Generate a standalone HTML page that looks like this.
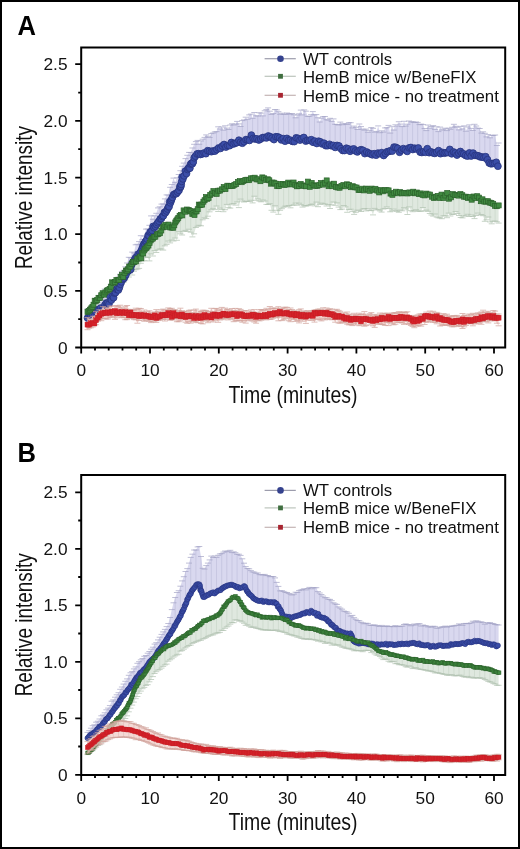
<!DOCTYPE html>
<html><head><meta charset="utf-8"><style>html,body{margin:0;padding:0;background:#fff}svg{display:block;will-change:transform}</style></head>
<body>
<svg width="520" height="849" viewBox="0 0 520 849">
<style>.tl{font-family:"Liberation Sans",sans-serif;font-size:17.3px;fill:#111}.lg{font-family:"Liberation Sans",sans-serif;font-size:16.8px;fill:#111}.ti{font-family:"Liberation Sans",sans-serif;font-size:23.6px;fill:#111}.pl{font-family:"Liberation Sans",sans-serif;font-weight:bold;font-size:27.5px;fill:#000}</style>
<rect x="0" y="0" width="520" height="849" fill="#fff"/>
<rect x="1" y="1" width="518" height="847" fill="none" stroke="#000" stroke-width="2"/>
<polygon points="87.5,308.9 89.2,310.4 90.9,307.4 92.7,306.6 94.4,304.6 96.1,306.6 97.8,302.8 99.5,296.8 101.3,299.0 103.0,294.3 104.7,289.1 106.4,292.6 108.1,294.3 109.9,289.1 111.6,284.0 113.3,282.0 115.0,284.2 116.7,279.6 118.5,277.0 120.2,274.3 121.9,271.6 123.6,270.3 125.3,266.8 127.1,263.0 128.8,257.3 130.5,257.7 132.2,252.1 133.9,253.0 135.7,244.8 137.4,244.3 139.1,241.6 140.8,235.7 142.5,239.6 144.3,236.2 146.0,229.1 147.7,229.0 149.4,225.3 151.1,215.9 152.9,219.3 154.6,215.8 156.3,213.3 158.0,207.9 159.7,206.8 161.5,204.1 163.2,203.9 164.9,198.9 166.6,194.9 168.3,195.1 170.1,187.3 171.8,184.5 173.5,178.1 175.2,182.4 176.9,177.8 178.7,174.5 180.4,170.7 182.1,166.3 183.8,163.1 185.5,158.6 187.3,155.3 189.0,152.4 190.7,152.5 192.4,148.0 194.1,144.3 195.9,141.6 197.6,140.4 199.3,144.3 201.0,141.0 202.7,139.2 204.5,137.4 206.2,134.9 207.9,136.3 209.6,137.5 211.3,133.6 213.1,133.0 214.8,131.9 216.5,131.6 218.2,126.8 219.9,129.0 221.7,127.0 223.4,130.2 225.1,125.8 226.8,128.1 228.5,129.5 230.3,125.0 232.0,123.8 233.7,125.0 235.4,124.1 237.1,121.4 238.9,123.9 240.6,126.5 242.3,120.6 244.0,119.9 245.7,117.2 247.5,119.3 249.2,114.9 250.9,114.1 252.6,118.3 254.3,112.5 256.1,115.8 257.8,116.0 259.5,112.8 261.2,113.1 262.9,115.9 264.7,110.8 266.4,109.6 268.1,107.9 269.8,111.2 271.5,114.5 273.3,113.5 275.0,109.5 276.7,109.9 278.4,111.7 280.1,114.3 281.9,113.2 283.6,114.2 285.3,114.4 287.0,113.0 288.7,113.6 290.5,114.2 292.2,113.5 293.9,114.8 295.6,117.8 297.3,115.0 299.1,113.8 300.8,110.1 302.5,114.9 304.2,109.9 305.9,111.2 307.7,116.4 309.4,116.3 311.1,114.7 312.8,111.6 314.5,114.9 316.3,114.6 318.0,117.8 319.7,122.0 321.4,118.2 323.1,116.7 324.9,116.5 326.6,119.7 328.3,120.1 330.0,118.3 331.7,121.4 333.5,118.9 335.2,124.3 336.9,124.5 338.6,125.0 340.3,122.1 342.1,124.7 343.8,123.8 345.5,123.8 347.2,124.4 348.9,122.7 350.7,122.7 352.4,127.9 354.1,126.1 355.8,127.3 357.5,129.5 359.3,124.0 361.0,126.6 362.7,129.2 364.4,130.2 366.1,129.1 367.9,132.3 369.6,130.6 371.3,127.6 373.0,128.3 374.7,132.2 376.5,131.4 378.2,125.9 379.9,132.7 381.6,130.8 383.3,132.1 385.1,127.9 386.8,127.7 388.5,125.4 390.2,133.1 391.9,126.7 393.7,130.1 395.4,124.8 397.1,126.1 398.8,121.7 400.5,124.1 402.3,126.6 404.0,121.3 405.7,126.1 407.4,124.2 409.1,121.0 410.9,121.9 412.6,121.8 414.3,122.5 416.0,122.0 417.7,122.4 419.5,124.6 421.2,124.1 422.9,124.6 424.6,128.5 426.3,130.6 428.1,125.0 429.8,128.2 431.5,126.5 433.2,125.6 434.9,129.4 436.7,126.8 438.4,131.6 440.1,127.1 441.8,130.1 443.5,129.1 445.3,128.2 447.0,130.6 448.7,128.3 450.4,129.3 452.1,127.3 453.9,124.3 455.6,126.3 457.3,127.3 459.0,129.9 460.7,126.4 462.5,129.0 464.2,125.9 465.9,131.2 467.6,127.0 469.3,124.9 471.1,128.4 472.8,130.5 474.5,124.3 476.2,126.0 477.9,128.1 479.7,128.5 481.4,133.1 483.1,131.8 484.8,133.3 486.5,136.9 488.3,134.6 490.0,137.8 491.7,135.4 493.4,135.5 495.1,135.0 496.9,145.5 498.6,143.0 498.6,162.5 496.9,163.5 495.1,162.5 493.4,163.2 491.7,159.3 490.0,163.5 488.3,160.5 486.5,159.9 484.8,157.6 483.1,158.4 481.4,156.2 479.7,155.4 477.9,155.2 476.2,154.1 474.5,155.6 472.8,155.2 471.1,156.2 469.3,153.4 467.6,154.6 465.9,155.9 464.2,153.8 462.5,153.8 460.7,154.2 459.0,153.0 457.3,152.5 455.6,152.0 453.9,148.6 452.1,149.7 450.4,153.6 448.7,152.9 447.0,151.9 445.3,154.9 443.5,151.2 441.8,151.8 440.1,155.2 438.4,155.6 436.7,153.9 434.9,153.2 433.2,153.5 431.5,150.3 429.8,154.0 428.1,151.0 426.3,152.8 424.6,152.3 422.9,151.6 421.2,150.6 419.5,149.0 417.7,149.9 416.0,149.2 414.3,145.7 412.6,147.0 410.9,148.6 409.1,149.2 407.4,150.1 405.7,148.7 404.0,148.6 402.3,148.4 400.5,149.7 398.8,148.1 397.1,148.2 395.4,148.8 393.7,149.9 391.9,149.6 390.2,153.1 388.5,150.3 386.8,151.4 385.1,153.6 383.3,153.2 381.6,154.7 379.9,153.1 378.2,154.4 376.5,154.4 374.7,155.3 373.0,151.6 371.3,152.9 369.6,153.2 367.9,151.2 366.1,154.9 364.4,153.1 362.7,150.8 361.0,151.0 359.3,153.9 357.5,150.2 355.8,148.9 354.1,149.9 352.4,149.3 350.7,149.3 348.9,148.0 347.2,147.8 345.5,147.0 343.8,147.6 342.1,148.6 340.3,146.6 338.6,148.3 336.9,144.4 335.2,145.2 333.5,144.8 331.7,145.7 330.0,144.8 328.3,147.0 326.6,143.6 324.9,144.2 323.1,143.5 321.4,143.3 319.7,144.9 318.0,144.1 316.3,139.7 314.5,141.5 312.8,141.9 311.1,139.1 309.4,140.8 307.7,137.2 305.9,140.8 304.2,136.6 302.5,140.1 300.8,138.0 299.1,136.8 297.3,139.6 295.6,139.1 293.9,140.3 292.2,140.6 290.5,141.9 288.7,139.1 287.0,140.2 285.3,137.8 283.6,138.8 281.9,138.1 280.1,136.2 278.4,137.9 276.7,137.9 275.0,136.6 273.3,136.6 271.5,137.5 269.8,137.1 268.1,135.8 266.4,135.6 264.7,140.1 262.9,137.4 261.2,136.1 259.5,137.1 257.8,134.8 256.1,135.7 254.3,138.8 252.6,136.9 250.9,139.8 249.2,139.4 247.5,141.3 245.7,140.1 244.0,142.2 242.3,141.9 240.6,143.6 238.9,145.0 237.1,143.1 235.4,144.1 233.7,142.9 232.0,144.5 230.3,144.9 228.5,146.0 226.8,145.6 225.1,145.9 223.4,149.2 221.7,147.2 219.9,147.6 218.2,148.1 216.5,150.1 214.8,151.4 213.1,150.0 211.3,150.0 209.6,148.4 207.9,152.6 206.2,151.1 204.5,150.8 202.7,154.8 201.0,155.0 199.3,154.1 197.6,154.5 195.9,154.6 194.1,158.3 192.4,160.6 190.7,164.8 189.0,167.9 187.3,174.2 185.5,175.2 183.8,176.3 182.1,180.4 180.4,186.1 178.7,191.2 176.9,192.3 175.2,192.2 173.5,196.7 171.8,201.3 170.1,202.3 168.3,208.0 166.6,211.8 164.9,211.1 163.2,218.0 161.5,218.9 159.7,219.2 158.0,223.1 156.3,225.2 154.6,227.0 152.9,228.9 151.1,233.7 149.4,235.2 147.7,236.9 146.0,242.7 144.3,243.5 142.5,246.8 140.8,250.9 139.1,252.2 137.4,256.7 135.7,258.7 133.9,260.8 132.2,260.8 130.5,266.8 128.8,270.1 127.1,273.2 125.3,274.2 123.6,278.7 121.9,279.5 120.2,283.3 118.5,285.4 116.7,290.4 115.0,292.0 113.3,297.8 111.6,299.1 109.9,299.8 108.1,303.2 106.4,305.3 104.7,307.2 103.0,307.4 101.3,309.0 99.5,312.5 97.8,311.8 96.1,311.3 94.4,313.1 92.7,313.5 90.9,315.3 89.2,317.1 87.5,317.6" fill="#d9d8ef" fill-opacity="1.0"/>
<path d="M87.5 308.9V317.6M92.7 306.6V313.5M97.8 302.8V311.8M103.0 294.3V307.4M108.1 294.3V303.2M113.3 282.0V297.8M118.5 277.0V285.4M123.6 270.3V278.7M128.8 257.3V270.1M133.9 253.0V260.8M139.1 241.6V252.2M144.3 236.2V243.5M149.4 225.3V235.2M154.6 215.8V227.0M159.7 206.8V219.2M164.9 198.9V211.1M170.1 187.3V202.3M175.2 182.4V192.2M180.4 170.7V186.1M185.5 158.6V175.2M190.7 152.5V164.8M195.9 141.6V154.6M201.0 141.0V155.0M206.2 134.9V151.1M211.3 133.6V150.0M216.5 131.6V150.1M221.7 127.0V147.2M226.8 128.1V145.6M232.0 123.8V144.5M237.1 121.4V143.1M242.3 120.6V141.9M247.5 119.3V141.3M252.6 118.3V136.9M257.8 116.0V134.8M262.9 115.9V137.4M268.1 107.9V135.8M273.3 113.5V136.6M278.4 111.7V137.9M283.6 114.2V138.8M288.7 113.6V139.1M293.9 114.8V140.3M299.1 113.8V136.8M304.2 109.9V136.6M309.4 116.3V140.8M314.5 114.9V141.5M319.7 122.0V144.9M324.9 116.5V144.2M330.0 118.3V144.8M335.2 124.3V145.2M340.3 122.1V146.6M345.5 123.8V147.0M350.7 122.7V149.3M355.8 127.3V148.9M361.0 126.6V151.0M366.1 129.1V154.9M371.3 127.6V152.9M376.5 131.4V154.4M381.6 130.8V154.7M386.8 127.7V151.4M391.9 126.7V149.6M397.1 126.1V148.2M402.3 126.6V148.4M407.4 124.2V150.1M412.6 121.8V147.0M417.7 122.4V149.9M422.9 124.6V151.6M428.1 125.0V151.0M433.2 125.6V153.5M438.4 131.6V155.6M443.5 129.1V151.2M448.7 128.3V152.9M453.9 124.3V148.6M459.0 129.9V153.0M464.2 125.9V153.8M469.3 124.9V153.4M474.5 124.3V155.6M479.7 128.5V155.4M484.8 133.3V157.6M490.0 137.8V163.5M495.1 135.0V162.5" stroke="#a3a3c6" stroke-opacity="0.45" stroke-width="0.7" fill="none"/>
<path d="M84.5 308.9h6M86.2 310.4h6M87.9 307.4h6M89.7 306.6h6M91.4 304.6h6M93.1 306.6h6M94.8 302.8h6M96.5 296.8h6M98.3 299.0h6M100.0 294.3h6M101.7 289.1h6M103.4 292.6h6M105.1 294.3h6M106.9 289.1h6M108.6 284.0h6M110.3 282.0h6M112.0 284.2h6M113.7 279.6h6M115.5 277.0h6M117.2 274.3h6M118.9 271.6h6M120.6 270.3h6M122.3 266.8h6M124.1 263.0h6M125.8 257.3h6M127.5 257.7h6M129.2 252.1h6M130.9 253.0h6M132.7 244.8h6M134.4 244.3h6M136.1 241.6h6M137.8 235.7h6M139.5 239.6h6M141.3 236.2h6M143.0 229.1h6M144.7 229.0h6M146.4 225.3h6M148.1 215.9h6M149.9 219.3h6M151.6 215.8h6M153.3 213.3h6M155.0 207.9h6M156.7 206.8h6M158.5 204.1h6M160.2 203.9h6M161.9 198.9h6M163.6 194.9h6M165.3 195.1h6M167.1 187.3h6M168.8 184.5h6M170.5 178.1h6M172.2 182.4h6M173.9 177.8h6M175.7 174.5h6M177.4 170.7h6M179.1 166.3h6M180.8 163.1h6M182.5 158.6h6M184.3 155.3h6M186.0 152.4h6M187.7 152.5h6M189.4 148.0h6M191.1 144.3h6M192.9 141.6h6M194.6 140.4h6M196.3 144.3h6M198.0 141.0h6M199.7 139.2h6M201.5 137.4h6M203.2 134.9h6M204.9 136.3h6M206.6 137.5h6M208.3 133.6h6M210.1 133.0h6M211.8 131.9h6M213.5 131.6h6M215.2 126.8h6M216.9 129.0h6M218.7 127.0h6M220.4 130.2h6M222.1 125.8h6M223.8 128.1h6M225.5 129.5h6M227.3 125.0h6M229.0 123.8h6M230.7 125.0h6M232.4 124.1h6M234.1 121.4h6M235.9 123.9h6M237.6 126.5h6M239.3 120.6h6M241.0 119.9h6M242.7 117.2h6M244.5 119.3h6M246.2 114.9h6M247.9 114.1h6M249.6 118.3h6M251.3 112.5h6M253.1 115.8h6M254.8 116.0h6M256.5 112.8h6M258.2 113.1h6M259.9 115.9h6M261.7 110.8h6M263.4 109.6h6M265.1 107.9h6M266.8 111.2h6M268.5 114.5h6M270.3 113.5h6M272.0 109.5h6M273.7 109.9h6M275.4 111.7h6M277.1 114.3h6M278.9 113.2h6M280.6 114.2h6M282.3 114.4h6M284.0 113.0h6M285.7 113.6h6M287.5 114.2h6M289.2 113.5h6M290.9 114.8h6M292.6 117.8h6M294.3 115.0h6M296.1 113.8h6M297.8 110.1h6M299.5 114.9h6M301.2 109.9h6M302.9 111.2h6M304.7 116.4h6M306.4 116.3h6M308.1 114.7h6M309.8 111.6h6M311.5 114.9h6M313.3 114.6h6M315.0 117.8h6M316.7 122.0h6M318.4 118.2h6M320.1 116.7h6M321.9 116.5h6M323.6 119.7h6M325.3 120.1h6M327.0 118.3h6M328.7 121.4h6M330.5 118.9h6M332.2 124.3h6M333.9 124.5h6M335.6 125.0h6M337.3 122.1h6M339.1 124.7h6M340.8 123.8h6M342.5 123.8h6M344.2 124.4h6M345.9 122.7h6M347.7 122.7h6M349.4 127.9h6M351.1 126.1h6M352.8 127.3h6M354.5 129.5h6M356.3 124.0h6M358.0 126.6h6M359.7 129.2h6M361.4 130.2h6M363.1 129.1h6M364.9 132.3h6M366.6 130.6h6M368.3 127.6h6M370.0 128.3h6M371.7 132.2h6M373.5 131.4h6M375.2 125.9h6M376.9 132.7h6M378.6 130.8h6M380.3 132.1h6M382.1 127.9h6M383.8 127.7h6M385.5 125.4h6M387.2 133.1h6M388.9 126.7h6M390.7 130.1h6M392.4 124.8h6M394.1 126.1h6M395.8 121.7h6M397.5 124.1h6M399.3 126.6h6M401.0 121.3h6M402.7 126.1h6M404.4 124.2h6M406.1 121.0h6M407.9 121.9h6M409.6 121.8h6M411.3 122.5h6M413.0 122.0h6M414.7 122.4h6M416.5 124.6h6M418.2 124.1h6M419.9 124.6h6M421.6 128.5h6M423.3 130.6h6M425.1 125.0h6M426.8 128.2h6M428.5 126.5h6M430.2 125.6h6M431.9 129.4h6M433.7 126.8h6M435.4 131.6h6M437.1 127.1h6M438.8 130.1h6M440.5 129.1h6M442.3 128.2h6M444.0 130.6h6M445.7 128.3h6M447.4 129.3h6M449.1 127.3h6M450.9 124.3h6M452.6 126.3h6M454.3 127.3h6M456.0 129.9h6M457.7 126.4h6M459.5 129.0h6M461.2 125.9h6M462.9 131.2h6M464.6 127.0h6M466.3 124.9h6M468.1 128.4h6M469.8 130.5h6M471.5 124.3h6M473.2 126.0h6M474.9 128.1h6M476.7 128.5h6M478.4 133.1h6M480.1 131.8h6M481.8 133.3h6M483.5 136.9h6M485.3 134.6h6M487.0 137.8h6M488.7 135.4h6M490.4 135.5h6M492.1 135.0h6M493.9 145.5h6M495.6 143.0h6" stroke="#a3a3c6" stroke-width="0.7" fill="none"/>
<polygon points="87.5,311.2 89.2,309.2 90.9,307.0 92.7,305.2 94.4,302.3 96.1,300.7 97.8,297.8 99.5,296.8 101.3,298.1 103.0,293.9 104.7,292.1 106.4,291.4 108.1,290.0 109.9,286.2 111.6,285.3 113.3,284.8 115.0,282.6 116.7,281.0 118.5,281.1 120.2,277.0 121.9,276.1 123.6,273.8 125.3,274.3 127.1,268.1 128.8,267.2 130.5,265.0 132.2,264.4 133.9,262.9 135.7,262.3 137.4,257.5 139.1,258.6 140.8,255.4 142.5,252.4 144.3,251.1 146.0,246.8 147.7,243.0 149.4,242.4 151.1,238.7 152.9,237.2 154.6,236.2 156.3,234.8 158.0,234.8 159.7,231.5 161.5,228.6 163.2,227.7 164.9,225.9 166.6,223.8 168.3,225.9 170.1,225.4 171.8,224.6 173.5,226.2 175.2,222.5 176.9,220.2 178.7,217.4 180.4,216.3 182.1,213.9 183.8,213.4 185.5,211.7 187.3,210.8 189.0,210.0 190.7,209.3 192.4,213.1 194.1,214.1 195.9,212.0 197.6,207.7 199.3,208.4 201.0,204.6 202.7,200.9 204.5,198.2 206.2,198.0 207.9,196.5 209.6,194.4 211.3,194.2 213.1,192.4 214.8,192.6 216.5,190.2 218.2,189.9 219.9,190.3 221.7,191.6 223.4,187.1 225.1,187.2 226.8,186.3 228.5,187.5 230.3,184.7 232.0,184.8 233.7,184.6 235.4,182.9 237.1,182.2 238.9,182.2 240.6,180.1 242.3,180.5 244.0,181.3 245.7,181.5 247.5,180.8 249.2,178.7 250.9,179.8 252.6,180.9 254.3,180.2 256.1,179.2 257.8,178.0 259.5,179.7 261.2,178.4 262.9,177.7 264.7,178.1 266.4,180.6 268.1,180.0 269.8,182.3 271.5,181.7 273.3,184.5 275.0,184.1 276.7,185.6 278.4,188.5 280.1,186.6 281.9,184.7 283.6,184.6 285.3,184.6 287.0,185.0 288.7,182.6 290.5,181.3 292.2,183.6 293.9,184.6 295.6,185.4 297.3,187.4 299.1,187.0 300.8,187.1 302.5,184.5 304.2,186.1 305.9,187.0 307.7,185.0 309.4,184.1 311.1,184.2 312.8,186.2 314.5,183.4 316.3,184.4 318.0,185.3 319.7,185.4 321.4,183.7 323.1,184.2 324.9,183.2 326.6,183.3 328.3,182.8 330.0,182.2 331.7,184.0 333.5,185.5 335.2,184.0 336.9,185.3 338.6,186.6 340.3,184.9 342.1,186.4 343.8,185.2 345.5,187.8 347.2,189.2 348.9,189.1 350.7,186.8 352.4,188.0 354.1,187.5 355.8,187.7 357.5,189.5 359.3,186.7 361.0,189.7 362.7,188.8 364.4,190.7 366.1,189.7 367.9,189.0 369.6,190.1 371.3,190.8 373.0,190.1 374.7,190.7 376.5,189.8 378.2,188.2 379.9,191.7 381.6,191.7 383.3,191.3 385.1,191.4 386.8,192.7 388.5,191.2 390.2,191.1 391.9,191.9 393.7,193.6 395.4,191.0 397.1,193.8 398.8,191.8 400.5,191.3 402.3,193.9 404.0,192.4 405.7,191.2 407.4,192.4 409.1,194.1 410.9,194.6 412.6,193.0 414.3,194.2 416.0,194.7 417.7,193.4 419.5,194.7 421.2,194.5 422.9,194.2 424.6,194.4 426.3,195.2 428.1,195.4 429.8,195.0 431.5,195.4 433.2,197.3 434.9,196.5 436.7,197.3 438.4,197.6 440.1,196.9 441.8,198.8 443.5,195.4 445.3,197.2 447.0,195.7 448.7,197.9 450.4,197.5 452.1,193.2 453.9,194.1 455.6,195.8 457.3,196.2 459.0,196.3 460.7,195.7 462.5,196.5 464.2,196.9 465.9,196.3 467.6,197.7 469.3,194.3 471.1,197.7 472.8,196.1 474.5,198.5 476.2,197.7 477.9,197.6 479.7,199.7 481.4,198.9 483.1,199.6 484.8,199.5 486.5,201.8 488.3,203.1 490.0,204.3 491.7,203.6 493.4,205.6 495.1,205.1 496.9,205.4 498.6,206.7 498.6,223.1 496.9,221.8 495.1,221.1 493.4,221.2 491.7,223.8 490.0,221.9 488.3,217.0 486.5,219.8 484.8,221.3 483.1,215.7 481.4,214.5 479.7,215.0 477.9,213.1 476.2,215.4 474.5,218.6 472.8,216.5 471.1,215.0 469.3,216.5 467.6,214.3 465.9,215.8 464.2,216.0 462.5,217.9 460.7,217.5 459.0,215.5 457.3,213.5 455.6,211.6 453.9,214.4 452.1,214.3 450.4,216.0 448.7,213.1 447.0,217.7 445.3,215.9 443.5,215.8 441.8,218.7 440.1,217.9 438.4,217.8 436.7,217.1 434.9,214.0 433.2,216.1 431.5,215.0 429.8,213.5 428.1,211.3 426.3,210.1 424.6,211.0 422.9,207.5 421.2,211.1 419.5,211.3 417.7,211.2 416.0,209.7 414.3,210.6 412.6,211.7 410.9,210.6 409.1,206.9 407.4,214.5 405.7,209.0 404.0,207.7 402.3,210.8 400.5,210.1 398.8,212.3 397.1,211.4 395.4,210.6 393.7,209.1 391.9,211.0 390.2,211.8 388.5,208.6 386.8,206.9 385.1,208.4 383.3,209.0 381.6,212.1 379.9,210.9 378.2,209.7 376.5,209.8 374.7,208.4 373.0,214.9 371.3,210.6 369.6,210.4 367.9,208.8 366.1,210.9 364.4,208.5 362.7,209.2 361.0,211.5 359.3,210.7 357.5,210.1 355.8,212.3 354.1,214.4 352.4,211.4 350.7,209.2 348.9,209.6 347.2,212.3 345.5,206.9 343.8,205.5 342.1,209.1 340.3,209.6 338.6,207.1 336.9,202.9 335.2,205.3 333.5,202.0 331.7,204.8 330.0,208.5 328.3,204.6 326.6,206.0 324.9,204.0 323.1,204.0 321.4,203.1 319.7,204.3 318.0,206.7 316.3,202.1 314.5,205.9 312.8,204.0 311.1,204.5 309.4,205.1 307.7,205.7 305.9,206.0 304.2,205.7 302.5,207.1 300.8,204.6 299.1,203.2 297.3,205.2 295.6,203.1 293.9,204.9 292.2,205.3 290.5,207.8 288.7,205.5 287.0,206.4 285.3,206.1 283.6,207.3 281.9,208.7 280.1,210.3 278.4,214.3 276.7,210.3 275.0,205.8 273.3,212.1 271.5,210.3 269.8,203.7 268.1,204.5 266.4,204.4 264.7,201.0 262.9,200.0 261.2,201.8 259.5,201.1 257.8,198.9 256.1,200.3 254.3,196.2 252.6,202.9 250.9,200.3 249.2,201.4 247.5,201.4 245.7,201.4 244.0,202.0 242.3,201.0 240.6,199.1 238.9,207.6 237.1,201.9 235.4,205.1 233.7,203.5 232.0,204.1 230.3,208.1 228.5,207.7 226.8,204.4 225.1,209.7 223.4,211.7 221.7,209.6 219.9,208.1 218.2,211.5 216.5,206.0 214.8,209.6 213.1,208.4 211.3,209.8 209.6,211.8 207.9,216.2 206.2,218.6 204.5,217.8 202.7,219.8 201.0,225.8 199.3,225.3 197.6,226.2 195.9,227.5 194.1,233.8 192.4,236.9 190.7,232.2 189.0,229.2 187.3,231.5 185.5,230.4 183.8,231.3 182.1,235.0 180.4,233.8 178.7,231.7 176.9,240.3 175.2,238.0 173.5,241.0 171.8,240.0 170.1,242.9 168.3,241.0 166.6,244.4 164.9,245.8 163.2,250.1 161.5,249.0 159.7,249.0 158.0,249.9 156.3,252.5 154.6,250.6 152.9,256.0 151.1,253.9 149.4,260.9 147.7,257.5 146.0,257.1 144.3,260.7 142.5,261.0 140.8,263.3 139.1,268.4 137.4,269.1 135.7,269.7 133.9,271.2 132.2,275.0 130.5,271.4 128.8,277.0 127.1,275.4 125.3,280.1 123.6,282.3 121.9,284.0 120.2,286.3 118.5,286.3 116.7,287.1 115.0,291.5 113.3,294.3 111.6,292.7 109.9,297.2 108.1,293.4 106.4,296.2 104.7,297.3 103.0,296.1 101.3,299.9 99.5,299.4 97.8,304.6 96.1,303.1 94.4,307.5 92.7,309.4 90.9,311.5 89.2,313.7 87.5,318.9" fill="#dfe8df" fill-opacity="1.0"/>
<path d="M87.5 318.9V311.2M92.7 309.4V305.2M97.8 304.6V297.8M103.0 296.1V293.9M108.1 293.4V290.0M113.3 294.3V284.8M118.5 286.3V281.1M123.6 282.3V273.8M128.8 277.0V267.2M133.9 271.2V262.9M139.1 268.4V258.6M144.3 260.7V251.1M149.4 260.9V242.4M154.6 250.6V236.2M159.7 249.0V231.5M164.9 245.8V225.9M170.1 242.9V225.4M175.2 238.0V222.5M180.4 233.8V216.3M185.5 230.4V211.7M190.7 232.2V209.3M195.9 227.5V212.0M201.0 225.8V204.6M206.2 218.6V198.0M211.3 209.8V194.2M216.5 206.0V190.2M221.7 209.6V191.6M226.8 204.4V186.3M232.0 204.1V184.8M237.1 201.9V182.2M242.3 201.0V180.5M247.5 201.4V180.8M252.6 202.9V180.9M257.8 198.9V178.0M262.9 200.0V177.7M268.1 204.5V180.0M273.3 212.1V184.5M278.4 214.3V188.5M283.6 207.3V184.6M288.7 205.5V182.6M293.9 204.9V184.6M299.1 203.2V187.0M304.2 205.7V186.1M309.4 205.1V184.1M314.5 205.9V183.4M319.7 204.3V185.4M324.9 204.0V183.2M330.0 208.5V182.2M335.2 205.3V184.0M340.3 209.6V184.9M345.5 206.9V187.8M350.7 209.2V186.8M355.8 212.3V187.7M361.0 211.5V189.7M366.1 210.9V189.7M371.3 210.6V190.8M376.5 209.8V189.8M381.6 212.1V191.7M386.8 206.9V192.7M391.9 211.0V191.9M397.1 211.4V193.8M402.3 210.8V193.9M407.4 214.5V192.4M412.6 211.7V193.0M417.7 211.2V193.4M422.9 207.5V194.2M428.1 211.3V195.4M433.2 216.1V197.3M438.4 217.8V197.6M443.5 215.8V195.4M448.7 213.1V197.9M453.9 214.4V194.1M459.0 215.5V196.3M464.2 216.0V196.9M469.3 216.5V194.3M474.5 218.6V198.5M479.7 215.0V199.7M484.8 221.3V199.5M490.0 221.9V204.3M495.1 221.1V205.1" stroke="#b0c2b0" stroke-opacity="0.45" stroke-width="0.7" fill="none"/>
<path d="M84.5 318.9h6M86.2 313.7h6M87.9 311.5h6M89.7 309.4h6M91.4 307.5h6M93.1 303.1h6M94.8 304.6h6M96.5 299.4h6M98.3 299.9h6M100.0 296.1h6M101.7 297.3h6M103.4 296.2h6M105.1 293.4h6M106.9 297.2h6M108.6 292.7h6M110.3 294.3h6M112.0 291.5h6M113.7 287.1h6M115.5 286.3h6M117.2 286.3h6M118.9 284.0h6M120.6 282.3h6M122.3 280.1h6M124.1 275.4h6M125.8 277.0h6M127.5 271.4h6M129.2 275.0h6M130.9 271.2h6M132.7 269.7h6M134.4 269.1h6M136.1 268.4h6M137.8 263.3h6M139.5 261.0h6M141.3 260.7h6M143.0 257.1h6M144.7 257.5h6M146.4 260.9h6M148.1 253.9h6M149.9 256.0h6M151.6 250.6h6M153.3 252.5h6M155.0 249.9h6M156.7 249.0h6M158.5 249.0h6M160.2 250.1h6M161.9 245.8h6M163.6 244.4h6M165.3 241.0h6M167.1 242.9h6M168.8 240.0h6M170.5 241.0h6M172.2 238.0h6M173.9 240.3h6M175.7 231.7h6M177.4 233.8h6M179.1 235.0h6M180.8 231.3h6M182.5 230.4h6M184.3 231.5h6M186.0 229.2h6M187.7 232.2h6M189.4 236.9h6M191.1 233.8h6M192.9 227.5h6M194.6 226.2h6M196.3 225.3h6M198.0 225.8h6M199.7 219.8h6M201.5 217.8h6M203.2 218.6h6M204.9 216.2h6M206.6 211.8h6M208.3 209.8h6M210.1 208.4h6M211.8 209.6h6M213.5 206.0h6M215.2 211.5h6M216.9 208.1h6M218.7 209.6h6M220.4 211.7h6M222.1 209.7h6M223.8 204.4h6M225.5 207.7h6M227.3 208.1h6M229.0 204.1h6M230.7 203.5h6M232.4 205.1h6M234.1 201.9h6M235.9 207.6h6M237.6 199.1h6M239.3 201.0h6M241.0 202.0h6M242.7 201.4h6M244.5 201.4h6M246.2 201.4h6M247.9 200.3h6M249.6 202.9h6M251.3 196.2h6M253.1 200.3h6M254.8 198.9h6M256.5 201.1h6M258.2 201.8h6M259.9 200.0h6M261.7 201.0h6M263.4 204.4h6M265.1 204.5h6M266.8 203.7h6M268.5 210.3h6M270.3 212.1h6M272.0 205.8h6M273.7 210.3h6M275.4 214.3h6M277.1 210.3h6M278.9 208.7h6M280.6 207.3h6M282.3 206.1h6M284.0 206.4h6M285.7 205.5h6M287.5 207.8h6M289.2 205.3h6M290.9 204.9h6M292.6 203.1h6M294.3 205.2h6M296.1 203.2h6M297.8 204.6h6M299.5 207.1h6M301.2 205.7h6M302.9 206.0h6M304.7 205.7h6M306.4 205.1h6M308.1 204.5h6M309.8 204.0h6M311.5 205.9h6M313.3 202.1h6M315.0 206.7h6M316.7 204.3h6M318.4 203.1h6M320.1 204.0h6M321.9 204.0h6M323.6 206.0h6M325.3 204.6h6M327.0 208.5h6M328.7 204.8h6M330.5 202.0h6M332.2 205.3h6M333.9 202.9h6M335.6 207.1h6M337.3 209.6h6M339.1 209.1h6M340.8 205.5h6M342.5 206.9h6M344.2 212.3h6M345.9 209.6h6M347.7 209.2h6M349.4 211.4h6M351.1 214.4h6M352.8 212.3h6M354.5 210.1h6M356.3 210.7h6M358.0 211.5h6M359.7 209.2h6M361.4 208.5h6M363.1 210.9h6M364.9 208.8h6M366.6 210.4h6M368.3 210.6h6M370.0 214.9h6M371.7 208.4h6M373.5 209.8h6M375.2 209.7h6M376.9 210.9h6M378.6 212.1h6M380.3 209.0h6M382.1 208.4h6M383.8 206.9h6M385.5 208.6h6M387.2 211.8h6M388.9 211.0h6M390.7 209.1h6M392.4 210.6h6M394.1 211.4h6M395.8 212.3h6M397.5 210.1h6M399.3 210.8h6M401.0 207.7h6M402.7 209.0h6M404.4 214.5h6M406.1 206.9h6M407.9 210.6h6M409.6 211.7h6M411.3 210.6h6M413.0 209.7h6M414.7 211.2h6M416.5 211.3h6M418.2 211.1h6M419.9 207.5h6M421.6 211.0h6M423.3 210.1h6M425.1 211.3h6M426.8 213.5h6M428.5 215.0h6M430.2 216.1h6M431.9 214.0h6M433.7 217.1h6M435.4 217.8h6M437.1 217.9h6M438.8 218.7h6M440.5 215.8h6M442.3 215.9h6M444.0 217.7h6M445.7 213.1h6M447.4 216.0h6M449.1 214.3h6M450.9 214.4h6M452.6 211.6h6M454.3 213.5h6M456.0 215.5h6M457.7 217.5h6M459.5 217.9h6M461.2 216.0h6M462.9 215.8h6M464.6 214.3h6M466.3 216.5h6M468.1 215.0h6M469.8 216.5h6M471.5 218.6h6M473.2 215.4h6M474.9 213.1h6M476.7 215.0h6M478.4 214.5h6M480.1 215.7h6M481.8 221.3h6M483.5 219.8h6M485.3 217.0h6M487.0 221.9h6M488.7 223.8h6M490.4 221.2h6M492.1 221.1h6M493.9 221.8h6M495.6 223.1h6" stroke="#b0c2b0" stroke-width="0.7" fill="none"/>
<g fill="#3b4ea8" stroke="#27337e" stroke-width="0.8"><circle cx="87.5" cy="318.0" r="3.4"/><circle cx="89.2" cy="316.7" r="3.4"/><circle cx="90.8" cy="316.0" r="3.4"/><circle cx="92.5" cy="314.9" r="3.4"/><circle cx="94.1" cy="316.6" r="3.4"/><circle cx="95.7" cy="311.5" r="3.4"/><circle cx="97.4" cy="309.8" r="3.4"/><circle cx="99.0" cy="309.6" r="3.4"/><circle cx="100.6" cy="308.1" r="3.4"/><circle cx="102.2" cy="310.0" r="3.4"/><circle cx="103.6" cy="308.8" r="3.4"/><circle cx="104.9" cy="304.9" r="3.4"/><circle cx="106.3" cy="303.0" r="3.4"/><circle cx="107.6" cy="303.1" r="3.4"/><circle cx="108.9" cy="304.2" r="3.4"/><circle cx="110.1" cy="296.8" r="3.4"/><circle cx="111.4" cy="300.1" r="3.4"/><circle cx="112.6" cy="296.4" r="3.4"/><circle cx="113.6" cy="297.7" r="3.4"/><circle cx="114.6" cy="293.1" r="3.4"/><circle cx="115.6" cy="292.6" r="3.4"/><circle cx="116.5" cy="289.3" r="3.4"/><circle cx="117.5" cy="288.4" r="3.4"/><circle cx="118.4" cy="290.0" r="3.4"/><circle cx="119.4" cy="287.6" r="3.4"/><circle cx="120.4" cy="284.3" r="3.4"/><circle cx="121.3" cy="281.9" r="3.4"/><circle cx="122.2" cy="278.9" r="3.4"/><circle cx="123.2" cy="279.3" r="3.4"/><circle cx="124.1" cy="278.1" r="3.4"/><circle cx="125.0" cy="276.4" r="3.4"/><circle cx="125.9" cy="274.7" r="3.4"/><circle cx="126.9" cy="271.6" r="3.4"/><circle cx="127.8" cy="271.5" r="3.4"/><circle cx="128.7" cy="269.9" r="3.4"/><circle cx="129.7" cy="270.1" r="3.4"/><circle cx="130.7" cy="269.3" r="3.4"/><circle cx="131.7" cy="264.9" r="3.4"/><circle cx="132.7" cy="262.4" r="3.4"/><circle cx="133.7" cy="261.7" r="3.4"/><circle cx="134.7" cy="259.4" r="3.4"/><circle cx="135.7" cy="257.6" r="3.4"/><circle cx="136.9" cy="257.0" r="3.4"/><circle cx="138.1" cy="254.2" r="3.4"/><circle cx="139.3" cy="255.0" r="3.4"/><circle cx="140.3" cy="252.4" r="3.4"/><circle cx="141.2" cy="251.2" r="3.4"/><circle cx="142.0" cy="248.9" r="3.4"/><circle cx="142.9" cy="246.4" r="3.4"/><circle cx="143.7" cy="244.4" r="3.4"/><circle cx="144.6" cy="243.7" r="3.4"/><circle cx="145.4" cy="241.6" r="3.4"/><circle cx="146.3" cy="241.0" r="3.4"/><circle cx="147.1" cy="239.0" r="3.4"/><circle cx="148.1" cy="235.4" r="3.4"/><circle cx="149.1" cy="235.8" r="3.4"/><circle cx="150.1" cy="232.2" r="3.4"/><circle cx="151.1" cy="231.6" r="3.4"/><circle cx="152.1" cy="230.5" r="3.4"/><circle cx="153.1" cy="226.4" r="3.4"/><circle cx="154.1" cy="227.8" r="3.4"/><circle cx="155.4" cy="226.4" r="3.4"/><circle cx="156.6" cy="224.5" r="3.4"/><circle cx="157.8" cy="222.7" r="3.4"/><circle cx="159.0" cy="221.3" r="3.4"/><circle cx="160.2" cy="219.0" r="3.4"/><circle cx="161.4" cy="218.5" r="3.4"/><circle cx="162.4" cy="216.5" r="3.4"/><circle cx="163.4" cy="215.8" r="3.4"/><circle cx="164.4" cy="212.4" r="3.4"/><circle cx="165.4" cy="212.8" r="3.4"/><circle cx="166.5" cy="211.0" r="3.4"/><circle cx="167.5" cy="209.0" r="3.4"/><circle cx="168.4" cy="207.0" r="3.4"/><circle cx="169.1" cy="206.6" r="3.4"/><circle cx="169.7" cy="201.7" r="3.4"/><circle cx="170.4" cy="202.9" r="3.4"/><circle cx="171.1" cy="200.8" r="3.4"/><circle cx="171.7" cy="199.1" r="3.4"/><circle cx="172.4" cy="197.4" r="3.4"/><circle cx="173.6" cy="194.6" r="3.4"/><circle cx="175.0" cy="193.8" r="3.4"/><circle cx="176.3" cy="193.7" r="3.4"/><circle cx="177.6" cy="192.1" r="3.4"/><circle cx="179.0" cy="190.4" r="3.4"/><circle cx="179.9" cy="186.4" r="3.4"/><circle cx="180.3" cy="187.4" r="3.4"/><circle cx="180.8" cy="186.4" r="3.4"/><circle cx="181.2" cy="184.4" r="3.4"/><circle cx="181.7" cy="181.4" r="3.4"/><circle cx="182.1" cy="177.1" r="3.4"/><circle cx="182.9" cy="178.9" r="3.4"/><circle cx="184.1" cy="175.9" r="3.4"/><circle cx="185.3" cy="171.1" r="3.4"/><circle cx="186.5" cy="173.6" r="3.4"/><circle cx="187.7" cy="169.5" r="3.4"/><circle cx="188.5" cy="168.2" r="3.4"/><circle cx="189.2" cy="167.3" r="3.4"/><circle cx="189.9" cy="168.2" r="3.4"/><circle cx="190.6" cy="164.1" r="3.4"/><circle cx="191.5" cy="163.3" r="3.4"/><circle cx="192.4" cy="163.7" r="3.4"/><circle cx="193.3" cy="161.9" r="3.4"/><circle cx="194.2" cy="157.8" r="3.4"/><circle cx="195.4" cy="156.2" r="3.4"/><circle cx="197.1" cy="153.9" r="3.4"/><circle cx="198.7" cy="153.7" r="3.4"/><circle cx="200.4" cy="154.5" r="3.4"/><circle cx="202.2" cy="153.9" r="3.4"/><circle cx="204.1" cy="153.0" r="3.4"/><circle cx="205.9" cy="153.7" r="3.4"/><circle cx="207.7" cy="150.7" r="3.4"/><circle cx="209.5" cy="151.1" r="3.4"/><circle cx="211.4" cy="151.7" r="3.4"/><circle cx="213.2" cy="150.9" r="3.4"/><circle cx="215.0" cy="151.1" r="3.4"/><circle cx="216.8" cy="149.6" r="3.4"/><circle cx="218.6" cy="148.0" r="3.4"/><circle cx="220.5" cy="148.4" r="3.4"/><circle cx="222.3" cy="146.0" r="3.4"/><circle cx="224.1" cy="144.5" r="3.4"/><circle cx="225.9" cy="147.1" r="3.4"/><circle cx="227.7" cy="145.6" r="3.4"/><circle cx="229.6" cy="145.7" r="3.4"/><circle cx="231.4" cy="142.5" r="3.4"/><circle cx="233.3" cy="144.0" r="3.4"/><circle cx="235.2" cy="143.3" r="3.4"/><circle cx="237.0" cy="142.6" r="3.4"/><circle cx="238.9" cy="140.2" r="3.4"/><circle cx="240.6" cy="142.2" r="3.4"/><circle cx="242.4" cy="143.2" r="3.4"/><circle cx="244.1" cy="141.7" r="3.4"/><circle cx="245.9" cy="139.6" r="3.4"/><circle cx="247.7" cy="139.7" r="3.4"/><circle cx="249.5" cy="140.4" r="3.4"/><circle cx="251.4" cy="135.1" r="3.4"/><circle cx="253.2" cy="138.4" r="3.4"/><circle cx="255.1" cy="139.0" r="3.4"/><circle cx="257.0" cy="138.8" r="3.4"/><circle cx="258.8" cy="140.0" r="3.4"/><circle cx="260.7" cy="139.0" r="3.4"/><circle cx="262.6" cy="137.6" r="3.4"/><circle cx="264.5" cy="137.4" r="3.4"/><circle cx="266.4" cy="137.9" r="3.4"/><circle cx="268.3" cy="136.0" r="3.4"/><circle cx="270.2" cy="136.7" r="3.4"/><circle cx="272.1" cy="138.1" r="3.4"/><circle cx="274.0" cy="139.6" r="3.4"/><circle cx="275.9" cy="136.7" r="3.4"/><circle cx="277.8" cy="136.9" r="3.4"/><circle cx="279.6" cy="137.8" r="3.4"/><circle cx="281.4" cy="139.9" r="3.4"/><circle cx="283.2" cy="138.6" r="3.4"/><circle cx="285.1" cy="141.2" r="3.4"/><circle cx="286.9" cy="138.4" r="3.4"/><circle cx="288.7" cy="140.1" r="3.4"/><circle cx="290.5" cy="140.2" r="3.4"/><circle cx="292.4" cy="141.4" r="3.4"/><circle cx="294.3" cy="141.6" r="3.4"/><circle cx="296.2" cy="137.8" r="3.4"/><circle cx="298.1" cy="138.4" r="3.4"/><circle cx="300.0" cy="140.1" r="3.4"/><circle cx="301.9" cy="138.7" r="3.4"/><circle cx="303.8" cy="137.5" r="3.4"/><circle cx="305.7" cy="141.1" r="3.4"/><circle cx="307.6" cy="140.3" r="3.4"/><circle cx="309.5" cy="140.5" r="3.4"/><circle cx="311.3" cy="139.7" r="3.4"/><circle cx="313.1" cy="142.3" r="3.4"/><circle cx="314.9" cy="141.1" r="3.4"/><circle cx="316.8" cy="143.5" r="3.4"/><circle cx="318.6" cy="141.2" r="3.4"/><circle cx="320.4" cy="141.9" r="3.4"/><circle cx="322.2" cy="143.9" r="3.4"/><circle cx="324.0" cy="143.2" r="3.4"/><circle cx="325.8" cy="145.7" r="3.4"/><circle cx="327.7" cy="145.7" r="3.4"/><circle cx="329.5" cy="144.3" r="3.4"/><circle cx="331.4" cy="145.8" r="3.4"/><circle cx="333.3" cy="145.4" r="3.4"/><circle cx="335.2" cy="147.4" r="3.4"/><circle cx="337.1" cy="145.4" r="3.4"/><circle cx="339.0" cy="146.0" r="3.4"/><circle cx="340.8" cy="148.6" r="3.4"/><circle cx="342.7" cy="150.5" r="3.4"/><circle cx="344.6" cy="150.5" r="3.4"/><circle cx="346.4" cy="148.2" r="3.4"/><circle cx="348.3" cy="148.9" r="3.4"/><circle cx="350.1" cy="151.3" r="3.4"/><circle cx="351.9" cy="149.5" r="3.4"/><circle cx="353.7" cy="148.9" r="3.4"/><circle cx="355.5" cy="150.9" r="3.4"/><circle cx="357.4" cy="151.9" r="3.4"/><circle cx="359.2" cy="150.5" r="3.4"/><circle cx="361.1" cy="149.7" r="3.4"/><circle cx="363.0" cy="150.3" r="3.4"/><circle cx="364.8" cy="153.6" r="3.4"/><circle cx="366.7" cy="152.0" r="3.4"/><circle cx="368.6" cy="153.1" r="3.4"/><circle cx="370.5" cy="153.9" r="3.4"/><circle cx="372.3" cy="154.8" r="3.4"/><circle cx="374.2" cy="153.7" r="3.4"/><circle cx="376.1" cy="155.2" r="3.4"/><circle cx="378.0" cy="153.1" r="3.4"/><circle cx="379.9" cy="153.7" r="3.4"/><circle cx="381.8" cy="152.6" r="3.4"/><circle cx="383.7" cy="155.5" r="3.4"/><circle cx="385.5" cy="153.5" r="3.4"/><circle cx="387.2" cy="151.7" r="3.4"/><circle cx="388.9" cy="151.4" r="3.4"/><circle cx="390.6" cy="150.7" r="3.4"/><circle cx="392.3" cy="151.1" r="3.4"/><circle cx="394.0" cy="147.1" r="3.4"/><circle cx="395.8" cy="147.3" r="3.4"/><circle cx="397.7" cy="148.3" r="3.4"/><circle cx="399.6" cy="152.3" r="3.4"/><circle cx="401.5" cy="150.1" r="3.4"/><circle cx="403.4" cy="148.6" r="3.4"/><circle cx="405.3" cy="149.8" r="3.4"/><circle cx="407.2" cy="151.4" r="3.4"/><circle cx="409.1" cy="147.9" r="3.4"/><circle cx="410.9" cy="147.5" r="3.4"/><circle cx="412.8" cy="149.5" r="3.4"/><circle cx="414.7" cy="148.2" r="3.4"/><circle cx="416.5" cy="149.0" r="3.4"/><circle cx="418.3" cy="148.0" r="3.4"/><circle cx="420.1" cy="152.1" r="3.4"/><circle cx="421.8" cy="152.5" r="3.4"/><circle cx="423.6" cy="151.6" r="3.4"/><circle cx="425.4" cy="152.3" r="3.4"/><circle cx="427.3" cy="148.7" r="3.4"/><circle cx="429.2" cy="152.7" r="3.4"/><circle cx="431.1" cy="151.8" r="3.4"/><circle cx="433.0" cy="152.9" r="3.4"/><circle cx="434.8" cy="153.4" r="3.4"/><circle cx="436.7" cy="152.2" r="3.4"/><circle cx="438.6" cy="150.6" r="3.4"/><circle cx="440.5" cy="153.7" r="3.4"/><circle cx="442.4" cy="152.4" r="3.4"/><circle cx="444.3" cy="153.2" r="3.4"/><circle cx="446.1" cy="152.7" r="3.4"/><circle cx="448.0" cy="152.6" r="3.4"/><circle cx="449.8" cy="149.4" r="3.4"/><circle cx="451.7" cy="153.8" r="3.4"/><circle cx="453.5" cy="152.0" r="3.4"/><circle cx="455.3" cy="153.0" r="3.4"/><circle cx="457.0" cy="155.1" r="3.4"/><circle cx="458.7" cy="153.2" r="3.4"/><circle cx="460.4" cy="151.5" r="3.4"/><circle cx="462.1" cy="153.6" r="3.4"/><circle cx="463.8" cy="154.0" r="3.4"/><circle cx="465.6" cy="155.5" r="3.4"/><circle cx="467.5" cy="156.1" r="3.4"/><circle cx="469.4" cy="152.9" r="3.4"/><circle cx="471.2" cy="156.0" r="3.4"/><circle cx="473.1" cy="153.1" r="3.4"/><circle cx="475.0" cy="155.4" r="3.4"/><circle cx="476.8" cy="155.5" r="3.4"/><circle cx="478.6" cy="155.9" r="3.4"/><circle cx="480.3" cy="156.9" r="3.4"/><circle cx="482.1" cy="157.0" r="3.4"/><circle cx="483.9" cy="157.5" r="3.4"/><circle cx="485.7" cy="156.7" r="3.4"/><circle cx="487.5" cy="159.7" r="3.4"/><circle cx="489.2" cy="163.0" r="3.4"/><circle cx="491.0" cy="163.8" r="3.4"/><circle cx="492.8" cy="163.5" r="3.4"/><circle cx="494.6" cy="163.3" r="3.4"/><circle cx="496.3" cy="162.3" r="3.4"/><circle cx="497.9" cy="166.2" r="3.4"/></g>
<g fill="#418a41" stroke="#2b622b" stroke-width="0.7"><rect x="85.0" y="309.5" width="5.0" height="5.0"/><rect x="86.2" y="308.6" width="5.0" height="5.0"/><rect x="87.5" y="307.2" width="5.0" height="5.0"/><rect x="88.7" y="305.8" width="5.0" height="5.0"/><rect x="89.9" y="304.4" width="5.0" height="5.0"/><rect x="91.0" y="302.2" width="5.0" height="5.0"/><rect x="92.2" y="298.2" width="5.0" height="5.0"/><rect x="93.4" y="298.4" width="5.0" height="5.0"/><rect x="94.7" y="297.5" width="5.0" height="5.0"/><rect x="96.0" y="295.3" width="5.0" height="5.0"/><rect x="97.4" y="295.4" width="5.0" height="5.0"/><rect x="98.7" y="292.7" width="5.0" height="5.0"/><rect x="100.1" y="290.7" width="5.0" height="5.0"/><rect x="101.5" y="292.1" width="5.0" height="5.0"/><rect x="102.9" y="289.9" width="5.0" height="5.0"/><rect x="104.3" y="288.1" width="5.0" height="5.0"/><rect x="105.7" y="287.6" width="5.0" height="5.0"/><rect x="107.1" y="286.4" width="5.0" height="5.0"/><rect x="108.3" y="284.2" width="5.0" height="5.0"/><rect x="109.6" y="279.8" width="5.0" height="5.0"/><rect x="111.0" y="280.4" width="5.0" height="5.0"/><rect x="112.4" y="279.4" width="5.0" height="5.0"/><rect x="113.9" y="277.6" width="5.0" height="5.0"/><rect x="115.3" y="277.7" width="5.0" height="5.0"/><rect x="116.7" y="277.5" width="5.0" height="5.0"/><rect x="118.1" y="274.3" width="5.0" height="5.0"/><rect x="119.4" y="272.3" width="5.0" height="5.0"/><rect x="120.8" y="274.4" width="5.0" height="5.0"/><rect x="122.1" y="270.3" width="5.0" height="5.0"/><rect x="123.4" y="268.0" width="5.0" height="5.0"/><rect x="124.5" y="268.1" width="5.0" height="5.0"/><rect x="125.6" y="266.8" width="5.0" height="5.0"/><rect x="126.7" y="264.0" width="5.0" height="5.0"/><rect x="127.9" y="264.1" width="5.0" height="5.0"/><rect x="129.1" y="261.3" width="5.0" height="5.0"/><rect x="130.5" y="259.5" width="5.0" height="5.0"/><rect x="131.9" y="259.5" width="5.0" height="5.0"/><rect x="133.4" y="258.9" width="5.0" height="5.0"/><rect x="134.8" y="256.1" width="5.0" height="5.0"/><rect x="136.2" y="256.0" width="5.0" height="5.0"/><rect x="137.6" y="254.2" width="5.0" height="5.0"/><rect x="138.7" y="255.8" width="5.0" height="5.0"/><rect x="139.7" y="250.3" width="5.0" height="5.0"/><rect x="140.7" y="251.0" width="5.0" height="5.0"/><rect x="141.8" y="247.9" width="5.0" height="5.0"/><rect x="142.8" y="246.2" width="5.0" height="5.0"/><rect x="143.9" y="245.5" width="5.0" height="5.0"/><rect x="144.9" y="244.1" width="5.0" height="5.0"/><rect x="146.0" y="243.0" width="5.0" height="5.0"/><rect x="147.1" y="240.4" width="5.0" height="5.0"/><rect x="148.2" y="237.9" width="5.0" height="5.0"/><rect x="149.3" y="236.4" width="5.0" height="5.0"/><rect x="150.4" y="236.0" width="5.0" height="5.0"/><rect x="151.5" y="234.5" width="5.0" height="5.0"/><rect x="152.9" y="234.2" width="5.0" height="5.0"/><rect x="154.4" y="231.9" width="5.0" height="5.0"/><rect x="155.9" y="231.4" width="5.0" height="5.0"/><rect x="157.4" y="230.7" width="5.0" height="5.0"/><rect x="158.8" y="228.0" width="5.0" height="5.0"/><rect x="160.2" y="224.9" width="5.0" height="5.0"/><rect x="161.6" y="223.9" width="5.0" height="5.0"/><rect x="162.9" y="222.3" width="5.0" height="5.0"/><rect x="164.3" y="224.3" width="5.0" height="5.0"/><rect x="166.0" y="222.1" width="5.0" height="5.0"/><rect x="167.8" y="225.0" width="5.0" height="5.0"/><rect x="169.6" y="225.0" width="5.0" height="5.0"/><rect x="170.8" y="225.2" width="5.0" height="5.0"/><rect x="171.8" y="222.8" width="5.0" height="5.0"/><rect x="172.8" y="219.9" width="5.0" height="5.0"/><rect x="173.8" y="218.2" width="5.0" height="5.0"/><rect x="174.8" y="216.9" width="5.0" height="5.0"/><rect x="175.8" y="215.4" width="5.0" height="5.0"/><rect x="177.1" y="213.3" width="5.0" height="5.0"/><rect x="178.4" y="212.5" width="5.0" height="5.0"/><rect x="179.8" y="212.9" width="5.0" height="5.0"/><rect x="181.1" y="207.9" width="5.0" height="5.0"/><rect x="182.8" y="209.2" width="5.0" height="5.0"/><rect x="184.5" y="207.0" width="5.0" height="5.0"/><rect x="186.2" y="207.4" width="5.0" height="5.0"/><rect x="187.6" y="208.5" width="5.0" height="5.0"/><rect x="188.7" y="209.0" width="5.0" height="5.0"/><rect x="189.8" y="211.5" width="5.0" height="5.0"/><rect x="191.0" y="210.4" width="5.0" height="5.0"/><rect x="192.0" y="212.5" width="5.0" height="5.0"/><rect x="193.1" y="209.0" width="5.0" height="5.0"/><rect x="194.1" y="208.8" width="5.0" height="5.0"/><rect x="195.2" y="206.7" width="5.0" height="5.0"/><rect x="196.3" y="202.1" width="5.0" height="5.0"/><rect x="197.4" y="202.6" width="5.0" height="5.0"/><rect x="198.5" y="202.2" width="5.0" height="5.0"/><rect x="199.7" y="202.1" width="5.0" height="5.0"/><rect x="200.9" y="199.2" width="5.0" height="5.0"/><rect x="202.1" y="197.7" width="5.0" height="5.0"/><rect x="203.4" y="194.5" width="5.0" height="5.0"/><rect x="204.8" y="196.3" width="5.0" height="5.0"/><rect x="206.1" y="195.4" width="5.0" height="5.0"/><rect x="207.7" y="192.4" width="5.0" height="5.0"/><rect x="209.3" y="191.1" width="5.0" height="5.0"/><rect x="210.9" y="188.6" width="5.0" height="5.0"/><rect x="212.5" y="190.3" width="5.0" height="5.0"/><rect x="214.2" y="191.4" width="5.0" height="5.0"/><rect x="215.8" y="188.2" width="5.0" height="5.0"/><rect x="217.5" y="188.1" width="5.0" height="5.0"/><rect x="219.4" y="186.8" width="5.0" height="5.0"/><rect x="221.2" y="184.6" width="5.0" height="5.0"/><rect x="223.0" y="186.6" width="5.0" height="5.0"/><rect x="224.8" y="183.2" width="5.0" height="5.0"/><rect x="226.6" y="183.7" width="5.0" height="5.0"/><rect x="228.4" y="183.5" width="5.0" height="5.0"/><rect x="230.2" y="183.5" width="5.0" height="5.0"/><rect x="231.9" y="182.3" width="5.0" height="5.0"/><rect x="233.7" y="181.6" width="5.0" height="5.0"/><rect x="235.5" y="179.6" width="5.0" height="5.0"/><rect x="237.3" y="178.6" width="5.0" height="5.0"/><rect x="239.2" y="179.7" width="5.0" height="5.0"/><rect x="241.0" y="178.5" width="5.0" height="5.0"/><rect x="242.9" y="177.5" width="5.0" height="5.0"/><rect x="244.8" y="177.2" width="5.0" height="5.0"/><rect x="246.6" y="177.7" width="5.0" height="5.0"/><rect x="248.5" y="175.8" width="5.0" height="5.0"/><rect x="250.4" y="175.9" width="5.0" height="5.0"/><rect x="252.2" y="175.2" width="5.0" height="5.0"/><rect x="254.1" y="176.9" width="5.0" height="5.0"/><rect x="256.0" y="176.9" width="5.0" height="5.0"/><rect x="257.9" y="178.7" width="5.0" height="5.0"/><rect x="259.8" y="174.9" width="5.0" height="5.0"/><rect x="261.7" y="175.8" width="5.0" height="5.0"/><rect x="263.6" y="177.5" width="5.0" height="5.0"/><rect x="265.3" y="176.8" width="5.0" height="5.0"/><rect x="266.8" y="177.8" width="5.0" height="5.0"/><rect x="268.4" y="181.2" width="5.0" height="5.0"/><rect x="269.9" y="180.0" width="5.0" height="5.0"/><rect x="271.5" y="180.2" width="5.0" height="5.0"/><rect x="273.0" y="181.1" width="5.0" height="5.0"/><rect x="274.7" y="183.7" width="5.0" height="5.0"/><rect x="276.6" y="183.6" width="5.0" height="5.0"/><rect x="278.4" y="181.5" width="5.0" height="5.0"/><rect x="280.3" y="181.4" width="5.0" height="5.0"/><rect x="282.1" y="182.5" width="5.0" height="5.0"/><rect x="283.9" y="182.0" width="5.0" height="5.0"/><rect x="285.7" y="180.1" width="5.0" height="5.0"/><rect x="287.5" y="181.3" width="5.0" height="5.0"/><rect x="289.3" y="181.9" width="5.0" height="5.0"/><rect x="291.1" y="180.0" width="5.0" height="5.0"/><rect x="292.8" y="182.3" width="5.0" height="5.0"/><rect x="294.6" y="183.8" width="5.0" height="5.0"/><rect x="296.4" y="183.4" width="5.0" height="5.0"/><rect x="298.2" y="181.4" width="5.0" height="5.0"/><rect x="300.0" y="182.9" width="5.0" height="5.0"/><rect x="301.8" y="183.5" width="5.0" height="5.0"/><rect x="303.6" y="183.8" width="5.0" height="5.0"/><rect x="305.5" y="179.1" width="5.0" height="5.0"/><rect x="307.3" y="184.3" width="5.0" height="5.0"/><rect x="309.2" y="180.4" width="5.0" height="5.0"/><rect x="311.1" y="182.8" width="5.0" height="5.0"/><rect x="313.0" y="183.3" width="5.0" height="5.0"/><rect x="314.9" y="183.3" width="5.0" height="5.0"/><rect x="316.8" y="182.3" width="5.0" height="5.0"/><rect x="318.6" y="180.5" width="5.0" height="5.0"/><rect x="320.5" y="182.1" width="5.0" height="5.0"/><rect x="322.4" y="180.2" width="5.0" height="5.0"/><rect x="324.2" y="177.9" width="5.0" height="5.0"/><rect x="326.1" y="183.7" width="5.0" height="5.0"/><rect x="327.9" y="181.9" width="5.0" height="5.0"/><rect x="329.7" y="183.7" width="5.0" height="5.0"/><rect x="331.5" y="181.2" width="5.0" height="5.0"/><rect x="333.4" y="184.4" width="5.0" height="5.0"/><rect x="335.2" y="185.0" width="5.0" height="5.0"/><rect x="337.1" y="185.2" width="5.0" height="5.0"/><rect x="339.0" y="183.6" width="5.0" height="5.0"/><rect x="340.9" y="182.5" width="5.0" height="5.0"/><rect x="342.7" y="183.8" width="5.0" height="5.0"/><rect x="344.6" y="181.8" width="5.0" height="5.0"/><rect x="346.5" y="182.5" width="5.0" height="5.0"/><rect x="348.4" y="184.7" width="5.0" height="5.0"/><rect x="350.3" y="183.7" width="5.0" height="5.0"/><rect x="352.2" y="184.8" width="5.0" height="5.0"/><rect x="354.1" y="185.0" width="5.0" height="5.0"/><rect x="356.0" y="187.6" width="5.0" height="5.0"/><rect x="357.8" y="187.3" width="5.0" height="5.0"/><rect x="359.7" y="186.2" width="5.0" height="5.0"/><rect x="361.5" y="187.9" width="5.0" height="5.0"/><rect x="363.4" y="186.1" width="5.0" height="5.0"/><rect x="365.3" y="186.8" width="5.0" height="5.0"/><rect x="367.2" y="188.3" width="5.0" height="5.0"/><rect x="369.1" y="186.1" width="5.0" height="5.0"/><rect x="371.0" y="187.3" width="5.0" height="5.0"/><rect x="372.9" y="186.3" width="5.0" height="5.0"/><rect x="374.8" y="188.1" width="5.0" height="5.0"/><rect x="376.7" y="189.9" width="5.0" height="5.0"/><rect x="378.5" y="187.5" width="5.0" height="5.0"/><rect x="380.4" y="188.8" width="5.0" height="5.0"/><rect x="382.3" y="187.8" width="5.0" height="5.0"/><rect x="384.2" y="187.7" width="5.0" height="5.0"/><rect x="386.1" y="187.9" width="5.0" height="5.0"/><rect x="388.0" y="191.1" width="5.0" height="5.0"/><rect x="389.9" y="192.3" width="5.0" height="5.0"/><rect x="391.7" y="190.4" width="5.0" height="5.0"/><rect x="393.6" y="189.2" width="5.0" height="5.0"/><rect x="395.5" y="190.8" width="5.0" height="5.0"/><rect x="397.4" y="189.6" width="5.0" height="5.0"/><rect x="399.3" y="190.9" width="5.0" height="5.0"/><rect x="401.2" y="190.3" width="5.0" height="5.0"/><rect x="403.1" y="190.4" width="5.0" height="5.0"/><rect x="405.0" y="191.0" width="5.0" height="5.0"/><rect x="406.9" y="189.9" width="5.0" height="5.0"/><rect x="408.8" y="190.4" width="5.0" height="5.0"/><rect x="410.7" y="189.2" width="5.0" height="5.0"/><rect x="412.6" y="190.8" width="5.0" height="5.0"/><rect x="414.4" y="190.0" width="5.0" height="5.0"/><rect x="416.3" y="191.6" width="5.0" height="5.0"/><rect x="418.2" y="190.9" width="5.0" height="5.0"/><rect x="420.1" y="192.3" width="5.0" height="5.0"/><rect x="422.0" y="192.9" width="5.0" height="5.0"/><rect x="423.9" y="191.1" width="5.0" height="5.0"/><rect x="425.8" y="192.0" width="5.0" height="5.0"/><rect x="427.6" y="192.1" width="5.0" height="5.0"/><rect x="429.5" y="194.2" width="5.0" height="5.0"/><rect x="431.4" y="195.5" width="5.0" height="5.0"/><rect x="433.3" y="194.7" width="5.0" height="5.0"/><rect x="435.2" y="193.4" width="5.0" height="5.0"/><rect x="437.1" y="195.4" width="5.0" height="5.0"/><rect x="439.0" y="192.1" width="5.0" height="5.0"/><rect x="440.9" y="195.4" width="5.0" height="5.0"/><rect x="442.8" y="193.0" width="5.0" height="5.0"/><rect x="444.7" y="190.5" width="5.0" height="5.0"/><rect x="446.6" y="196.2" width="5.0" height="5.0"/><rect x="448.5" y="194.8" width="5.0" height="5.0"/><rect x="450.3" y="191.6" width="5.0" height="5.0"/><rect x="452.2" y="192.7" width="5.0" height="5.0"/><rect x="454.1" y="192.5" width="5.0" height="5.0"/><rect x="456.0" y="193.1" width="5.0" height="5.0"/><rect x="457.9" y="191.6" width="5.0" height="5.0"/><rect x="459.8" y="192.7" width="5.0" height="5.0"/><rect x="461.6" y="194.2" width="5.0" height="5.0"/><rect x="463.5" y="194.2" width="5.0" height="5.0"/><rect x="465.4" y="195.5" width="5.0" height="5.0"/><rect x="467.3" y="194.5" width="5.0" height="5.0"/><rect x="469.2" y="197.2" width="5.0" height="5.0"/><rect x="471.1" y="194.0" width="5.0" height="5.0"/><rect x="472.9" y="195.5" width="5.0" height="5.0"/><rect x="474.7" y="193.7" width="5.0" height="5.0"/><rect x="476.5" y="195.1" width="5.0" height="5.0"/><rect x="478.3" y="198.7" width="5.0" height="5.0"/><rect x="480.0" y="196.8" width="5.0" height="5.0"/><rect x="481.8" y="199.1" width="5.0" height="5.0"/><rect x="483.6" y="199.1" width="5.0" height="5.0"/><rect x="485.4" y="198.7" width="5.0" height="5.0"/><rect x="487.2" y="200.1" width="5.0" height="5.0"/><rect x="488.9" y="200.6" width="5.0" height="5.0"/><rect x="490.7" y="201.3" width="5.0" height="5.0"/><rect x="492.5" y="203.3" width="5.0" height="5.0"/><rect x="494.3" y="203.7" width="5.0" height="5.0"/><rect x="496.2" y="202.9" width="5.0" height="5.0"/></g>
<polygon points="87.5,317.5 89.2,319.0 90.9,319.0 92.7,316.3 94.4,316.3 96.1,311.4 97.8,313.2 99.5,309.7 101.3,310.3 103.0,306.6 104.7,309.2 106.4,307.6 108.1,308.5 109.9,306.0 111.6,306.2 113.3,309.6 115.0,305.8 116.7,305.8 118.5,306.2 120.2,305.2 121.9,307.7 123.6,308.8 125.3,306.3 127.1,305.5 128.8,309.3 130.5,309.6 132.2,309.6 133.9,310.3 135.7,308.2 137.4,309.4 139.1,308.3 140.8,308.5 142.5,311.7 144.3,310.0 146.0,313.8 147.7,311.4 149.4,310.8 151.1,312.7 152.9,313.7 154.6,311.9 156.3,309.6 158.0,311.3 159.7,312.3 161.5,309.8 163.2,309.1 164.9,311.0 166.6,309.7 168.3,307.9 170.1,308.6 171.8,308.3 173.5,309.8 175.2,309.7 176.9,311.1 178.7,310.8 180.4,308.2 182.1,310.8 183.8,311.6 185.5,311.2 187.3,312.1 189.0,310.4 190.7,310.0 192.4,312.5 194.1,310.2 195.9,309.1 197.6,313.0 199.3,311.0 201.0,311.5 202.7,310.2 204.5,310.3 206.2,310.5 207.9,311.5 209.6,311.9 211.3,308.3 213.1,311.5 214.8,308.7 216.5,308.4 218.2,310.2 219.9,309.2 221.7,307.4 223.4,311.4 225.1,308.1 226.8,309.3 228.5,309.3 230.3,310.8 232.0,308.6 233.7,310.5 235.4,308.4 237.1,310.8 238.9,308.7 240.6,309.4 242.3,312.4 244.0,310.7 245.7,310.6 247.5,313.3 249.2,311.2 250.9,309.9 252.6,311.8 254.3,309.6 256.1,312.4 257.8,312.3 259.5,309.8 261.2,309.5 262.9,310.2 264.7,309.7 266.4,308.3 268.1,309.8 269.8,306.5 271.5,308.3 273.3,308.1 275.0,308.1 276.7,308.7 278.4,306.7 280.1,308.9 281.9,308.2 283.6,307.8 285.3,307.1 287.0,307.4 288.7,309.5 290.5,308.0 292.2,309.5 293.9,310.8 295.6,311.0 297.3,311.8 299.1,309.7 300.8,308.9 302.5,311.5 304.2,310.8 305.9,311.8 307.7,310.6 309.4,311.7 311.1,311.0 312.8,310.6 314.5,310.0 316.3,309.6 318.0,309.2 319.7,309.0 321.4,309.8 323.1,307.8 324.9,310.4 326.6,308.0 328.3,309.6 330.0,308.8 331.7,309.1 333.5,312.3 335.2,310.0 336.9,309.3 338.6,310.4 340.3,311.3 342.1,314.6 343.8,312.7 345.5,314.0 347.2,312.0 348.9,314.1 350.7,314.7 352.4,316.1 354.1,313.3 355.8,314.9 357.5,314.7 359.3,313.2 361.0,314.4 362.7,314.1 364.4,311.6 366.1,315.1 367.9,315.0 369.6,313.8 371.3,312.6 373.0,315.9 374.7,314.4 376.5,315.1 378.2,315.5 379.9,313.1 381.6,314.6 383.3,313.3 385.1,313.4 386.8,313.3 388.5,313.3 390.2,314.5 391.9,313.3 393.7,312.8 395.4,312.6 397.1,313.3 398.8,311.7 400.5,312.1 402.3,312.6 404.0,311.9 405.7,312.4 407.4,311.8 409.1,315.8 410.9,316.1 412.6,316.1 414.3,315.4 416.0,317.7 417.7,315.0 419.5,314.0 421.2,314.0 422.9,313.5 424.6,314.3 426.3,312.1 428.1,314.5 429.8,311.1 431.5,313.1 433.2,311.3 434.9,314.8 436.7,312.4 438.4,313.2 440.1,314.9 441.8,315.9 443.5,313.6 445.3,315.1 447.0,314.2 448.7,316.2 450.4,316.1 452.1,316.0 453.9,315.7 455.6,316.0 457.3,315.4 459.0,316.8 460.7,317.8 462.5,313.5 464.2,315.5 465.9,315.0 467.6,315.9 469.3,314.0 471.1,314.7 472.8,313.3 474.5,314.9 476.2,313.7 477.9,312.9 479.7,313.0 481.4,311.9 483.1,310.2 484.8,312.6 486.5,312.0 488.3,311.3 490.0,312.7 491.7,313.1 493.4,310.5 495.1,311.1 496.9,314.1 498.6,314.0 498.6,317.7 496.9,317.7 495.1,317.7 493.4,316.0 491.7,317.5 490.0,316.5 488.3,315.9 486.5,316.9 484.8,317.2 483.1,318.4 481.4,317.3 479.7,318.8 477.9,319.3 476.2,318.9 474.5,320.1 472.8,320.0 471.1,320.9 469.3,320.6 467.6,319.9 465.9,320.3 464.2,321.9 462.5,319.4 460.7,321.6 459.0,320.6 457.3,320.9 455.6,320.9 453.9,322.2 452.1,322.0 450.4,321.4 448.7,320.4 447.0,320.0 445.3,319.8 443.5,319.8 441.8,319.1 440.1,317.9 438.4,318.9 436.7,316.3 434.9,317.9 433.2,317.2 431.5,317.2 429.8,317.0 428.1,316.2 426.3,315.9 424.6,316.6 422.9,318.9 421.2,318.4 419.5,320.0 417.7,321.0 416.0,319.4 414.3,321.6 412.6,320.7 410.9,319.0 409.1,318.1 407.4,317.4 405.7,317.9 404.0,318.0 402.3,317.1 400.5,316.9 398.8,318.3 397.1,317.9 395.4,317.9 393.7,317.9 391.9,318.0 390.2,319.1 388.5,316.8 386.8,318.4 385.1,318.6 383.3,318.6 381.6,317.7 379.9,319.4 378.2,319.2 376.5,320.3 374.7,319.4 373.0,321.0 371.3,319.6 369.6,320.1 367.9,319.5 366.1,319.1 364.4,319.2 362.7,319.3 361.0,321.3 359.3,319.2 357.5,318.8 355.8,318.6 354.1,319.4 352.4,318.8 350.7,320.0 348.9,318.7 347.2,317.8 345.5,318.8 343.8,317.9 342.1,316.5 340.3,316.8 338.6,315.9 336.9,316.3 335.2,316.9 333.5,315.2 331.7,314.0 330.0,314.5 328.3,313.8 326.6,312.6 324.9,313.7 323.1,313.0 321.4,313.1 319.7,313.1 318.0,313.3 316.3,313.6 314.5,312.8 312.8,315.8 311.1,315.4 309.4,315.3 307.7,315.5 305.9,316.6 304.2,315.2 302.5,314.9 300.8,316.4 299.1,315.1 297.3,314.1 295.6,315.5 293.9,313.8 292.2,314.7 290.5,314.4 288.7,313.9 287.0,312.7 285.3,313.5 283.6,313.5 281.9,313.4 280.1,311.8 278.4,313.2 276.7,313.6 275.0,313.0 273.3,314.2 271.5,314.6 269.8,313.8 268.1,314.9 266.4,316.4 264.7,314.9 262.9,315.7 261.2,316.5 259.5,316.0 257.8,315.6 256.1,316.9 254.3,315.1 252.6,314.7 250.9,316.1 249.2,315.4 247.5,315.7 245.7,316.2 244.0,316.1 242.3,314.9 240.6,314.1 238.9,314.9 237.1,316.2 235.4,314.1 233.7,314.4 232.0,314.4 230.3,314.3 228.5,315.0 226.8,315.2 225.1,314.2 223.4,313.6 221.7,314.7 219.9,315.8 218.2,314.7 216.5,316.1 214.8,314.5 213.1,314.9 211.3,317.5 209.6,316.3 207.9,316.2 206.2,317.1 204.5,315.0 202.7,317.0 201.0,317.7 199.3,316.1 197.6,317.7 195.9,316.1 194.1,318.0 192.4,316.2 190.7,316.5 189.0,315.9 187.3,315.9 185.5,317.1 183.8,315.8 182.1,314.5 180.4,316.4 178.7,315.1 176.9,315.3 175.2,315.6 173.5,313.1 171.8,316.8 170.1,314.9 168.3,313.0 166.6,315.0 164.9,315.4 163.2,315.2 161.5,315.3 159.7,316.4 158.0,317.0 156.3,317.9 154.6,315.4 152.9,317.1 151.1,317.1 149.4,316.6 147.7,316.0 146.0,315.7 144.3,315.3 142.5,316.0 140.8,314.9 139.1,316.2 137.4,315.4 135.7,314.8 133.9,315.5 132.2,314.7 130.5,312.5 128.8,315.3 127.1,313.3 125.3,312.1 123.6,313.1 121.9,312.1 120.2,313.0 118.5,312.1 116.7,313.2 115.0,311.0 113.3,311.9 111.6,311.9 109.9,312.9 108.1,312.3 106.4,312.8 104.7,312.7 103.0,313.3 101.3,313.7 99.5,315.5 97.8,317.6 96.1,320.2 94.4,323.5 92.7,323.2 90.9,323.3 89.2,324.6 87.5,324.6" fill="#f0cdc8" fill-opacity="1.0"/>
<path d="M87.5 317.5V324.6M92.7 316.3V323.2M97.8 313.2V317.6M103.0 306.6V313.3M108.1 308.5V312.3M113.3 309.6V311.9M118.5 306.2V312.1M123.6 308.8V313.1M128.8 309.3V315.3M133.9 310.3V315.5M139.1 308.3V316.2M144.3 310.0V315.3M149.4 310.8V316.6M154.6 311.9V315.4M159.7 312.3V316.4M164.9 311.0V315.4M170.1 308.6V314.9M175.2 309.7V315.6M180.4 308.2V316.4M185.5 311.2V317.1M190.7 310.0V316.5M195.9 309.1V316.1M201.0 311.5V317.7M206.2 310.5V317.1M211.3 308.3V317.5M216.5 308.4V316.1M221.7 307.4V314.7M226.8 309.3V315.2M232.0 308.6V314.4M237.1 310.8V316.2M242.3 312.4V314.9M247.5 313.3V315.7M252.6 311.8V314.7M257.8 312.3V315.6M262.9 310.2V315.7M268.1 309.8V314.9M273.3 308.1V314.2M278.4 306.7V313.2M283.6 307.8V313.5M288.7 309.5V313.9M293.9 310.8V313.8M299.1 309.7V315.1M304.2 310.8V315.2M309.4 311.7V315.3M314.5 310.0V312.8M319.7 309.0V313.1M324.9 310.4V313.7M330.0 308.8V314.5M335.2 310.0V316.9M340.3 311.3V316.8M345.5 314.0V318.8M350.7 314.7V320.0M355.8 314.9V318.6M361.0 314.4V321.3M366.1 315.1V319.1M371.3 312.6V319.6M376.5 315.1V320.3M381.6 314.6V317.7M386.8 313.3V318.4M391.9 313.3V318.0M397.1 313.3V317.9M402.3 312.6V317.1M407.4 311.8V317.4M412.6 316.1V320.7M417.7 315.0V321.0M422.9 313.5V318.9M428.1 314.5V316.2M433.2 311.3V317.2M438.4 313.2V318.9M443.5 313.6V319.8M448.7 316.2V320.4M453.9 315.7V322.2M459.0 316.8V320.6M464.2 315.5V321.9M469.3 314.0V320.6M474.5 314.9V320.1M479.7 313.0V318.8M484.8 312.6V317.2M490.0 312.7V316.5M495.1 311.1V317.7" stroke="#d0a09a" stroke-opacity="0.45" stroke-width="0.7" fill="none"/>
<path d="M84.5 317.5h6M86.2 319.0h6M87.9 319.0h6M89.7 316.3h6M91.4 316.3h6M93.1 311.4h6M94.8 313.2h6M96.5 309.7h6M98.3 310.3h6M100.0 306.6h6M101.7 309.2h6M103.4 307.6h6M105.1 308.5h6M106.9 306.0h6M108.6 306.2h6M110.3 309.6h6M112.0 305.8h6M113.7 305.8h6M115.5 306.2h6M117.2 305.2h6M118.9 307.7h6M120.6 308.8h6M122.3 306.3h6M124.1 305.5h6M125.8 309.3h6M127.5 309.6h6M129.2 309.6h6M130.9 310.3h6M132.7 308.2h6M134.4 309.4h6M136.1 308.3h6M137.8 308.5h6M139.5 311.7h6M141.3 310.0h6M143.0 313.8h6M144.7 311.4h6M146.4 310.8h6M148.1 312.7h6M149.9 313.7h6M151.6 311.9h6M153.3 309.6h6M155.0 311.3h6M156.7 312.3h6M158.5 309.8h6M160.2 309.1h6M161.9 311.0h6M163.6 309.7h6M165.3 307.9h6M167.1 308.6h6M168.8 308.3h6M170.5 309.8h6M172.2 309.7h6M173.9 311.1h6M175.7 310.8h6M177.4 308.2h6M179.1 310.8h6M180.8 311.6h6M182.5 311.2h6M184.3 312.1h6M186.0 310.4h6M187.7 310.0h6M189.4 312.5h6M191.1 310.2h6M192.9 309.1h6M194.6 313.0h6M196.3 311.0h6M198.0 311.5h6M199.7 310.2h6M201.5 310.3h6M203.2 310.5h6M204.9 311.5h6M206.6 311.9h6M208.3 308.3h6M210.1 311.5h6M211.8 308.7h6M213.5 308.4h6M215.2 310.2h6M216.9 309.2h6M218.7 307.4h6M220.4 311.4h6M222.1 308.1h6M223.8 309.3h6M225.5 309.3h6M227.3 310.8h6M229.0 308.6h6M230.7 310.5h6M232.4 308.4h6M234.1 310.8h6M235.9 308.7h6M237.6 309.4h6M239.3 312.4h6M241.0 310.7h6M242.7 310.6h6M244.5 313.3h6M246.2 311.2h6M247.9 309.9h6M249.6 311.8h6M251.3 309.6h6M253.1 312.4h6M254.8 312.3h6M256.5 309.8h6M258.2 309.5h6M259.9 310.2h6M261.7 309.7h6M263.4 308.3h6M265.1 309.8h6M266.8 306.5h6M268.5 308.3h6M270.3 308.1h6M272.0 308.1h6M273.7 308.7h6M275.4 306.7h6M277.1 308.9h6M278.9 308.2h6M280.6 307.8h6M282.3 307.1h6M284.0 307.4h6M285.7 309.5h6M287.5 308.0h6M289.2 309.5h6M290.9 310.8h6M292.6 311.0h6M294.3 311.8h6M296.1 309.7h6M297.8 308.9h6M299.5 311.5h6M301.2 310.8h6M302.9 311.8h6M304.7 310.6h6M306.4 311.7h6M308.1 311.0h6M309.8 310.6h6M311.5 310.0h6M313.3 309.6h6M315.0 309.2h6M316.7 309.0h6M318.4 309.8h6M320.1 307.8h6M321.9 310.4h6M323.6 308.0h6M325.3 309.6h6M327.0 308.8h6M328.7 309.1h6M330.5 312.3h6M332.2 310.0h6M333.9 309.3h6M335.6 310.4h6M337.3 311.3h6M339.1 314.6h6M340.8 312.7h6M342.5 314.0h6M344.2 312.0h6M345.9 314.1h6M347.7 314.7h6M349.4 316.1h6M351.1 313.3h6M352.8 314.9h6M354.5 314.7h6M356.3 313.2h6M358.0 314.4h6M359.7 314.1h6M361.4 311.6h6M363.1 315.1h6M364.9 315.0h6M366.6 313.8h6M368.3 312.6h6M370.0 315.9h6M371.7 314.4h6M373.5 315.1h6M375.2 315.5h6M376.9 313.1h6M378.6 314.6h6M380.3 313.3h6M382.1 313.4h6M383.8 313.3h6M385.5 313.3h6M387.2 314.5h6M388.9 313.3h6M390.7 312.8h6M392.4 312.6h6M394.1 313.3h6M395.8 311.7h6M397.5 312.1h6M399.3 312.6h6M401.0 311.9h6M402.7 312.4h6M404.4 311.8h6M406.1 315.8h6M407.9 316.1h6M409.6 316.1h6M411.3 315.4h6M413.0 317.7h6M414.7 315.0h6M416.5 314.0h6M418.2 314.0h6M419.9 313.5h6M421.6 314.3h6M423.3 312.1h6M425.1 314.5h6M426.8 311.1h6M428.5 313.1h6M430.2 311.3h6M431.9 314.8h6M433.7 312.4h6M435.4 313.2h6M437.1 314.9h6M438.8 315.9h6M440.5 313.6h6M442.3 315.1h6M444.0 314.2h6M445.7 316.2h6M447.4 316.1h6M449.1 316.0h6M450.9 315.7h6M452.6 316.0h6M454.3 315.4h6M456.0 316.8h6M457.7 317.8h6M459.5 313.5h6M461.2 315.5h6M462.9 315.0h6M464.6 315.9h6M466.3 314.0h6M468.1 314.7h6M469.8 313.3h6M471.5 314.9h6M473.2 313.7h6M474.9 312.9h6M476.7 313.0h6M478.4 311.9h6M480.1 310.2h6M481.8 312.6h6M483.5 312.0h6M485.3 311.3h6M487.0 312.7h6M488.7 313.1h6M490.4 310.5h6M492.1 311.1h6M493.9 314.1h6M495.6 314.0h6" stroke="#d0a09a" stroke-width="0.7" fill="none"/>
<polygon points="87.5,324.6 89.2,324.6 90.9,323.3 92.7,323.2 94.4,323.5 96.1,320.2 97.8,317.6 99.5,315.5 101.3,313.7 103.0,313.3 104.7,312.7 106.4,312.8 108.1,312.3 109.9,312.9 111.6,311.9 113.3,311.9 115.0,311.0 116.7,313.2 118.5,312.1 120.2,313.0 121.9,312.1 123.6,313.1 125.3,312.1 127.1,313.3 128.8,315.3 130.5,312.5 132.2,314.7 133.9,315.5 135.7,314.8 137.4,315.4 139.1,316.2 140.8,314.9 142.5,316.0 144.3,315.3 146.0,315.7 147.7,316.0 149.4,316.6 151.1,317.1 152.9,317.1 154.6,315.4 156.3,317.9 158.0,317.0 159.7,316.4 161.5,315.3 163.2,315.2 164.9,315.4 166.6,315.0 168.3,313.0 170.1,314.9 171.8,316.8 173.5,313.1 175.2,315.6 176.9,315.3 178.7,315.1 180.4,316.4 182.1,314.5 183.8,315.8 185.5,317.1 187.3,315.9 189.0,315.9 190.7,316.5 192.4,316.2 194.1,318.0 195.9,316.1 197.6,317.7 199.3,316.1 201.0,317.7 202.7,317.0 204.5,315.0 206.2,317.1 207.9,316.2 209.6,316.3 211.3,317.5 213.1,314.9 214.8,314.5 216.5,316.1 218.2,314.7 219.9,315.8 221.7,314.7 223.4,313.6 225.1,314.2 226.8,315.2 228.5,315.0 230.3,314.3 232.0,314.4 233.7,314.4 235.4,314.1 237.1,316.2 238.9,314.9 240.6,314.1 242.3,314.9 244.0,316.1 245.7,316.2 247.5,315.7 249.2,315.4 250.9,316.1 252.6,314.7 254.3,315.1 256.1,316.9 257.8,315.6 259.5,316.0 261.2,316.5 262.9,315.7 264.7,314.9 266.4,316.4 268.1,314.9 269.8,313.8 271.5,314.6 273.3,314.2 275.0,313.0 276.7,313.6 278.4,313.2 280.1,311.8 281.9,313.4 283.6,313.5 285.3,313.5 287.0,312.7 288.7,313.9 290.5,314.4 292.2,314.7 293.9,313.8 295.6,315.5 297.3,314.1 299.1,315.1 300.8,316.4 302.5,314.9 304.2,315.2 305.9,316.6 307.7,315.5 309.4,315.3 311.1,315.4 312.8,315.8 314.5,312.8 316.3,313.6 318.0,313.3 319.7,313.1 321.4,313.1 323.1,313.0 324.9,313.7 326.6,312.6 328.3,313.8 330.0,314.5 331.7,314.0 333.5,315.2 335.2,316.9 336.9,316.3 338.6,315.9 340.3,316.8 342.1,316.5 343.8,317.9 345.5,318.8 347.2,317.8 348.9,318.7 350.7,320.0 352.4,318.8 354.1,319.4 355.8,318.6 357.5,318.8 359.3,319.2 361.0,321.3 362.7,319.3 364.4,319.2 366.1,319.1 367.9,319.5 369.6,320.1 371.3,319.6 373.0,321.0 374.7,319.4 376.5,320.3 378.2,319.2 379.9,319.4 381.6,317.7 383.3,318.6 385.1,318.6 386.8,318.4 388.5,316.8 390.2,319.1 391.9,318.0 393.7,317.9 395.4,317.9 397.1,317.9 398.8,318.3 400.5,316.9 402.3,317.1 404.0,318.0 405.7,317.9 407.4,317.4 409.1,318.1 410.9,319.0 412.6,320.7 414.3,321.6 416.0,319.4 417.7,321.0 419.5,320.0 421.2,318.4 422.9,318.9 424.6,316.6 426.3,315.9 428.1,316.2 429.8,317.0 431.5,317.2 433.2,317.2 434.9,317.9 436.7,316.3 438.4,318.9 440.1,317.9 441.8,319.1 443.5,319.8 445.3,319.8 447.0,320.0 448.7,320.4 450.4,321.4 452.1,322.0 453.9,322.2 455.6,320.9 457.3,320.9 459.0,320.6 460.7,321.6 462.5,319.4 464.2,321.9 465.9,320.3 467.6,319.9 469.3,320.6 471.1,320.9 472.8,320.0 474.5,320.1 476.2,318.9 477.9,319.3 479.7,318.8 481.4,317.3 483.1,318.4 484.8,317.2 486.5,316.9 488.3,315.9 490.0,316.5 491.7,317.5 493.4,316.0 495.1,317.7 496.9,317.7 498.6,317.7 498.6,325.8 496.9,323.2 495.1,320.7 493.4,320.6 491.7,320.7 490.0,320.7 488.3,322.9 486.5,321.1 484.8,321.8 483.1,321.6 481.4,324.3 479.7,323.1 477.9,322.7 476.2,324.0 474.5,323.6 472.8,325.8 471.1,323.3 469.3,323.8 467.6,323.7 465.9,325.5 464.2,326.8 462.5,328.5 460.7,326.6 459.0,325.5 457.3,326.4 455.6,325.2 453.9,326.7 452.1,326.8 450.4,326.0 448.7,325.1 447.0,325.3 445.3,325.1 443.5,325.1 441.8,325.1 440.1,326.0 438.4,321.9 436.7,323.8 434.9,322.2 433.2,322.4 431.5,320.5 429.8,321.4 428.1,322.1 426.3,322.2 424.6,324.5 422.9,321.2 421.2,326.1 419.5,325.2 417.7,326.0 416.0,326.0 414.3,327.7 412.6,326.5 410.9,325.5 409.1,324.5 407.4,323.5 405.7,321.4 404.0,324.4 402.3,323.0 400.5,322.6 398.8,322.3 397.1,322.1 395.4,324.2 393.7,324.8 391.9,323.8 390.2,322.5 388.5,325.6 386.8,322.6 385.1,325.4 383.3,324.7 381.6,324.5 379.9,323.8 378.2,324.3 376.5,323.7 374.7,327.4 373.0,325.8 371.3,322.9 369.6,324.8 367.9,321.4 366.1,325.6 364.4,326.2 362.7,324.3 361.0,325.0 359.3,325.7 357.5,322.8 355.8,324.9 354.1,323.8 352.4,325.6 350.7,324.6 348.9,324.9 347.2,324.2 345.5,323.0 343.8,321.9 342.1,322.3 340.3,323.2 338.6,323.0 336.9,319.5 335.2,322.2 333.5,319.2 331.7,319.8 330.0,319.4 328.3,318.5 326.6,319.2 324.9,319.9 323.1,318.8 321.4,320.9 319.7,319.9 318.0,319.3 316.3,319.1 314.5,322.1 312.8,320.0 311.1,320.3 309.4,318.1 307.7,320.1 305.9,323.4 304.2,319.3 302.5,321.3 300.8,319.9 299.1,322.9 297.3,320.7 295.6,321.4 293.9,319.6 292.2,318.7 290.5,321.7 288.7,320.7 287.0,317.9 285.3,318.7 283.6,319.7 281.9,320.6 280.1,317.0 278.4,320.8 276.7,317.0 275.0,317.6 273.3,318.2 271.5,319.2 269.8,319.5 268.1,317.5 266.4,319.9 264.7,318.7 262.9,319.5 261.2,320.2 259.5,320.9 257.8,320.4 256.1,323.2 254.3,322.0 252.6,320.9 250.9,319.6 249.2,320.8 247.5,319.9 245.7,323.1 244.0,320.7 242.3,322.2 240.6,320.8 238.9,320.7 237.1,320.8 235.4,320.8 233.7,321.7 232.0,319.1 230.3,318.9 228.5,319.9 226.8,318.5 225.1,318.2 223.4,319.7 221.7,318.7 219.9,319.9 218.2,322.3 216.5,319.5 214.8,320.7 213.1,322.0 211.3,318.6 209.6,321.1 207.9,322.7 206.2,320.7 204.5,320.9 202.7,323.9 201.0,323.4 199.3,320.5 197.6,322.7 195.9,322.1 194.1,321.7 192.4,321.0 190.7,323.1 189.0,321.8 187.3,323.3 185.5,322.2 183.8,319.6 182.1,318.6 180.4,320.8 178.7,321.7 176.9,321.7 175.2,318.6 173.5,320.1 171.8,319.2 170.1,320.3 168.3,319.5 166.6,318.0 164.9,321.0 163.2,319.5 161.5,319.1 159.7,320.4 158.0,320.6 156.3,322.4 154.6,320.7 152.9,321.8 151.1,322.6 149.4,321.5 147.7,320.6 146.0,319.9 144.3,321.3 142.5,320.1 140.8,318.1 139.1,320.4 137.4,323.2 135.7,319.8 133.9,319.6 132.2,317.4 130.5,318.5 128.8,317.7 127.1,319.6 125.3,319.7 123.6,317.7 121.9,317.6 120.2,316.8 118.5,315.6 116.7,317.8 115.0,319.3 113.3,316.3 111.6,317.4 109.9,317.1 108.1,318.9 106.4,319.1 104.7,318.7 103.0,318.4 101.3,320.7 99.5,319.4 97.8,321.2 96.1,324.7 94.4,324.7 92.7,327.0 90.9,327.8 89.2,328.2 87.5,329.7" fill="#f0cdc8" fill-opacity="1.0"/>
<path d="M87.5 329.7V324.6M92.7 327.0V323.2M97.8 321.2V317.6M103.0 318.4V313.3M108.1 318.9V312.3M113.3 316.3V311.9M118.5 315.6V312.1M123.6 317.7V313.1M128.8 317.7V315.3M133.9 319.6V315.5M139.1 320.4V316.2M144.3 321.3V315.3M149.4 321.5V316.6M154.6 320.7V315.4M159.7 320.4V316.4M164.9 321.0V315.4M170.1 320.3V314.9M175.2 318.6V315.6M180.4 320.8V316.4M185.5 322.2V317.1M190.7 323.1V316.5M195.9 322.1V316.1M201.0 323.4V317.7M206.2 320.7V317.1M211.3 318.6V317.5M216.5 319.5V316.1M221.7 318.7V314.7M226.8 318.5V315.2M232.0 319.1V314.4M237.1 320.8V316.2M242.3 322.2V314.9M247.5 319.9V315.7M252.6 320.9V314.7M257.8 320.4V315.6M262.9 319.5V315.7M268.1 317.5V314.9M273.3 318.2V314.2M278.4 320.8V313.2M283.6 319.7V313.5M288.7 320.7V313.9M293.9 319.6V313.8M299.1 322.9V315.1M304.2 319.3V315.2M309.4 318.1V315.3M314.5 322.1V312.8M319.7 319.9V313.1M324.9 319.9V313.7M330.0 319.4V314.5M335.2 322.2V316.9M340.3 323.2V316.8M345.5 323.0V318.8M350.7 324.6V320.0M355.8 324.9V318.6M361.0 325.0V321.3M366.1 325.6V319.1M371.3 322.9V319.6M376.5 323.7V320.3M381.6 324.5V317.7M386.8 322.6V318.4M391.9 323.8V318.0M397.1 322.1V317.9M402.3 323.0V317.1M407.4 323.5V317.4M412.6 326.5V320.7M417.7 326.0V321.0M422.9 321.2V318.9M428.1 322.1V316.2M433.2 322.4V317.2M438.4 321.9V318.9M443.5 325.1V319.8M448.7 325.1V320.4M453.9 326.7V322.2M459.0 325.5V320.6M464.2 326.8V321.9M469.3 323.8V320.6M474.5 323.6V320.1M479.7 323.1V318.8M484.8 321.8V317.2M490.0 320.7V316.5M495.1 320.7V317.7" stroke="#d0a09a" stroke-opacity="0.45" stroke-width="0.7" fill="none"/>
<path d="M84.5 329.7h6M86.2 328.2h6M87.9 327.8h6M89.7 327.0h6M91.4 324.7h6M93.1 324.7h6M94.8 321.2h6M96.5 319.4h6M98.3 320.7h6M100.0 318.4h6M101.7 318.7h6M103.4 319.1h6M105.1 318.9h6M106.9 317.1h6M108.6 317.4h6M110.3 316.3h6M112.0 319.3h6M113.7 317.8h6M115.5 315.6h6M117.2 316.8h6M118.9 317.6h6M120.6 317.7h6M122.3 319.7h6M124.1 319.6h6M125.8 317.7h6M127.5 318.5h6M129.2 317.4h6M130.9 319.6h6M132.7 319.8h6M134.4 323.2h6M136.1 320.4h6M137.8 318.1h6M139.5 320.1h6M141.3 321.3h6M143.0 319.9h6M144.7 320.6h6M146.4 321.5h6M148.1 322.6h6M149.9 321.8h6M151.6 320.7h6M153.3 322.4h6M155.0 320.6h6M156.7 320.4h6M158.5 319.1h6M160.2 319.5h6M161.9 321.0h6M163.6 318.0h6M165.3 319.5h6M167.1 320.3h6M168.8 319.2h6M170.5 320.1h6M172.2 318.6h6M173.9 321.7h6M175.7 321.7h6M177.4 320.8h6M179.1 318.6h6M180.8 319.6h6M182.5 322.2h6M184.3 323.3h6M186.0 321.8h6M187.7 323.1h6M189.4 321.0h6M191.1 321.7h6M192.9 322.1h6M194.6 322.7h6M196.3 320.5h6M198.0 323.4h6M199.7 323.9h6M201.5 320.9h6M203.2 320.7h6M204.9 322.7h6M206.6 321.1h6M208.3 318.6h6M210.1 322.0h6M211.8 320.7h6M213.5 319.5h6M215.2 322.3h6M216.9 319.9h6M218.7 318.7h6M220.4 319.7h6M222.1 318.2h6M223.8 318.5h6M225.5 319.9h6M227.3 318.9h6M229.0 319.1h6M230.7 321.7h6M232.4 320.8h6M234.1 320.8h6M235.9 320.7h6M237.6 320.8h6M239.3 322.2h6M241.0 320.7h6M242.7 323.1h6M244.5 319.9h6M246.2 320.8h6M247.9 319.6h6M249.6 320.9h6M251.3 322.0h6M253.1 323.2h6M254.8 320.4h6M256.5 320.9h6M258.2 320.2h6M259.9 319.5h6M261.7 318.7h6M263.4 319.9h6M265.1 317.5h6M266.8 319.5h6M268.5 319.2h6M270.3 318.2h6M272.0 317.6h6M273.7 317.0h6M275.4 320.8h6M277.1 317.0h6M278.9 320.6h6M280.6 319.7h6M282.3 318.7h6M284.0 317.9h6M285.7 320.7h6M287.5 321.7h6M289.2 318.7h6M290.9 319.6h6M292.6 321.4h6M294.3 320.7h6M296.1 322.9h6M297.8 319.9h6M299.5 321.3h6M301.2 319.3h6M302.9 323.4h6M304.7 320.1h6M306.4 318.1h6M308.1 320.3h6M309.8 320.0h6M311.5 322.1h6M313.3 319.1h6M315.0 319.3h6M316.7 319.9h6M318.4 320.9h6M320.1 318.8h6M321.9 319.9h6M323.6 319.2h6M325.3 318.5h6M327.0 319.4h6M328.7 319.8h6M330.5 319.2h6M332.2 322.2h6M333.9 319.5h6M335.6 323.0h6M337.3 323.2h6M339.1 322.3h6M340.8 321.9h6M342.5 323.0h6M344.2 324.2h6M345.9 324.9h6M347.7 324.6h6M349.4 325.6h6M351.1 323.8h6M352.8 324.9h6M354.5 322.8h6M356.3 325.7h6M358.0 325.0h6M359.7 324.3h6M361.4 326.2h6M363.1 325.6h6M364.9 321.4h6M366.6 324.8h6M368.3 322.9h6M370.0 325.8h6M371.7 327.4h6M373.5 323.7h6M375.2 324.3h6M376.9 323.8h6M378.6 324.5h6M380.3 324.7h6M382.1 325.4h6M383.8 322.6h6M385.5 325.6h6M387.2 322.5h6M388.9 323.8h6M390.7 324.8h6M392.4 324.2h6M394.1 322.1h6M395.8 322.3h6M397.5 322.6h6M399.3 323.0h6M401.0 324.4h6M402.7 321.4h6M404.4 323.5h6M406.1 324.5h6M407.9 325.5h6M409.6 326.5h6M411.3 327.7h6M413.0 326.0h6M414.7 326.0h6M416.5 325.2h6M418.2 326.1h6M419.9 321.2h6M421.6 324.5h6M423.3 322.2h6M425.1 322.1h6M426.8 321.4h6M428.5 320.5h6M430.2 322.4h6M431.9 322.2h6M433.7 323.8h6M435.4 321.9h6M437.1 326.0h6M438.8 325.1h6M440.5 325.1h6M442.3 325.1h6M444.0 325.3h6M445.7 325.1h6M447.4 326.0h6M449.1 326.8h6M450.9 326.7h6M452.6 325.2h6M454.3 326.4h6M456.0 325.5h6M457.7 326.6h6M459.5 328.5h6M461.2 326.8h6M462.9 325.5h6M464.6 323.7h6M466.3 323.8h6M468.1 323.3h6M469.8 325.8h6M471.5 323.6h6M473.2 324.0h6M474.9 322.7h6M476.7 323.1h6M478.4 324.3h6M480.1 321.6h6M481.8 321.8h6M483.5 321.1h6M485.3 322.9h6M487.0 320.7h6M488.7 320.7h6M490.4 320.6h6M492.1 320.7h6M493.9 323.2h6M495.6 325.8h6" stroke="#d0a09a" stroke-width="0.7" fill="none"/>
<g fill="#d5222a" stroke="#c41c24" stroke-width="0.4"><rect x="85.0" y="322.1" width="5.0" height="5.0"/><rect x="86.7" y="322.1" width="5.0" height="5.0"/><rect x="88.4" y="320.8" width="5.0" height="5.0"/><rect x="90.2" y="320.7" width="5.0" height="5.0"/><rect x="91.9" y="321.0" width="5.0" height="5.0"/><rect x="93.6" y="317.7" width="5.0" height="5.0"/><rect x="95.3" y="315.1" width="5.0" height="5.0"/><rect x="97.0" y="313.0" width="5.0" height="5.0"/><rect x="98.8" y="311.2" width="5.0" height="5.0"/><rect x="100.5" y="310.8" width="5.0" height="5.0"/><rect x="102.2" y="310.2" width="5.0" height="5.0"/><rect x="103.9" y="310.3" width="5.0" height="5.0"/><rect x="105.6" y="309.8" width="5.0" height="5.0"/><rect x="107.4" y="310.4" width="5.0" height="5.0"/><rect x="109.1" y="309.4" width="5.0" height="5.0"/><rect x="110.8" y="309.4" width="5.0" height="5.0"/><rect x="112.5" y="308.5" width="5.0" height="5.0"/><rect x="114.2" y="310.7" width="5.0" height="5.0"/><rect x="116.0" y="309.6" width="5.0" height="5.0"/><rect x="117.7" y="310.5" width="5.0" height="5.0"/><rect x="119.4" y="309.6" width="5.0" height="5.0"/><rect x="121.1" y="310.6" width="5.0" height="5.0"/><rect x="122.8" y="309.6" width="5.0" height="5.0"/><rect x="124.6" y="310.8" width="5.0" height="5.0"/><rect x="126.3" y="312.8" width="5.0" height="5.0"/><rect x="128.0" y="310.0" width="5.0" height="5.0"/><rect x="129.7" y="312.2" width="5.0" height="5.0"/><rect x="131.4" y="313.0" width="5.0" height="5.0"/><rect x="133.2" y="312.3" width="5.0" height="5.0"/><rect x="134.9" y="312.9" width="5.0" height="5.0"/><rect x="136.6" y="313.7" width="5.0" height="5.0"/><rect x="138.3" y="312.4" width="5.0" height="5.0"/><rect x="140.0" y="313.5" width="5.0" height="5.0"/><rect x="141.8" y="312.8" width="5.0" height="5.0"/><rect x="143.5" y="313.2" width="5.0" height="5.0"/><rect x="145.2" y="313.5" width="5.0" height="5.0"/><rect x="146.9" y="314.1" width="5.0" height="5.0"/><rect x="148.6" y="314.6" width="5.0" height="5.0"/><rect x="150.4" y="314.6" width="5.0" height="5.0"/><rect x="152.1" y="312.9" width="5.0" height="5.0"/><rect x="153.8" y="315.4" width="5.0" height="5.0"/><rect x="155.5" y="314.5" width="5.0" height="5.0"/><rect x="157.2" y="313.9" width="5.0" height="5.0"/><rect x="159.0" y="312.8" width="5.0" height="5.0"/><rect x="160.7" y="312.7" width="5.0" height="5.0"/><rect x="162.4" y="312.9" width="5.0" height="5.0"/><rect x="164.1" y="312.5" width="5.0" height="5.0"/><rect x="165.8" y="310.5" width="5.0" height="5.0"/><rect x="167.6" y="312.4" width="5.0" height="5.0"/><rect x="169.3" y="314.3" width="5.0" height="5.0"/><rect x="171.0" y="310.6" width="5.0" height="5.0"/><rect x="172.7" y="313.1" width="5.0" height="5.0"/><rect x="174.4" y="312.8" width="5.0" height="5.0"/><rect x="176.2" y="312.6" width="5.0" height="5.0"/><rect x="177.9" y="313.9" width="5.0" height="5.0"/><rect x="179.6" y="312.0" width="5.0" height="5.0"/><rect x="181.3" y="313.3" width="5.0" height="5.0"/><rect x="183.0" y="314.6" width="5.0" height="5.0"/><rect x="184.8" y="313.4" width="5.0" height="5.0"/><rect x="186.5" y="313.4" width="5.0" height="5.0"/><rect x="188.2" y="314.0" width="5.0" height="5.0"/><rect x="189.9" y="313.7" width="5.0" height="5.0"/><rect x="191.6" y="315.5" width="5.0" height="5.0"/><rect x="193.4" y="313.6" width="5.0" height="5.0"/><rect x="195.1" y="315.2" width="5.0" height="5.0"/><rect x="196.8" y="313.6" width="5.0" height="5.0"/><rect x="198.5" y="315.2" width="5.0" height="5.0"/><rect x="200.2" y="314.5" width="5.0" height="5.0"/><rect x="202.0" y="312.5" width="5.0" height="5.0"/><rect x="203.7" y="314.6" width="5.0" height="5.0"/><rect x="205.4" y="313.7" width="5.0" height="5.0"/><rect x="207.1" y="313.8" width="5.0" height="5.0"/><rect x="208.8" y="315.0" width="5.0" height="5.0"/><rect x="210.6" y="312.4" width="5.0" height="5.0"/><rect x="212.3" y="312.0" width="5.0" height="5.0"/><rect x="214.0" y="313.6" width="5.0" height="5.0"/><rect x="215.7" y="312.2" width="5.0" height="5.0"/><rect x="217.4" y="313.3" width="5.0" height="5.0"/><rect x="219.2" y="312.2" width="5.0" height="5.0"/><rect x="220.9" y="311.1" width="5.0" height="5.0"/><rect x="222.6" y="311.7" width="5.0" height="5.0"/><rect x="224.3" y="312.7" width="5.0" height="5.0"/><rect x="226.0" y="312.5" width="5.0" height="5.0"/><rect x="227.8" y="311.8" width="5.0" height="5.0"/><rect x="229.5" y="311.9" width="5.0" height="5.0"/><rect x="231.2" y="311.9" width="5.0" height="5.0"/><rect x="232.9" y="311.6" width="5.0" height="5.0"/><rect x="234.6" y="313.7" width="5.0" height="5.0"/><rect x="236.4" y="312.4" width="5.0" height="5.0"/><rect x="238.1" y="311.6" width="5.0" height="5.0"/><rect x="239.8" y="312.4" width="5.0" height="5.0"/><rect x="241.5" y="313.6" width="5.0" height="5.0"/><rect x="243.2" y="313.7" width="5.0" height="5.0"/><rect x="245.0" y="313.2" width="5.0" height="5.0"/><rect x="246.7" y="312.9" width="5.0" height="5.0"/><rect x="248.4" y="313.6" width="5.0" height="5.0"/><rect x="250.1" y="312.2" width="5.0" height="5.0"/><rect x="251.8" y="312.6" width="5.0" height="5.0"/><rect x="253.6" y="314.4" width="5.0" height="5.0"/><rect x="255.3" y="313.1" width="5.0" height="5.0"/><rect x="257.0" y="313.5" width="5.0" height="5.0"/><rect x="258.7" y="314.0" width="5.0" height="5.0"/><rect x="260.4" y="313.2" width="5.0" height="5.0"/><rect x="262.2" y="312.4" width="5.0" height="5.0"/><rect x="263.9" y="313.9" width="5.0" height="5.0"/><rect x="265.6" y="312.4" width="5.0" height="5.0"/><rect x="267.3" y="311.3" width="5.0" height="5.0"/><rect x="269.0" y="312.1" width="5.0" height="5.0"/><rect x="270.8" y="311.7" width="5.0" height="5.0"/><rect x="272.5" y="310.5" width="5.0" height="5.0"/><rect x="274.2" y="311.1" width="5.0" height="5.0"/><rect x="275.9" y="310.7" width="5.0" height="5.0"/><rect x="277.6" y="309.3" width="5.0" height="5.0"/><rect x="279.4" y="310.9" width="5.0" height="5.0"/><rect x="281.1" y="311.0" width="5.0" height="5.0"/><rect x="282.8" y="311.0" width="5.0" height="5.0"/><rect x="284.5" y="310.2" width="5.0" height="5.0"/><rect x="286.2" y="311.4" width="5.0" height="5.0"/><rect x="288.0" y="311.9" width="5.0" height="5.0"/><rect x="289.7" y="312.2" width="5.0" height="5.0"/><rect x="291.4" y="311.3" width="5.0" height="5.0"/><rect x="293.1" y="313.0" width="5.0" height="5.0"/><rect x="294.8" y="311.6" width="5.0" height="5.0"/><rect x="296.6" y="312.6" width="5.0" height="5.0"/><rect x="298.3" y="313.9" width="5.0" height="5.0"/><rect x="300.0" y="312.4" width="5.0" height="5.0"/><rect x="301.7" y="312.7" width="5.0" height="5.0"/><rect x="303.4" y="314.1" width="5.0" height="5.0"/><rect x="305.2" y="313.0" width="5.0" height="5.0"/><rect x="306.9" y="312.8" width="5.0" height="5.0"/><rect x="308.6" y="312.9" width="5.0" height="5.0"/><rect x="310.3" y="313.3" width="5.0" height="5.0"/><rect x="312.0" y="310.3" width="5.0" height="5.0"/><rect x="313.8" y="311.1" width="5.0" height="5.0"/><rect x="315.5" y="310.8" width="5.0" height="5.0"/><rect x="317.2" y="310.6" width="5.0" height="5.0"/><rect x="318.9" y="310.6" width="5.0" height="5.0"/><rect x="320.6" y="310.5" width="5.0" height="5.0"/><rect x="322.4" y="311.2" width="5.0" height="5.0"/><rect x="324.1" y="310.1" width="5.0" height="5.0"/><rect x="325.8" y="311.3" width="5.0" height="5.0"/><rect x="327.5" y="312.0" width="5.0" height="5.0"/><rect x="329.2" y="311.5" width="5.0" height="5.0"/><rect x="331.0" y="312.7" width="5.0" height="5.0"/><rect x="332.7" y="314.4" width="5.0" height="5.0"/><rect x="334.4" y="313.8" width="5.0" height="5.0"/><rect x="336.1" y="313.4" width="5.0" height="5.0"/><rect x="337.8" y="314.3" width="5.0" height="5.0"/><rect x="339.6" y="314.0" width="5.0" height="5.0"/><rect x="341.3" y="315.4" width="5.0" height="5.0"/><rect x="343.0" y="316.3" width="5.0" height="5.0"/><rect x="344.7" y="315.3" width="5.0" height="5.0"/><rect x="346.4" y="316.2" width="5.0" height="5.0"/><rect x="348.2" y="317.5" width="5.0" height="5.0"/><rect x="349.9" y="316.3" width="5.0" height="5.0"/><rect x="351.6" y="316.9" width="5.0" height="5.0"/><rect x="353.3" y="316.1" width="5.0" height="5.0"/><rect x="355.0" y="316.3" width="5.0" height="5.0"/><rect x="356.8" y="316.7" width="5.0" height="5.0"/><rect x="358.5" y="318.8" width="5.0" height="5.0"/><rect x="360.2" y="316.8" width="5.0" height="5.0"/><rect x="361.9" y="316.7" width="5.0" height="5.0"/><rect x="363.6" y="316.6" width="5.0" height="5.0"/><rect x="365.4" y="317.0" width="5.0" height="5.0"/><rect x="367.1" y="317.6" width="5.0" height="5.0"/><rect x="368.8" y="317.1" width="5.0" height="5.0"/><rect x="370.5" y="318.5" width="5.0" height="5.0"/><rect x="372.2" y="316.9" width="5.0" height="5.0"/><rect x="374.0" y="317.8" width="5.0" height="5.0"/><rect x="375.7" y="316.7" width="5.0" height="5.0"/><rect x="377.4" y="316.9" width="5.0" height="5.0"/><rect x="379.1" y="315.2" width="5.0" height="5.0"/><rect x="380.8" y="316.1" width="5.0" height="5.0"/><rect x="382.6" y="316.1" width="5.0" height="5.0"/><rect x="384.3" y="315.9" width="5.0" height="5.0"/><rect x="386.0" y="314.3" width="5.0" height="5.0"/><rect x="387.7" y="316.6" width="5.0" height="5.0"/><rect x="389.4" y="315.5" width="5.0" height="5.0"/><rect x="391.2" y="315.4" width="5.0" height="5.0"/><rect x="392.9" y="315.4" width="5.0" height="5.0"/><rect x="394.6" y="315.4" width="5.0" height="5.0"/><rect x="396.3" y="315.8" width="5.0" height="5.0"/><rect x="398.0" y="314.4" width="5.0" height="5.0"/><rect x="399.8" y="314.6" width="5.0" height="5.0"/><rect x="401.5" y="315.5" width="5.0" height="5.0"/><rect x="403.2" y="315.4" width="5.0" height="5.0"/><rect x="404.9" y="314.9" width="5.0" height="5.0"/><rect x="406.6" y="315.6" width="5.0" height="5.0"/><rect x="408.4" y="316.5" width="5.0" height="5.0"/><rect x="410.1" y="318.2" width="5.0" height="5.0"/><rect x="411.8" y="319.1" width="5.0" height="5.0"/><rect x="413.5" y="316.9" width="5.0" height="5.0"/><rect x="415.2" y="318.5" width="5.0" height="5.0"/><rect x="417.0" y="317.5" width="5.0" height="5.0"/><rect x="418.7" y="315.9" width="5.0" height="5.0"/><rect x="420.4" y="316.4" width="5.0" height="5.0"/><rect x="422.1" y="314.1" width="5.0" height="5.0"/><rect x="423.8" y="313.4" width="5.0" height="5.0"/><rect x="425.6" y="313.7" width="5.0" height="5.0"/><rect x="427.3" y="314.5" width="5.0" height="5.0"/><rect x="429.0" y="314.7" width="5.0" height="5.0"/><rect x="430.7" y="314.7" width="5.0" height="5.0"/><rect x="432.4" y="315.4" width="5.0" height="5.0"/><rect x="434.2" y="313.8" width="5.0" height="5.0"/><rect x="435.9" y="316.4" width="5.0" height="5.0"/><rect x="437.6" y="315.4" width="5.0" height="5.0"/><rect x="439.3" y="316.6" width="5.0" height="5.0"/><rect x="441.0" y="317.3" width="5.0" height="5.0"/><rect x="442.8" y="317.3" width="5.0" height="5.0"/><rect x="444.5" y="317.5" width="5.0" height="5.0"/><rect x="446.2" y="317.9" width="5.0" height="5.0"/><rect x="447.9" y="318.9" width="5.0" height="5.0"/><rect x="449.6" y="319.5" width="5.0" height="5.0"/><rect x="451.4" y="319.7" width="5.0" height="5.0"/><rect x="453.1" y="318.4" width="5.0" height="5.0"/><rect x="454.8" y="318.4" width="5.0" height="5.0"/><rect x="456.5" y="318.1" width="5.0" height="5.0"/><rect x="458.2" y="319.1" width="5.0" height="5.0"/><rect x="460.0" y="316.9" width="5.0" height="5.0"/><rect x="461.7" y="319.4" width="5.0" height="5.0"/><rect x="463.4" y="317.8" width="5.0" height="5.0"/><rect x="465.1" y="317.4" width="5.0" height="5.0"/><rect x="466.8" y="318.1" width="5.0" height="5.0"/><rect x="468.6" y="318.4" width="5.0" height="5.0"/><rect x="470.3" y="317.5" width="5.0" height="5.0"/><rect x="472.0" y="317.6" width="5.0" height="5.0"/><rect x="473.7" y="316.4" width="5.0" height="5.0"/><rect x="475.4" y="316.8" width="5.0" height="5.0"/><rect x="477.2" y="316.3" width="5.0" height="5.0"/><rect x="478.9" y="314.8" width="5.0" height="5.0"/><rect x="480.6" y="315.9" width="5.0" height="5.0"/><rect x="482.3" y="314.7" width="5.0" height="5.0"/><rect x="484.0" y="314.4" width="5.0" height="5.0"/><rect x="485.8" y="313.4" width="5.0" height="5.0"/><rect x="487.5" y="314.0" width="5.0" height="5.0"/><rect x="489.2" y="315.0" width="5.0" height="5.0"/><rect x="490.9" y="313.5" width="5.0" height="5.0"/><rect x="492.6" y="315.2" width="5.0" height="5.0"/><rect x="494.4" y="315.2" width="5.0" height="5.0"/><rect x="496.1" y="315.2" width="5.0" height="5.0"/></g>
<polygon points="87.5,732.4 89.2,730.6 90.9,728.2 92.7,725.7 94.4,724.8 96.1,722.2 97.8,721.2 99.5,719.0 101.3,715.8 103.0,715.0 104.7,712.8 106.4,709.8 108.1,708.1 109.9,705.6 111.6,701.2 113.3,699.9 115.0,697.2 116.7,694.8 118.5,692.7 120.2,689.3 121.9,687.0 123.6,684.1 125.3,681.3 127.1,678.9 128.8,675.3 130.5,672.8 132.2,671.6 133.9,668.9 135.7,666.9 137.4,663.3 139.1,661.7 140.8,659.8 142.5,658.5 144.3,656.3 146.0,655.5 147.7,653.2 149.4,651.5 151.1,649.2 152.9,647.2 154.6,644.1 156.3,642.7 158.0,639.9 159.7,637.2 161.5,634.4 163.2,631.9 164.9,629.4 166.6,626.6 168.3,623.5 170.1,617.5 171.8,609.6 173.5,602.8 175.2,597.5 176.9,592.5 178.7,590.7 180.4,586.2 182.1,580.9 183.8,576.7 185.5,571.5 187.3,568.6 189.0,563.1 190.7,557.4 192.4,554.2 194.1,550.0 195.9,550.0 197.6,546.9 199.3,546.5 201.0,556.5 202.7,568.3 204.5,569.1 206.2,565.6 207.9,563.1 209.6,559.9 211.3,556.1 213.1,557.5 214.8,556.0 216.5,557.4 218.2,555.3 219.9,553.9 221.7,553.6 223.4,552.1 225.1,551.0 226.8,551.8 228.5,551.1 230.3,550.3 232.0,552.6 233.7,551.8 235.4,552.7 237.1,554.3 238.9,554.2 240.6,555.4 242.3,558.8 244.0,563.2 245.7,566.6 247.5,568.5 249.2,568.8 250.9,570.6 252.6,571.9 254.3,572.1 256.1,573.3 257.8,573.0 259.5,574.6 261.2,574.7 262.9,574.9 264.7,574.4 266.4,575.6 268.1,575.5 269.8,576.7 271.5,576.5 273.3,576.5 275.0,577.9 276.7,582.4 278.4,586.4 280.1,590.9 281.9,590.7 283.6,591.4 285.3,592.3 287.0,592.5 288.7,593.4 290.5,594.2 292.2,595.0 293.9,594.1 295.6,592.2 297.3,592.5 299.1,590.6 300.8,590.0 302.5,589.4 304.2,588.8 305.9,589.9 307.7,588.5 309.4,587.4 311.1,588.8 312.8,587.6 314.5,587.8 316.3,587.7 318.0,591.6 319.7,593.0 321.4,594.5 323.1,596.1 324.9,597.7 326.6,597.7 328.3,599.3 330.0,599.4 331.7,600.7 333.5,602.8 335.2,603.9 336.9,604.4 338.6,606.9 340.3,608.1 342.1,609.2 343.8,611.0 345.5,611.6 347.2,612.0 348.9,613.3 350.7,616.1 352.4,615.4 354.1,617.7 355.8,619.2 357.5,620.5 359.3,620.7 361.0,622.2 362.7,622.9 364.4,623.8 366.1,623.3 367.9,623.4 369.6,625.1 371.3,625.4 373.0,625.2 374.7,624.9 376.5,625.7 378.2,625.8 379.9,626.5 381.6,625.4 383.3,626.5 385.1,626.4 386.8,625.8 388.5,626.6 390.2,626.5 391.9,626.3 393.7,626.7 395.4,625.6 397.1,626.5 398.8,626.6 400.5,626.1 402.3,626.2 404.0,624.5 405.7,623.9 407.4,624.6 409.1,624.8 410.9,625.8 412.6,624.9 414.3,624.0 416.0,625.0 417.7,624.0 419.5,623.6 421.2,626.1 422.9,625.0 424.6,625.6 426.3,625.8 428.1,626.9 429.8,626.4 431.5,627.3 433.2,626.3 434.9,626.4 436.7,628.2 438.4,628.0 440.1,627.3 441.8,627.0 443.5,626.7 445.3,626.1 447.0,627.2 448.7,626.5 450.4,626.3 452.1,625.9 453.9,626.0 455.6,625.4 457.3,625.3 459.0,623.9 460.7,624.6 462.5,625.4 464.2,623.5 465.9,623.4 467.6,623.7 469.3,623.4 471.1,622.9 472.8,621.2 474.5,622.2 476.2,620.9 477.9,621.2 479.7,622.2 481.4,621.8 483.1,622.6 484.8,624.2 486.5,622.9 488.3,623.1 490.0,622.7 491.7,623.4 493.4,623.6 495.1,624.5 496.9,624.7 498.6,625.0 498.6,646.3 496.9,646.3 495.1,645.6 493.4,645.6 491.7,645.4 490.0,644.5 488.3,644.1 486.5,643.2 484.8,643.1 483.1,643.4 481.4,642.4 479.7,641.6 477.9,640.7 476.2,641.0 474.5,641.0 472.8,641.7 471.1,641.9 469.3,641.9 467.6,642.5 465.9,643.7 464.2,643.0 462.5,643.7 460.7,642.6 459.0,644.3 457.3,644.5 455.6,644.4 453.9,646.0 452.1,645.3 450.4,644.8 448.7,645.3 447.0,645.8 445.3,645.9 443.5,645.4 441.8,645.9 440.1,646.3 438.4,646.7 436.7,646.6 434.9,646.2 433.2,646.5 431.5,645.9 429.8,646.1 428.1,645.6 426.3,645.8 424.6,644.5 422.9,644.3 421.2,644.2 419.5,643.6 417.7,642.9 416.0,643.6 414.3,643.4 412.6,642.2 410.9,643.4 409.1,642.5 407.4,643.2 405.7,643.8 404.0,643.8 402.3,644.6 400.5,644.2 398.8,644.6 397.1,644.6 395.4,644.8 393.7,645.1 391.9,644.5 390.2,645.0 388.5,644.6 386.8,644.7 385.1,644.6 383.3,644.8 381.6,644.0 379.9,644.8 378.2,645.0 376.5,645.1 374.7,643.4 373.0,643.8 371.3,643.4 369.6,644.5 367.9,643.9 366.1,643.5 364.4,643.5 362.7,643.3 361.0,643.3 359.3,642.5 357.5,642.1 355.8,640.5 354.1,641.5 352.4,637.7 350.7,634.2 348.9,635.2 347.2,634.4 345.5,633.9 343.8,632.2 342.1,632.2 340.3,631.0 338.6,630.1 336.9,629.1 335.2,628.0 333.5,626.6 331.7,624.2 330.0,622.4 328.3,621.3 326.6,619.9 324.9,618.5 323.1,618.7 321.4,616.5 319.7,616.1 318.0,615.5 316.3,614.8 314.5,613.1 312.8,612.2 311.1,612.9 309.4,611.9 307.7,612.3 305.9,613.1 304.2,613.8 302.5,614.2 300.8,614.4 299.1,615.1 297.3,615.5 295.6,616.7 293.9,616.8 292.2,618.0 290.5,617.0 288.7,616.7 287.0,616.2 285.3,616.0 283.6,615.4 281.9,612.8 280.1,609.7 278.4,607.6 276.7,605.0 275.0,601.7 273.3,602.4 271.5,600.3 269.8,601.5 268.1,601.5 266.4,601.4 264.7,601.3 262.9,600.6 261.2,600.7 259.5,600.3 257.8,600.4 256.1,600.6 254.3,598.2 252.6,597.6 250.9,595.4 249.2,594.4 247.5,591.8 245.7,587.8 244.0,587.1 242.3,587.7 240.6,587.4 238.9,587.3 237.1,587.0 235.4,586.0 233.7,585.4 232.0,584.4 230.3,586.1 228.5,586.0 226.8,586.2 225.1,586.3 223.4,587.7 221.7,589.4 219.9,590.7 218.2,591.0 216.5,591.6 214.8,592.6 213.1,592.5 211.3,593.5 209.6,593.6 207.9,594.8 206.2,595.9 204.5,596.2 202.7,595.3 201.0,591.5 199.3,584.6 197.6,583.7 195.9,586.2 194.1,587.7 192.4,591.2 190.7,594.1 189.0,596.1 187.3,599.3 185.5,603.7 183.8,608.2 182.1,612.4 180.4,615.4 178.7,619.1 176.9,622.7 175.2,624.3 173.5,628.4 171.8,631.1 170.1,634.1 168.3,636.8 166.6,640.2 164.9,643.0 163.2,644.4 161.5,647.8 159.7,649.4 158.0,651.7 156.3,654.6 154.6,657.9 152.9,659.4 151.1,660.3 149.4,662.1 147.7,664.3 146.0,668.1 144.3,668.9 142.5,670.6 140.8,672.7 139.1,674.6 137.4,676.1 135.7,679.4 133.9,681.4 132.2,684.6 130.5,686.2 128.8,688.3 127.1,690.9 125.3,692.5 123.6,696.0 121.9,698.3 120.2,701.4 118.5,703.6 116.7,704.4 115.0,708.3 113.3,710.7 111.6,712.9 109.9,715.5 108.1,717.3 106.4,719.2 104.7,721.9 103.0,723.7 101.3,724.3 99.5,727.9 97.8,728.3 96.1,730.3 94.4,731.8 92.7,733.0 90.9,735.2 89.2,737.1 87.5,737.7" fill="#d9d8ef" fill-opacity="1.0"/>
<path d="M87.5 732.4V737.7M92.7 725.7V733.0M97.8 721.2V728.3M103.0 715.0V723.7M108.1 708.1V717.3M113.3 699.9V710.7M118.5 692.7V703.6M123.6 684.1V696.0M128.8 675.3V688.3M133.9 668.9V681.4M139.1 661.7V674.6M144.3 656.3V668.9M149.4 651.5V662.1M154.6 644.1V657.9M159.7 637.2V649.4M164.9 629.4V643.0M170.1 617.5V634.1M175.2 597.5V624.3M180.4 586.2V615.4M185.5 571.5V603.7M190.7 557.4V594.1M195.9 550.0V586.2M201.0 556.5V591.5M206.2 565.6V595.9M211.3 556.1V593.5M216.5 557.4V591.6M221.7 553.6V589.4M226.8 551.8V586.2M232.0 552.6V584.4M237.1 554.3V587.0M242.3 558.8V587.7M247.5 568.5V591.8M252.6 571.9V597.6M257.8 573.0V600.4M262.9 574.9V600.6M268.1 575.5V601.5M273.3 576.5V602.4M278.4 586.4V607.6M283.6 591.4V615.4M288.7 593.4V616.7M293.9 594.1V616.8M299.1 590.6V615.1M304.2 588.8V613.8M309.4 587.4V611.9M314.5 587.8V613.1M319.7 593.0V616.1M324.9 597.7V618.5M330.0 599.4V622.4M335.2 603.9V628.0M340.3 608.1V631.0M345.5 611.6V633.9M350.7 616.1V634.2M355.8 619.2V640.5M361.0 622.2V643.3M366.1 623.3V643.5M371.3 625.4V643.4M376.5 625.7V645.1M381.6 625.4V644.0M386.8 625.8V644.7M391.9 626.3V644.5M397.1 626.5V644.6M402.3 626.2V644.6M407.4 624.6V643.2M412.6 624.9V642.2M417.7 624.0V642.9M422.9 625.0V644.3M428.1 626.9V645.6M433.2 626.3V646.5M438.4 628.0V646.7M443.5 626.7V645.4M448.7 626.5V645.3M453.9 626.0V646.0M459.0 623.9V644.3M464.2 623.5V643.0M469.3 623.4V641.9M474.5 622.2V641.0M479.7 622.2V641.6M484.8 624.2V643.1M490.0 622.7V644.5M495.1 624.5V645.6" stroke="#a3a3c6" stroke-opacity="0.45" stroke-width="0.7" fill="none"/>
<path d="M84.5 732.4h6M86.2 730.6h6M87.9 728.2h6M89.7 725.7h6M91.4 724.8h6M93.1 722.2h6M94.8 721.2h6M96.5 719.0h6M98.3 715.8h6M100.0 715.0h6M101.7 712.8h6M103.4 709.8h6M105.1 708.1h6M106.9 705.6h6M108.6 701.2h6M110.3 699.9h6M112.0 697.2h6M113.7 694.8h6M115.5 692.7h6M117.2 689.3h6M118.9 687.0h6M120.6 684.1h6M122.3 681.3h6M124.1 678.9h6M125.8 675.3h6M127.5 672.8h6M129.2 671.6h6M130.9 668.9h6M132.7 666.9h6M134.4 663.3h6M136.1 661.7h6M137.8 659.8h6M139.5 658.5h6M141.3 656.3h6M143.0 655.5h6M144.7 653.2h6M146.4 651.5h6M148.1 649.2h6M149.9 647.2h6M151.6 644.1h6M153.3 642.7h6M155.0 639.9h6M156.7 637.2h6M158.5 634.4h6M160.2 631.9h6M161.9 629.4h6M163.6 626.6h6M165.3 623.5h6M167.1 617.5h6M168.8 609.6h6M170.5 602.8h6M172.2 597.5h6M173.9 592.5h6M175.7 590.7h6M177.4 586.2h6M179.1 580.9h6M180.8 576.7h6M182.5 571.5h6M184.3 568.6h6M186.0 563.1h6M187.7 557.4h6M189.4 554.2h6M191.1 550.0h6M192.9 550.0h6M194.6 546.9h6M196.3 546.5h6M198.0 556.5h6M199.7 568.3h6M201.5 569.1h6M203.2 565.6h6M204.9 563.1h6M206.6 559.9h6M208.3 556.1h6M210.1 557.5h6M211.8 556.0h6M213.5 557.4h6M215.2 555.3h6M216.9 553.9h6M218.7 553.6h6M220.4 552.1h6M222.1 551.0h6M223.8 551.8h6M225.5 551.1h6M227.3 550.3h6M229.0 552.6h6M230.7 551.8h6M232.4 552.7h6M234.1 554.3h6M235.9 554.2h6M237.6 555.4h6M239.3 558.8h6M241.0 563.2h6M242.7 566.6h6M244.5 568.5h6M246.2 568.8h6M247.9 570.6h6M249.6 571.9h6M251.3 572.1h6M253.1 573.3h6M254.8 573.0h6M256.5 574.6h6M258.2 574.7h6M259.9 574.9h6M261.7 574.4h6M263.4 575.6h6M265.1 575.5h6M266.8 576.7h6M268.5 576.5h6M270.3 576.5h6M272.0 577.9h6M273.7 582.4h6M275.4 586.4h6M277.1 590.9h6M278.9 590.7h6M280.6 591.4h6M282.3 592.3h6M284.0 592.5h6M285.7 593.4h6M287.5 594.2h6M289.2 595.0h6M290.9 594.1h6M292.6 592.2h6M294.3 592.5h6M296.1 590.6h6M297.8 590.0h6M299.5 589.4h6M301.2 588.8h6M302.9 589.9h6M304.7 588.5h6M306.4 587.4h6M308.1 588.8h6M309.8 587.6h6M311.5 587.8h6M313.3 587.7h6M315.0 591.6h6M316.7 593.0h6M318.4 594.5h6M320.1 596.1h6M321.9 597.7h6M323.6 597.7h6M325.3 599.3h6M327.0 599.4h6M328.7 600.7h6M330.5 602.8h6M332.2 603.9h6M333.9 604.4h6M335.6 606.9h6M337.3 608.1h6M339.1 609.2h6M340.8 611.0h6M342.5 611.6h6M344.2 612.0h6M345.9 613.3h6M347.7 616.1h6M349.4 615.4h6M351.1 617.7h6M352.8 619.2h6M354.5 620.5h6M356.3 620.7h6M358.0 622.2h6M359.7 622.9h6M361.4 623.8h6M363.1 623.3h6M364.9 623.4h6M366.6 625.1h6M368.3 625.4h6M370.0 625.2h6M371.7 624.9h6M373.5 625.7h6M375.2 625.8h6M376.9 626.5h6M378.6 625.4h6M380.3 626.5h6M382.1 626.4h6M383.8 625.8h6M385.5 626.6h6M387.2 626.5h6M388.9 626.3h6M390.7 626.7h6M392.4 625.6h6M394.1 626.5h6M395.8 626.6h6M397.5 626.1h6M399.3 626.2h6M401.0 624.5h6M402.7 623.9h6M404.4 624.6h6M406.1 624.8h6M407.9 625.8h6M409.6 624.9h6M411.3 624.0h6M413.0 625.0h6M414.7 624.0h6M416.5 623.6h6M418.2 626.1h6M419.9 625.0h6M421.6 625.6h6M423.3 625.8h6M425.1 626.9h6M426.8 626.4h6M428.5 627.3h6M430.2 626.3h6M431.9 626.4h6M433.7 628.2h6M435.4 628.0h6M437.1 627.3h6M438.8 627.0h6M440.5 626.7h6M442.3 626.1h6M444.0 627.2h6M445.7 626.5h6M447.4 626.3h6M449.1 625.9h6M450.9 626.0h6M452.6 625.4h6M454.3 625.3h6M456.0 623.9h6M457.7 624.6h6M459.5 625.4h6M461.2 623.5h6M462.9 623.4h6M464.6 623.7h6M466.3 623.4h6M468.1 622.9h6M469.8 621.2h6M471.5 622.2h6M473.2 620.9h6M474.9 621.2h6M476.7 622.2h6M478.4 621.8h6M480.1 622.6h6M481.8 624.2h6M483.5 622.9h6M485.3 623.1h6M487.0 622.7h6M488.7 623.4h6M490.4 623.6h6M492.1 624.5h6M493.9 624.7h6M495.6 625.0h6" stroke="#a3a3c6" stroke-width="0.7" fill="none"/>
<polygon points="87.5,753.1 89.2,751.8 90.9,749.8 92.7,747.9 94.4,746.7 96.1,743.2 97.8,742.5 99.5,741.0 101.3,738.1 103.0,736.0 104.7,734.2 106.4,732.6 108.1,729.3 109.9,727.8 111.6,725.6 113.3,723.8 115.0,721.9 116.7,720.4 118.5,718.2 120.2,716.3 121.9,713.9 123.6,711.8 125.3,709.9 127.1,706.9 128.8,703.6 130.5,701.6 132.2,695.9 133.9,690.4 135.7,688.0 137.4,684.0 139.1,681.1 140.8,678.2 142.5,676.3 144.3,674.2 146.0,671.3 147.7,668.7 149.4,666.6 151.1,662.2 152.9,660.4 154.6,658.0 156.3,655.4 158.0,653.2 159.7,652.8 161.5,650.2 163.2,649.6 164.9,647.8 166.6,646.7 168.3,646.0 170.1,645.4 171.8,644.9 173.5,644.0 175.2,642.5 176.9,641.1 178.7,640.2 180.4,639.0 182.1,637.2 183.8,636.3 185.5,635.5 187.3,633.9 189.0,632.9 190.7,631.5 192.4,630.6 194.1,629.8 195.9,628.6 197.6,626.6 199.3,625.9 201.0,623.5 202.7,623.3 204.5,621.4 206.2,620.5 207.9,619.4 209.6,617.8 211.3,618.2 213.1,617.5 214.8,617.3 216.5,615.2 218.2,615.6 219.9,612.8 221.7,610.6 223.4,607.0 225.1,605.7 226.8,603.3 228.5,601.7 230.3,599.8 232.0,597.6 233.7,597.4 235.4,596.9 237.1,597.9 238.9,600.2 240.6,602.8 242.3,605.2 244.0,607.6 245.7,609.5 247.5,611.7 249.2,612.6 250.9,613.3 252.6,613.7 254.3,614.6 256.1,615.2 257.8,615.5 259.5,615.7 261.2,617.2 262.9,616.8 264.7,616.8 266.4,616.8 268.1,617.4 269.8,618.0 271.5,618.0 273.3,617.6 275.0,617.7 276.7,617.6 278.4,617.3 280.1,618.4 281.9,618.6 283.6,620.0 285.3,619.3 287.0,620.3 288.7,622.0 290.5,622.9 292.2,623.2 293.9,623.9 295.6,624.8 297.3,625.5 299.1,625.8 300.8,626.7 302.5,627.2 304.2,627.3 305.9,627.6 307.7,627.8 309.4,628.5 311.1,628.9 312.8,628.9 314.5,629.5 316.3,629.7 318.0,629.8 319.7,630.5 321.4,631.7 323.1,632.1 324.9,633.1 326.6,632.9 328.3,633.5 330.0,634.1 331.7,634.3 333.5,634.0 335.2,634.5 336.9,635.0 338.6,635.0 340.3,636.1 342.1,636.9 343.8,636.8 345.5,638.3 347.2,637.9 348.9,638.5 350.7,638.9 352.4,639.3 354.1,640.2 355.8,640.6 357.5,641.7 359.3,641.8 361.0,642.2 362.7,642.2 364.4,642.0 366.1,642.8 367.9,642.7 369.6,643.8 371.3,644.9 373.0,647.0 374.7,648.1 376.5,649.5 378.2,650.7 379.9,651.2 381.6,652.0 383.3,652.7 385.1,652.5 386.8,653.5 388.5,654.7 390.2,654.1 391.9,654.5 393.7,654.7 395.4,654.9 397.1,656.4 398.8,656.3 400.5,656.8 402.3,657.7 404.0,658.3 405.7,657.3 407.4,658.5 409.1,658.6 410.9,658.9 412.6,659.3 414.3,659.3 416.0,660.3 417.7,660.2 419.5,660.3 421.2,661.0 422.9,661.1 424.6,661.2 426.3,661.4 428.1,662.2 429.8,661.9 431.5,661.8 433.2,661.7 434.9,662.1 436.7,662.0 438.4,662.6 440.1,662.9 441.8,662.1 443.5,663.1 445.3,663.4 447.0,663.4 448.7,663.1 450.4,664.1 452.1,663.4 453.9,663.3 455.6,663.5 457.3,664.2 459.0,664.8 460.7,665.1 462.5,664.9 464.2,664.5 465.9,665.0 467.6,665.1 469.3,665.6 471.1,665.2 472.8,666.3 474.5,666.8 476.2,666.8 477.9,667.3 479.7,667.1 481.4,667.2 483.1,667.8 484.8,668.9 486.5,669.3 488.3,669.3 490.0,670.5 491.7,670.4 493.4,671.6 495.1,671.7 496.9,671.9 498.6,672.4 498.6,685.3 496.9,685.3 495.1,684.0 493.4,683.6 491.7,682.3 490.0,681.9 488.3,681.4 486.5,680.2 484.8,679.5 483.1,678.2 481.4,678.4 479.7,677.6 477.9,678.1 476.2,677.7 474.5,678.1 472.8,677.8 471.1,677.1 469.3,677.7 467.6,676.4 465.9,677.2 464.2,676.9 462.5,676.5 460.7,675.3 459.0,675.2 457.3,675.7 455.6,675.8 453.9,675.7 452.1,674.8 450.4,674.8 448.7,675.2 447.0,675.2 445.3,674.3 443.5,674.3 441.8,673.7 440.1,673.5 438.4,672.8 436.7,672.7 434.9,672.9 433.2,671.8 431.5,671.4 429.8,670.8 428.1,671.0 426.3,670.3 424.6,670.1 422.9,669.6 421.2,669.5 419.5,669.1 417.7,668.8 416.0,667.8 414.3,667.9 412.6,668.6 410.9,666.9 409.1,665.8 407.4,667.1 405.7,666.7 404.0,665.3 402.3,664.9 400.5,664.6 398.8,664.7 397.1,663.5 395.4,663.7 393.7,661.4 391.9,661.7 390.2,662.0 388.5,661.2 386.8,659.3 385.1,659.1 383.3,659.6 381.6,658.0 379.9,656.5 378.2,655.2 376.5,655.1 374.7,653.9 373.0,651.5 371.3,652.6 369.6,650.4 367.9,650.6 366.1,650.3 364.4,650.4 362.7,651.7 361.0,650.8 359.3,650.7 357.5,650.7 355.8,650.4 354.1,650.8 352.4,649.7 350.7,649.0 348.9,648.8 347.2,648.2 345.5,648.3 343.8,647.2 342.1,647.1 340.3,646.1 338.6,644.9 336.9,645.1 335.2,645.0 333.5,644.0 331.7,645.1 330.0,643.1 328.3,643.1 326.6,642.3 324.9,643.4 323.1,641.6 321.4,641.9 319.7,640.3 318.0,641.2 316.3,640.3 314.5,639.8 312.8,639.4 311.1,639.6 309.4,638.7 307.7,639.5 305.9,638.8 304.2,639.2 302.5,638.5 300.8,638.2 299.1,637.0 297.3,637.2 295.6,635.9 293.9,635.9 292.2,635.2 290.5,634.7 288.7,634.2 287.0,633.9 285.3,632.5 283.6,632.2 281.9,631.1 280.1,631.6 278.4,631.1 276.7,630.0 275.0,630.4 273.3,630.2 271.5,630.5 269.8,630.3 268.1,629.9 266.4,630.2 264.7,629.9 262.9,629.9 261.2,629.6 259.5,628.9 257.8,628.4 256.1,628.2 254.3,627.1 252.6,627.3 250.9,627.2 249.2,626.2 247.5,624.8 245.7,625.3 244.0,623.3 242.3,622.0 240.6,620.8 238.9,621.1 237.1,620.1 235.4,619.8 233.7,622.7 232.0,622.6 230.3,624.2 228.5,626.0 226.8,626.9 225.1,628.3 223.4,630.5 221.7,630.2 219.9,632.4 218.2,632.9 216.5,633.0 214.8,633.8 213.1,634.9 211.3,635.0 209.6,635.8 207.9,636.4 206.2,637.6 204.5,638.4 202.7,639.0 201.0,640.2 199.3,640.3 197.6,641.2 195.9,641.8 194.1,642.5 192.4,643.4 190.7,645.1 189.0,645.5 187.3,646.6 185.5,647.8 183.8,649.2 182.1,650.6 180.4,651.1 178.7,654.2 176.9,654.9 175.2,655.9 173.5,657.1 171.8,658.7 170.1,659.8 168.3,661.2 166.6,664.1 164.9,664.9 163.2,666.4 161.5,668.1 159.7,669.6 158.0,670.1 156.3,671.7 154.6,673.5 152.9,676.6 151.1,679.5 149.4,681.8 147.7,684.7 146.0,685.4 144.3,687.4 142.5,688.7 140.8,691.1 139.1,693.3 137.4,696.5 135.7,698.7 133.9,702.1 132.2,705.1 130.5,708.2 128.8,711.8 127.1,715.8 125.3,718.5 123.6,720.9 121.9,721.7 120.2,724.0 118.5,724.8 116.7,727.9 115.0,728.9 113.3,730.9 111.6,732.0 109.9,733.2 108.1,735.9 106.4,738.2 104.7,739.8 103.0,740.5 101.3,742.3 99.5,744.8 97.8,745.5 96.1,747.3 94.4,748.9 92.7,750.7 90.9,751.5 89.2,753.4 87.5,754.6" fill="#dfe8df" fill-opacity="1.0"/>
<path d="M87.5 754.6V753.1M92.7 750.7V747.9M97.8 745.5V742.5M103.0 740.5V736.0M108.1 735.9V729.3M113.3 730.9V723.8M118.5 724.8V718.2M123.6 720.9V711.8M128.8 711.8V703.6M133.9 702.1V690.4M139.1 693.3V681.1M144.3 687.4V674.2M149.4 681.8V666.6M154.6 673.5V658.0M159.7 669.6V652.8M164.9 664.9V647.8M170.1 659.8V645.4M175.2 655.9V642.5M180.4 651.1V639.0M185.5 647.8V635.5M190.7 645.1V631.5M195.9 641.8V628.6M201.0 640.2V623.5M206.2 637.6V620.5M211.3 635.0V618.2M216.5 633.0V615.2M221.7 630.2V610.6M226.8 626.9V603.3M232.0 622.6V597.6M237.1 620.1V597.9M242.3 622.0V605.2M247.5 624.8V611.7M252.6 627.3V613.7M257.8 628.4V615.5M262.9 629.9V616.8M268.1 629.9V617.4M273.3 630.2V617.6M278.4 631.1V617.3M283.6 632.2V620.0M288.7 634.2V622.0M293.9 635.9V623.9M299.1 637.0V625.8M304.2 639.2V627.3M309.4 638.7V628.5M314.5 639.8V629.5M319.7 640.3V630.5M324.9 643.4V633.1M330.0 643.1V634.1M335.2 645.0V634.5M340.3 646.1V636.1M345.5 648.3V638.3M350.7 649.0V638.9M355.8 650.4V640.6M361.0 650.8V642.2M366.1 650.3V642.8M371.3 652.6V644.9M376.5 655.1V649.5M381.6 658.0V652.0M386.8 659.3V653.5M391.9 661.7V654.5M397.1 663.5V656.4M402.3 664.9V657.7M407.4 667.1V658.5M412.6 668.6V659.3M417.7 668.8V660.2M422.9 669.6V661.1M428.1 671.0V662.2M433.2 671.8V661.7M438.4 672.8V662.6M443.5 674.3V663.1M448.7 675.2V663.1M453.9 675.7V663.3M459.0 675.2V664.8M464.2 676.9V664.5M469.3 677.7V665.6M474.5 678.1V666.8M479.7 677.6V667.1M484.8 679.5V668.9M490.0 681.9V670.5M495.1 684.0V671.7" stroke="#b0c2b0" stroke-opacity="0.45" stroke-width="0.7" fill="none"/>
<path d="M84.5 754.6h6M86.2 753.4h6M87.9 751.5h6M89.7 750.7h6M91.4 748.9h6M93.1 747.3h6M94.8 745.5h6M96.5 744.8h6M98.3 742.3h6M100.0 740.5h6M101.7 739.8h6M103.4 738.2h6M105.1 735.9h6M106.9 733.2h6M108.6 732.0h6M110.3 730.9h6M112.0 728.9h6M113.7 727.9h6M115.5 724.8h6M117.2 724.0h6M118.9 721.7h6M120.6 720.9h6M122.3 718.5h6M124.1 715.8h6M125.8 711.8h6M127.5 708.2h6M129.2 705.1h6M130.9 702.1h6M132.7 698.7h6M134.4 696.5h6M136.1 693.3h6M137.8 691.1h6M139.5 688.7h6M141.3 687.4h6M143.0 685.4h6M144.7 684.7h6M146.4 681.8h6M148.1 679.5h6M149.9 676.6h6M151.6 673.5h6M153.3 671.7h6M155.0 670.1h6M156.7 669.6h6M158.5 668.1h6M160.2 666.4h6M161.9 664.9h6M163.6 664.1h6M165.3 661.2h6M167.1 659.8h6M168.8 658.7h6M170.5 657.1h6M172.2 655.9h6M173.9 654.9h6M175.7 654.2h6M177.4 651.1h6M179.1 650.6h6M180.8 649.2h6M182.5 647.8h6M184.3 646.6h6M186.0 645.5h6M187.7 645.1h6M189.4 643.4h6M191.1 642.5h6M192.9 641.8h6M194.6 641.2h6M196.3 640.3h6M198.0 640.2h6M199.7 639.0h6M201.5 638.4h6M203.2 637.6h6M204.9 636.4h6M206.6 635.8h6M208.3 635.0h6M210.1 634.9h6M211.8 633.8h6M213.5 633.0h6M215.2 632.9h6M216.9 632.4h6M218.7 630.2h6M220.4 630.5h6M222.1 628.3h6M223.8 626.9h6M225.5 626.0h6M227.3 624.2h6M229.0 622.6h6M230.7 622.7h6M232.4 619.8h6M234.1 620.1h6M235.9 621.1h6M237.6 620.8h6M239.3 622.0h6M241.0 623.3h6M242.7 625.3h6M244.5 624.8h6M246.2 626.2h6M247.9 627.2h6M249.6 627.3h6M251.3 627.1h6M253.1 628.2h6M254.8 628.4h6M256.5 628.9h6M258.2 629.6h6M259.9 629.9h6M261.7 629.9h6M263.4 630.2h6M265.1 629.9h6M266.8 630.3h6M268.5 630.5h6M270.3 630.2h6M272.0 630.4h6M273.7 630.0h6M275.4 631.1h6M277.1 631.6h6M278.9 631.1h6M280.6 632.2h6M282.3 632.5h6M284.0 633.9h6M285.7 634.2h6M287.5 634.7h6M289.2 635.2h6M290.9 635.9h6M292.6 635.9h6M294.3 637.2h6M296.1 637.0h6M297.8 638.2h6M299.5 638.5h6M301.2 639.2h6M302.9 638.8h6M304.7 639.5h6M306.4 638.7h6M308.1 639.6h6M309.8 639.4h6M311.5 639.8h6M313.3 640.3h6M315.0 641.2h6M316.7 640.3h6M318.4 641.9h6M320.1 641.6h6M321.9 643.4h6M323.6 642.3h6M325.3 643.1h6M327.0 643.1h6M328.7 645.1h6M330.5 644.0h6M332.2 645.0h6M333.9 645.1h6M335.6 644.9h6M337.3 646.1h6M339.1 647.1h6M340.8 647.2h6M342.5 648.3h6M344.2 648.2h6M345.9 648.8h6M347.7 649.0h6M349.4 649.7h6M351.1 650.8h6M352.8 650.4h6M354.5 650.7h6M356.3 650.7h6M358.0 650.8h6M359.7 651.7h6M361.4 650.4h6M363.1 650.3h6M364.9 650.6h6M366.6 650.4h6M368.3 652.6h6M370.0 651.5h6M371.7 653.9h6M373.5 655.1h6M375.2 655.2h6M376.9 656.5h6M378.6 658.0h6M380.3 659.6h6M382.1 659.1h6M383.8 659.3h6M385.5 661.2h6M387.2 662.0h6M388.9 661.7h6M390.7 661.4h6M392.4 663.7h6M394.1 663.5h6M395.8 664.7h6M397.5 664.6h6M399.3 664.9h6M401.0 665.3h6M402.7 666.7h6M404.4 667.1h6M406.1 665.8h6M407.9 666.9h6M409.6 668.6h6M411.3 667.9h6M413.0 667.8h6M414.7 668.8h6M416.5 669.1h6M418.2 669.5h6M419.9 669.6h6M421.6 670.1h6M423.3 670.3h6M425.1 671.0h6M426.8 670.8h6M428.5 671.4h6M430.2 671.8h6M431.9 672.9h6M433.7 672.7h6M435.4 672.8h6M437.1 673.5h6M438.8 673.7h6M440.5 674.3h6M442.3 674.3h6M444.0 675.2h6M445.7 675.2h6M447.4 674.8h6M449.1 674.8h6M450.9 675.7h6M452.6 675.8h6M454.3 675.7h6M456.0 675.2h6M457.7 675.3h6M459.5 676.5h6M461.2 676.9h6M462.9 677.2h6M464.6 676.4h6M466.3 677.7h6M468.1 677.1h6M469.8 677.8h6M471.5 678.1h6M473.2 677.7h6M474.9 678.1h6M476.7 677.6h6M478.4 678.4h6M480.1 678.2h6M481.8 679.5h6M483.5 680.2h6M485.3 681.4h6M487.0 681.9h6M488.7 682.3h6M490.4 683.6h6M492.1 684.0h6M493.9 685.3h6M495.6 685.3h6" stroke="#b0c2b0" stroke-width="0.7" fill="none"/>
<g fill="#3b4ea8" stroke="#27337e" stroke-width="0.6"><circle cx="87.5" cy="738.1" r="2.55"/><circle cx="88.7" cy="736.7" r="2.55"/><circle cx="89.9" cy="735.4" r="2.55"/><circle cx="91.1" cy="734.3" r="2.55"/><circle cx="92.2" cy="734.2" r="2.55"/><circle cx="93.4" cy="732.9" r="2.55"/><circle cx="94.6" cy="732.3" r="2.55"/><circle cx="95.8" cy="731.2" r="2.55"/><circle cx="96.9" cy="729.4" r="2.55"/><circle cx="98.1" cy="728.8" r="2.55"/><circle cx="99.2" cy="726.6" r="2.55"/><circle cx="100.3" cy="727.3" r="2.55"/><circle cx="101.5" cy="725.6" r="2.55"/><circle cx="102.6" cy="723.8" r="2.55"/><circle cx="103.7" cy="722.2" r="2.55"/><circle cx="104.8" cy="721.8" r="2.55"/><circle cx="105.8" cy="719.4" r="2.55"/><circle cx="106.7" cy="718.7" r="2.55"/><circle cx="107.7" cy="718.2" r="2.55"/><circle cx="108.7" cy="716.6" r="2.55"/><circle cx="109.7" cy="715.0" r="2.55"/><circle cx="110.6" cy="714.5" r="2.55"/><circle cx="111.6" cy="712.2" r="2.55"/><circle cx="112.6" cy="711.6" r="2.55"/><circle cx="113.5" cy="709.9" r="2.55"/><circle cx="114.4" cy="708.4" r="2.55"/><circle cx="115.3" cy="707.7" r="2.55"/><circle cx="116.2" cy="705.7" r="2.55"/><circle cx="117.1" cy="705.8" r="2.55"/><circle cx="118.0" cy="703.2" r="2.55"/><circle cx="118.9" cy="703.2" r="2.55"/><circle cx="119.8" cy="700.3" r="2.55"/><circle cx="120.7" cy="699.9" r="2.55"/><circle cx="121.6" cy="697.6" r="2.55"/><circle cx="122.5" cy="696.3" r="2.55"/><circle cx="123.5" cy="695.7" r="2.55"/><circle cx="124.5" cy="694.7" r="2.55"/><circle cx="125.4" cy="692.5" r="2.55"/><circle cx="126.4" cy="692.4" r="2.55"/><circle cx="127.4" cy="690.2" r="2.55"/><circle cx="128.3" cy="689.4" r="2.55"/><circle cx="129.3" cy="688.2" r="2.55"/><circle cx="130.3" cy="687.0" r="2.55"/><circle cx="131.2" cy="684.6" r="2.55"/><circle cx="132.2" cy="685.0" r="2.55"/><circle cx="133.1" cy="683.2" r="2.55"/><circle cx="134.1" cy="681.4" r="2.55"/><circle cx="135.0" cy="679.8" r="2.55"/><circle cx="136.0" cy="678.2" r="2.55"/><circle cx="136.9" cy="677.0" r="2.55"/><circle cx="137.9" cy="676.7" r="2.55"/><circle cx="138.8" cy="675.0" r="2.55"/><circle cx="139.7" cy="673.3" r="2.55"/><circle cx="140.8" cy="672.4" r="2.55"/><circle cx="142.0" cy="672.3" r="2.55"/><circle cx="143.1" cy="670.2" r="2.55"/><circle cx="144.2" cy="669.0" r="2.55"/><circle cx="145.3" cy="668.8" r="2.55"/><circle cx="146.2" cy="667.0" r="2.55"/><circle cx="147.2" cy="665.6" r="2.55"/><circle cx="148.2" cy="664.0" r="2.55"/><circle cx="149.2" cy="662.2" r="2.55"/><circle cx="150.2" cy="661.2" r="2.55"/><circle cx="151.3" cy="660.3" r="2.55"/><circle cx="152.3" cy="659.3" r="2.55"/><circle cx="153.4" cy="658.4" r="2.55"/><circle cx="154.5" cy="657.3" r="2.55"/><circle cx="155.4" cy="655.8" r="2.55"/><circle cx="156.3" cy="654.5" r="2.55"/><circle cx="157.3" cy="652.6" r="2.55"/><circle cx="158.2" cy="650.7" r="2.55"/><circle cx="159.1" cy="650.2" r="2.55"/><circle cx="160.1" cy="648.7" r="2.55"/><circle cx="161.0" cy="647.6" r="2.55"/><circle cx="161.9" cy="646.5" r="2.55"/><circle cx="162.9" cy="644.7" r="2.55"/><circle cx="163.8" cy="643.4" r="2.55"/><circle cx="164.7" cy="642.6" r="2.55"/><circle cx="165.5" cy="641.4" r="2.55"/><circle cx="166.3" cy="639.6" r="2.55"/><circle cx="167.2" cy="638.8" r="2.55"/><circle cx="168.0" cy="637.1" r="2.55"/><circle cx="168.9" cy="635.4" r="2.55"/><circle cx="169.7" cy="634.5" r="2.55"/><circle cx="170.4" cy="634.0" r="2.55"/><circle cx="171.2" cy="631.3" r="2.55"/><circle cx="172.0" cy="630.9" r="2.55"/><circle cx="172.8" cy="629.6" r="2.55"/><circle cx="173.6" cy="628.2" r="2.55"/><circle cx="174.4" cy="625.7" r="2.55"/><circle cx="175.3" cy="625.8" r="2.55"/><circle cx="176.1" cy="623.5" r="2.55"/><circle cx="177.0" cy="621.9" r="2.55"/><circle cx="177.8" cy="620.6" r="2.55"/><circle cx="178.6" cy="619.6" r="2.55"/><circle cx="179.3" cy="617.9" r="2.55"/><circle cx="180.0" cy="616.4" r="2.55"/><circle cx="180.8" cy="615.7" r="2.55"/><circle cx="181.5" cy="613.2" r="2.55"/><circle cx="182.2" cy="611.6" r="2.55"/><circle cx="182.8" cy="611.1" r="2.55"/><circle cx="183.4" cy="609.6" r="2.55"/><circle cx="184.1" cy="608.3" r="2.55"/><circle cx="184.7" cy="605.7" r="2.55"/><circle cx="185.3" cy="605.3" r="2.55"/><circle cx="185.9" cy="603.6" r="2.55"/><circle cx="186.5" cy="602.7" r="2.55"/><circle cx="187.1" cy="599.7" r="2.55"/><circle cx="187.8" cy="599.0" r="2.55"/><circle cx="188.5" cy="597.3" r="2.55"/><circle cx="189.3" cy="595.3" r="2.55"/><circle cx="190.0" cy="594.3" r="2.55"/><circle cx="190.8" cy="593.8" r="2.55"/><circle cx="191.5" cy="591.6" r="2.55"/><circle cx="192.3" cy="590.1" r="2.55"/><circle cx="193.0" cy="589.5" r="2.55"/><circle cx="193.9" cy="588.1" r="2.55"/><circle cx="195.0" cy="587.0" r="2.55"/><circle cx="196.1" cy="585.0" r="2.55"/><circle cx="197.2" cy="584.2" r="2.55"/><circle cx="198.4" cy="584.2" r="2.55"/><circle cx="199.5" cy="584.5" r="2.55"/><circle cx="200.0" cy="586.0" r="2.55"/><circle cx="200.2" cy="588.3" r="2.55"/><circle cx="200.4" cy="590.3" r="2.55"/><circle cx="200.9" cy="590.4" r="2.55"/><circle cx="201.5" cy="591.2" r="2.55"/><circle cx="202.0" cy="593.3" r="2.55"/><circle cx="202.6" cy="595.0" r="2.55"/><circle cx="203.2" cy="596.9" r="2.55"/><circle cx="204.4" cy="597.0" r="2.55"/><circle cx="205.9" cy="595.9" r="2.55"/><circle cx="207.3" cy="594.9" r="2.55"/><circle cx="208.7" cy="594.7" r="2.55"/><circle cx="210.2" cy="593.4" r="2.55"/><circle cx="211.6" cy="593.1" r="2.55"/><circle cx="213.1" cy="592.3" r="2.55"/><circle cx="214.6" cy="593.5" r="2.55"/><circle cx="216.2" cy="592.1" r="2.55"/><circle cx="217.7" cy="590.8" r="2.55"/><circle cx="219.2" cy="590.3" r="2.55"/><circle cx="220.7" cy="590.1" r="2.55"/><circle cx="222.0" cy="588.4" r="2.55"/><circle cx="223.2" cy="587.8" r="2.55"/><circle cx="224.4" cy="586.8" r="2.55"/><circle cx="225.6" cy="586.5" r="2.55"/><circle cx="227.1" cy="585.6" r="2.55"/><circle cx="228.7" cy="585.3" r="2.55"/><circle cx="230.3" cy="584.8" r="2.55"/><circle cx="231.9" cy="584.7" r="2.55"/><circle cx="233.5" cy="585.4" r="2.55"/><circle cx="234.9" cy="585.9" r="2.55"/><circle cx="236.4" cy="587.2" r="2.55"/><circle cx="237.9" cy="586.9" r="2.55"/><circle cx="239.4" cy="588.3" r="2.55"/><circle cx="241.0" cy="587.7" r="2.55"/><circle cx="242.6" cy="587.3" r="2.55"/><circle cx="244.2" cy="586.0" r="2.55"/><circle cx="245.3" cy="587.1" r="2.55"/><circle cx="246.2" cy="589.5" r="2.55"/><circle cx="247.0" cy="591.2" r="2.55"/><circle cx="247.9" cy="591.9" r="2.55"/><circle cx="248.7" cy="593.6" r="2.55"/><circle cx="249.6" cy="594.3" r="2.55"/><circle cx="250.8" cy="595.4" r="2.55"/><circle cx="252.0" cy="596.3" r="2.55"/><circle cx="253.2" cy="598.1" r="2.55"/><circle cx="254.4" cy="598.8" r="2.55"/><circle cx="255.7" cy="599.6" r="2.55"/><circle cx="257.0" cy="600.3" r="2.55"/><circle cx="258.6" cy="600.9" r="2.55"/><circle cx="260.2" cy="600.9" r="2.55"/><circle cx="261.8" cy="600.5" r="2.55"/><circle cx="263.4" cy="601.9" r="2.55"/><circle cx="265.0" cy="601.3" r="2.55"/><circle cx="266.6" cy="601.4" r="2.55"/><circle cx="268.2" cy="602.3" r="2.55"/><circle cx="269.7" cy="602.3" r="2.55"/><circle cx="271.3" cy="602.0" r="2.55"/><circle cx="272.9" cy="602.6" r="2.55"/><circle cx="274.5" cy="602.1" r="2.55"/><circle cx="275.7" cy="603.2" r="2.55"/><circle cx="276.7" cy="603.7" r="2.55"/><circle cx="277.7" cy="606.7" r="2.55"/><circle cx="278.7" cy="606.4" r="2.55"/><circle cx="279.6" cy="608.9" r="2.55"/><circle cx="280.4" cy="609.6" r="2.55"/><circle cx="281.1" cy="610.9" r="2.55"/><circle cx="281.8" cy="612.8" r="2.55"/><circle cx="282.5" cy="614.4" r="2.55"/><circle cx="283.4" cy="615.8" r="2.55"/><circle cx="285.0" cy="616.8" r="2.55"/><circle cx="286.5" cy="616.5" r="2.55"/><circle cx="288.0" cy="617.2" r="2.55"/><circle cx="289.6" cy="616.9" r="2.55"/><circle cx="291.1" cy="618.0" r="2.55"/><circle cx="292.7" cy="617.3" r="2.55"/><circle cx="294.2" cy="616.5" r="2.55"/><circle cx="295.7" cy="616.2" r="2.55"/><circle cx="297.2" cy="615.7" r="2.55"/><circle cx="298.7" cy="615.3" r="2.55"/><circle cx="300.2" cy="614.9" r="2.55"/><circle cx="301.8" cy="613.9" r="2.55"/><circle cx="303.3" cy="613.3" r="2.55"/><circle cx="304.8" cy="613.5" r="2.55"/><circle cx="306.4" cy="612.0" r="2.55"/><circle cx="307.9" cy="612.3" r="2.55"/><circle cx="309.5" cy="613.1" r="2.55"/><circle cx="311.1" cy="610.7" r="2.55"/><circle cx="312.6" cy="611.9" r="2.55"/><circle cx="314.0" cy="613.3" r="2.55"/><circle cx="315.5" cy="612.9" r="2.55"/><circle cx="316.9" cy="615.7" r="2.55"/><circle cx="318.3" cy="613.9" r="2.55"/><circle cx="319.7" cy="616.6" r="2.55"/><circle cx="321.2" cy="617.3" r="2.55"/><circle cx="322.6" cy="617.7" r="2.55"/><circle cx="324.1" cy="617.8" r="2.55"/><circle cx="325.5" cy="618.8" r="2.55"/><circle cx="326.7" cy="619.3" r="2.55"/><circle cx="327.8" cy="621.2" r="2.55"/><circle cx="328.9" cy="621.4" r="2.55"/><circle cx="330.1" cy="623.0" r="2.55"/><circle cx="331.2" cy="624.8" r="2.55"/><circle cx="332.3" cy="624.8" r="2.55"/><circle cx="333.5" cy="626.3" r="2.55"/><circle cx="334.7" cy="627.6" r="2.55"/><circle cx="336.0" cy="627.8" r="2.55"/><circle cx="337.2" cy="630.1" r="2.55"/><circle cx="338.4" cy="630.7" r="2.55"/><circle cx="339.7" cy="630.8" r="2.55"/><circle cx="341.2" cy="632.0" r="2.55"/><circle cx="342.7" cy="632.2" r="2.55"/><circle cx="344.2" cy="632.7" r="2.55"/><circle cx="345.8" cy="633.6" r="2.55"/><circle cx="347.3" cy="633.4" r="2.55"/><circle cx="348.9" cy="634.3" r="2.55"/><circle cx="350.5" cy="633.4" r="2.55"/><circle cx="351.5" cy="635.2" r="2.55"/><circle cx="351.9" cy="636.3" r="2.55"/><circle cx="352.3" cy="638.2" r="2.55"/><circle cx="352.8" cy="639.1" r="2.55"/><circle cx="353.2" cy="640.6" r="2.55"/><circle cx="354.1" cy="641.4" r="2.55"/><circle cx="355.6" cy="642.4" r="2.55"/><circle cx="357.2" cy="642.8" r="2.55"/><circle cx="358.8" cy="643.6" r="2.55"/><circle cx="360.4" cy="643.4" r="2.55"/><circle cx="362.0" cy="643.0" r="2.55"/><circle cx="363.6" cy="643.0" r="2.55"/><circle cx="365.2" cy="643.5" r="2.55"/><circle cx="366.8" cy="643.5" r="2.55"/><circle cx="368.4" cy="644.4" r="2.55"/><circle cx="369.9" cy="644.3" r="2.55"/><circle cx="371.5" cy="643.5" r="2.55"/><circle cx="373.1" cy="643.7" r="2.55"/><circle cx="374.7" cy="644.8" r="2.55"/><circle cx="376.3" cy="644.4" r="2.55"/><circle cx="377.9" cy="644.2" r="2.55"/><circle cx="379.5" cy="645.0" r="2.55"/><circle cx="381.1" cy="644.3" r="2.55"/><circle cx="382.7" cy="644.5" r="2.55"/><circle cx="384.3" cy="644.5" r="2.55"/><circle cx="385.9" cy="643.7" r="2.55"/><circle cx="387.5" cy="645.1" r="2.55"/><circle cx="389.1" cy="644.1" r="2.55"/><circle cx="390.7" cy="644.4" r="2.55"/><circle cx="392.3" cy="644.3" r="2.55"/><circle cx="393.9" cy="645.1" r="2.55"/><circle cx="395.5" cy="644.7" r="2.55"/><circle cx="397.1" cy="644.7" r="2.55"/><circle cx="398.7" cy="643.8" r="2.55"/><circle cx="400.3" cy="644.4" r="2.55"/><circle cx="401.9" cy="643.5" r="2.55"/><circle cx="403.5" cy="644.1" r="2.55"/><circle cx="405.1" cy="643.9" r="2.55"/><circle cx="406.6" cy="643.5" r="2.55"/><circle cx="408.2" cy="644.3" r="2.55"/><circle cx="409.8" cy="643.4" r="2.55"/><circle cx="411.4" cy="643.2" r="2.55"/><circle cx="413.0" cy="642.8" r="2.55"/><circle cx="414.5" cy="643.0" r="2.55"/><circle cx="416.1" cy="643.9" r="2.55"/><circle cx="417.7" cy="644.3" r="2.55"/><circle cx="419.2" cy="643.4" r="2.55"/><circle cx="420.8" cy="644.9" r="2.55"/><circle cx="422.4" cy="644.9" r="2.55"/><circle cx="424.0" cy="645.4" r="2.55"/><circle cx="425.5" cy="645.5" r="2.55"/><circle cx="427.1" cy="645.0" r="2.55"/><circle cx="428.7" cy="645.2" r="2.55"/><circle cx="430.3" cy="646.9" r="2.55"/><circle cx="431.9" cy="646.3" r="2.55"/><circle cx="433.4" cy="645.7" r="2.55"/><circle cx="435.0" cy="646.8" r="2.55"/><circle cx="436.6" cy="646.4" r="2.55"/><circle cx="438.2" cy="645.5" r="2.55"/><circle cx="439.8" cy="645.2" r="2.55"/><circle cx="441.4" cy="645.4" r="2.55"/><circle cx="443.0" cy="646.1" r="2.55"/><circle cx="444.6" cy="645.8" r="2.55"/><circle cx="446.2" cy="645.6" r="2.55"/><circle cx="447.8" cy="645.7" r="2.55"/><circle cx="449.4" cy="645.6" r="2.55"/><circle cx="450.9" cy="644.1" r="2.55"/><circle cx="452.5" cy="644.8" r="2.55"/><circle cx="454.1" cy="644.3" r="2.55"/><circle cx="455.7" cy="643.9" r="2.55"/><circle cx="457.3" cy="644.1" r="2.55"/><circle cx="458.9" cy="644.1" r="2.55"/><circle cx="460.5" cy="643.8" r="2.55"/><circle cx="462.1" cy="643.0" r="2.55"/><circle cx="463.6" cy="643.2" r="2.55"/><circle cx="465.2" cy="644.1" r="2.55"/><circle cx="466.8" cy="642.3" r="2.55"/><circle cx="468.3" cy="641.7" r="2.55"/><circle cx="469.9" cy="642.3" r="2.55"/><circle cx="471.5" cy="642.2" r="2.55"/><circle cx="473.0" cy="641.8" r="2.55"/><circle cx="474.6" cy="640.7" r="2.55"/><circle cx="476.2" cy="641.5" r="2.55"/><circle cx="477.8" cy="640.9" r="2.55"/><circle cx="479.3" cy="641.1" r="2.55"/><circle cx="480.9" cy="641.6" r="2.55"/><circle cx="482.5" cy="642.2" r="2.55"/><circle cx="484.0" cy="642.9" r="2.55"/><circle cx="485.6" cy="643.2" r="2.55"/><circle cx="487.2" cy="643.2" r="2.55"/><circle cx="488.7" cy="644.1" r="2.55"/><circle cx="490.2" cy="644.1" r="2.55"/><circle cx="491.8" cy="645.0" r="2.55"/><circle cx="493.3" cy="644.3" r="2.55"/><circle cx="494.8" cy="644.7" r="2.55"/><circle cx="496.4" cy="646.4" r="2.55"/><circle cx="497.9" cy="645.5" r="2.55"/></g>
<g fill="#418a41" stroke="#2b622b" stroke-width="0.6"><rect x="85.8" y="751.1" width="3.5" height="3.5"/><rect x="86.9" y="750.8" width="3.5" height="3.5"/><rect x="87.8" y="749.8" width="3.5" height="3.5"/><rect x="88.7" y="748.6" width="3.5" height="3.5"/><rect x="89.7" y="748.0" width="3.5" height="3.5"/><rect x="90.6" y="747.3" width="3.5" height="3.5"/><rect x="91.6" y="745.4" width="3.5" height="3.5"/><rect x="92.5" y="744.4" width="3.5" height="3.5"/><rect x="93.5" y="742.6" width="3.5" height="3.5"/><rect x="94.4" y="742.4" width="3.5" height="3.5"/><rect x="95.3" y="741.2" width="3.5" height="3.5"/><rect x="96.2" y="739.4" width="3.5" height="3.5"/><rect x="97.1" y="739.4" width="3.5" height="3.5"/><rect x="98.0" y="738.4" width="3.5" height="3.5"/><rect x="98.9" y="736.8" width="3.5" height="3.5"/><rect x="99.8" y="735.9" width="3.5" height="3.5"/><rect x="100.7" y="734.6" width="3.5" height="3.5"/><rect x="101.6" y="734.2" width="3.5" height="3.5"/><rect x="102.5" y="732.2" width="3.5" height="3.5"/><rect x="103.4" y="731.6" width="3.5" height="3.5"/><rect x="104.2" y="731.4" width="3.5" height="3.5"/><rect x="105.1" y="729.6" width="3.5" height="3.5"/><rect x="106.0" y="728.7" width="3.5" height="3.5"/><rect x="106.9" y="727.3" width="3.5" height="3.5"/><rect x="107.8" y="725.9" width="3.5" height="3.5"/><rect x="108.7" y="725.2" width="3.5" height="3.5"/><rect x="109.6" y="724.3" width="3.5" height="3.5"/><rect x="110.5" y="722.7" width="3.5" height="3.5"/><rect x="111.4" y="722.1" width="3.5" height="3.5"/><rect x="112.4" y="721.5" width="3.5" height="3.5"/><rect x="113.4" y="720.5" width="3.5" height="3.5"/><rect x="114.4" y="718.4" width="3.5" height="3.5"/><rect x="115.3" y="717.7" width="3.5" height="3.5"/><rect x="116.3" y="716.4" width="3.5" height="3.5"/><rect x="117.2" y="716.4" width="3.5" height="3.5"/><rect x="118.1" y="715.2" width="3.5" height="3.5"/><rect x="119.0" y="714.1" width="3.5" height="3.5"/><rect x="119.9" y="712.4" width="3.5" height="3.5"/><rect x="120.8" y="711.2" width="3.5" height="3.5"/><rect x="121.7" y="710.6" width="3.5" height="3.5"/><rect x="122.5" y="709.5" width="3.5" height="3.5"/><rect x="123.4" y="708.1" width="3.5" height="3.5"/><rect x="124.2" y="707.3" width="3.5" height="3.5"/><rect x="124.9" y="706.3" width="3.5" height="3.5"/><rect x="125.6" y="704.9" width="3.5" height="3.5"/><rect x="126.3" y="703.2" width="3.5" height="3.5"/><rect x="127.0" y="701.5" width="3.5" height="3.5"/><rect x="127.7" y="701.1" width="3.5" height="3.5"/><rect x="128.4" y="700.0" width="3.5" height="3.5"/><rect x="128.9" y="698.6" width="3.5" height="3.5"/><rect x="129.4" y="697.2" width="3.5" height="3.5"/><rect x="129.9" y="695.7" width="3.5" height="3.5"/><rect x="130.3" y="695.0" width="3.5" height="3.5"/><rect x="130.8" y="693.3" width="3.5" height="3.5"/><rect x="131.2" y="692.1" width="3.5" height="3.5"/><rect x="131.7" y="690.3" width="3.5" height="3.5"/><rect x="132.1" y="689.1" width="3.5" height="3.5"/><rect x="132.7" y="688.2" width="3.5" height="3.5"/><rect x="133.4" y="686.5" width="3.5" height="3.5"/><rect x="134.0" y="685.1" width="3.5" height="3.5"/><rect x="134.7" y="684.3" width="3.5" height="3.5"/><rect x="135.3" y="683.6" width="3.5" height="3.5"/><rect x="135.9" y="682.0" width="3.5" height="3.5"/><rect x="136.6" y="681.3" width="3.5" height="3.5"/><rect x="137.2" y="679.4" width="3.5" height="3.5"/><rect x="137.9" y="678.1" width="3.5" height="3.5"/><rect x="138.6" y="676.5" width="3.5" height="3.5"/><rect x="139.5" y="675.7" width="3.5" height="3.5"/><rect x="140.4" y="675.4" width="3.5" height="3.5"/><rect x="141.3" y="673.9" width="3.5" height="3.5"/><rect x="142.2" y="673.0" width="3.5" height="3.5"/><rect x="143.1" y="671.9" width="3.5" height="3.5"/><rect x="143.8" y="670.4" width="3.5" height="3.5"/><rect x="144.6" y="669.2" width="3.5" height="3.5"/><rect x="145.3" y="668.1" width="3.5" height="3.5"/><rect x="146.0" y="667.1" width="3.5" height="3.5"/><rect x="146.7" y="665.8" width="3.5" height="3.5"/><rect x="147.4" y="664.6" width="3.5" height="3.5"/><rect x="148.2" y="663.3" width="3.5" height="3.5"/><rect x="148.9" y="661.8" width="3.5" height="3.5"/><rect x="149.7" y="660.8" width="3.5" height="3.5"/><rect x="150.4" y="659.3" width="3.5" height="3.5"/><rect x="151.2" y="658.9" width="3.5" height="3.5"/><rect x="151.9" y="656.5" width="3.5" height="3.5"/><rect x="152.7" y="656.1" width="3.5" height="3.5"/><rect x="153.6" y="656.1" width="3.5" height="3.5"/><rect x="154.5" y="653.9" width="3.5" height="3.5"/><rect x="155.4" y="652.5" width="3.5" height="3.5"/><rect x="156.4" y="651.9" width="3.5" height="3.5"/><rect x="157.3" y="651.4" width="3.5" height="3.5"/><rect x="158.3" y="649.8" width="3.5" height="3.5"/><rect x="159.3" y="649.2" width="3.5" height="3.5"/><rect x="160.3" y="648.0" width="3.5" height="3.5"/><rect x="161.4" y="646.9" width="3.5" height="3.5"/><rect x="162.4" y="647.4" width="3.5" height="3.5"/><rect x="163.7" y="645.6" width="3.5" height="3.5"/><rect x="164.9" y="644.7" width="3.5" height="3.5"/><rect x="166.2" y="644.1" width="3.5" height="3.5"/><rect x="167.5" y="643.8" width="3.5" height="3.5"/><rect x="168.8" y="643.3" width="3.5" height="3.5"/><rect x="170.1" y="643.0" width="3.5" height="3.5"/><rect x="171.4" y="642.2" width="3.5" height="3.5"/><rect x="172.6" y="640.9" width="3.5" height="3.5"/><rect x="173.6" y="640.8" width="3.5" height="3.5"/><rect x="174.7" y="639.6" width="3.5" height="3.5"/><rect x="175.8" y="638.7" width="3.5" height="3.5"/><rect x="176.9" y="637.4" width="3.5" height="3.5"/><rect x="178.1" y="637.0" width="3.5" height="3.5"/><rect x="179.3" y="636.2" width="3.5" height="3.5"/><rect x="180.5" y="635.8" width="3.5" height="3.5"/><rect x="181.7" y="634.5" width="3.5" height="3.5"/><rect x="182.9" y="634.3" width="3.5" height="3.5"/><rect x="184.0" y="633.5" width="3.5" height="3.5"/><rect x="185.2" y="632.2" width="3.5" height="3.5"/><rect x="186.3" y="631.6" width="3.5" height="3.5"/><rect x="187.5" y="630.8" width="3.5" height="3.5"/><rect x="188.7" y="630.7" width="3.5" height="3.5"/><rect x="189.8" y="628.5" width="3.5" height="3.5"/><rect x="191.0" y="628.6" width="3.5" height="3.5"/><rect x="192.2" y="627.3" width="3.5" height="3.5"/><rect x="193.3" y="627.0" width="3.5" height="3.5"/><rect x="194.3" y="626.6" width="3.5" height="3.5"/><rect x="195.4" y="625.0" width="3.5" height="3.5"/><rect x="196.4" y="624.4" width="3.5" height="3.5"/><rect x="197.4" y="623.1" width="3.5" height="3.5"/><rect x="198.5" y="623.3" width="3.5" height="3.5"/><rect x="199.5" y="621.9" width="3.5" height="3.5"/><rect x="200.6" y="621.1" width="3.5" height="3.5"/><rect x="201.6" y="619.2" width="3.5" height="3.5"/><rect x="202.9" y="618.7" width="3.5" height="3.5"/><rect x="204.2" y="619.1" width="3.5" height="3.5"/><rect x="205.5" y="618.1" width="3.5" height="3.5"/><rect x="206.8" y="617.5" width="3.5" height="3.5"/><rect x="208.1" y="617.2" width="3.5" height="3.5"/><rect x="209.4" y="616.0" width="3.5" height="3.5"/><rect x="210.7" y="616.3" width="3.5" height="3.5"/><rect x="211.9" y="615.4" width="3.5" height="3.5"/><rect x="213.2" y="614.9" width="3.5" height="3.5"/><rect x="214.5" y="613.9" width="3.5" height="3.5"/><rect x="215.7" y="613.7" width="3.5" height="3.5"/><rect x="217.0" y="612.6" width="3.5" height="3.5"/><rect x="217.8" y="612.1" width="3.5" height="3.5"/><rect x="218.6" y="611.0" width="3.5" height="3.5"/><rect x="219.3" y="609.8" width="3.5" height="3.5"/><rect x="220.1" y="608.5" width="3.5" height="3.5"/><rect x="220.9" y="607.4" width="3.5" height="3.5"/><rect x="221.8" y="604.9" width="3.5" height="3.5"/><rect x="222.6" y="605.2" width="3.5" height="3.5"/><rect x="223.5" y="603.7" width="3.5" height="3.5"/><rect x="224.3" y="602.7" width="3.5" height="3.5"/><rect x="225.2" y="601.4" width="3.5" height="3.5"/><rect x="226.0" y="599.9" width="3.5" height="3.5"/><rect x="227.0" y="599.3" width="3.5" height="3.5"/><rect x="228.0" y="598.7" width="3.5" height="3.5"/><rect x="229.0" y="598.1" width="3.5" height="3.5"/><rect x="230.0" y="596.3" width="3.5" height="3.5"/><rect x="231.0" y="595.2" width="3.5" height="3.5"/><rect x="232.4" y="595.8" width="3.5" height="3.5"/><rect x="233.7" y="594.5" width="3.5" height="3.5"/><rect x="234.8" y="596.1" width="3.5" height="3.5"/><rect x="235.7" y="596.3" width="3.5" height="3.5"/><rect x="236.6" y="597.0" width="3.5" height="3.5"/><rect x="237.5" y="598.9" width="3.5" height="3.5"/><rect x="238.3" y="600.3" width="3.5" height="3.5"/><rect x="239.0" y="600.3" width="3.5" height="3.5"/><rect x="239.7" y="602.7" width="3.5" height="3.5"/><rect x="240.4" y="603.1" width="3.5" height="3.5"/><rect x="241.1" y="605.0" width="3.5" height="3.5"/><rect x="241.8" y="605.5" width="3.5" height="3.5"/><rect x="242.6" y="606.2" width="3.5" height="3.5"/><rect x="243.4" y="608.1" width="3.5" height="3.5"/><rect x="244.6" y="609.1" width="3.5" height="3.5"/><rect x="245.8" y="610.3" width="3.5" height="3.5"/><rect x="246.9" y="610.9" width="3.5" height="3.5"/><rect x="248.1" y="611.3" width="3.5" height="3.5"/><rect x="249.4" y="611.5" width="3.5" height="3.5"/><rect x="250.7" y="611.9" width="3.5" height="3.5"/><rect x="252.0" y="612.5" width="3.5" height="3.5"/><rect x="253.3" y="612.8" width="3.5" height="3.5"/><rect x="254.6" y="613.5" width="3.5" height="3.5"/><rect x="256.0" y="612.9" width="3.5" height="3.5"/><rect x="257.3" y="614.2" width="3.5" height="3.5"/><rect x="258.7" y="614.4" width="3.5" height="3.5"/><rect x="260.1" y="615.7" width="3.5" height="3.5"/><rect x="261.5" y="615.3" width="3.5" height="3.5"/><rect x="262.8" y="615.1" width="3.5" height="3.5"/><rect x="264.2" y="615.8" width="3.5" height="3.5"/><rect x="265.6" y="615.3" width="3.5" height="3.5"/><rect x="267.0" y="615.7" width="3.5" height="3.5"/><rect x="268.4" y="615.2" width="3.5" height="3.5"/><rect x="269.8" y="616.5" width="3.5" height="3.5"/><rect x="271.2" y="616.2" width="3.5" height="3.5"/><rect x="272.6" y="615.5" width="3.5" height="3.5"/><rect x="274.0" y="615.9" width="3.5" height="3.5"/><rect x="275.4" y="616.3" width="3.5" height="3.5"/><rect x="276.8" y="616.1" width="3.5" height="3.5"/><rect x="278.1" y="616.2" width="3.5" height="3.5"/><rect x="279.5" y="616.1" width="3.5" height="3.5"/><rect x="280.8" y="616.7" width="3.5" height="3.5"/><rect x="282.1" y="617.4" width="3.5" height="3.5"/><rect x="283.5" y="618.2" width="3.5" height="3.5"/><rect x="284.8" y="617.9" width="3.5" height="3.5"/><rect x="285.9" y="618.7" width="3.5" height="3.5"/><rect x="287.0" y="620.4" width="3.5" height="3.5"/><rect x="288.2" y="620.4" width="3.5" height="3.5"/><rect x="289.3" y="622.0" width="3.5" height="3.5"/><rect x="290.6" y="622.2" width="3.5" height="3.5"/><rect x="291.9" y="622.8" width="3.5" height="3.5"/><rect x="293.3" y="623.6" width="3.5" height="3.5"/><rect x="294.6" y="623.6" width="3.5" height="3.5"/><rect x="296.0" y="624.0" width="3.5" height="3.5"/><rect x="297.3" y="623.7" width="3.5" height="3.5"/><rect x="298.6" y="624.2" width="3.5" height="3.5"/><rect x="300.0" y="625.1" width="3.5" height="3.5"/><rect x="301.3" y="625.8" width="3.5" height="3.5"/><rect x="302.7" y="626.1" width="3.5" height="3.5"/><rect x="304.1" y="626.7" width="3.5" height="3.5"/><rect x="305.5" y="626.2" width="3.5" height="3.5"/><rect x="306.8" y="626.4" width="3.5" height="3.5"/><rect x="308.2" y="627.0" width="3.5" height="3.5"/><rect x="309.6" y="626.9" width="3.5" height="3.5"/><rect x="310.9" y="627.1" width="3.5" height="3.5"/><rect x="312.3" y="627.0" width="3.5" height="3.5"/><rect x="313.7" y="628.2" width="3.5" height="3.5"/><rect x="315.0" y="627.8" width="3.5" height="3.5"/><rect x="316.3" y="628.8" width="3.5" height="3.5"/><rect x="317.7" y="628.5" width="3.5" height="3.5"/><rect x="319.0" y="629.9" width="3.5" height="3.5"/><rect x="320.4" y="629.4" width="3.5" height="3.5"/><rect x="321.7" y="630.6" width="3.5" height="3.5"/><rect x="323.0" y="630.0" width="3.5" height="3.5"/><rect x="324.4" y="630.8" width="3.5" height="3.5"/><rect x="325.8" y="631.8" width="3.5" height="3.5"/><rect x="327.1" y="631.2" width="3.5" height="3.5"/><rect x="328.5" y="631.9" width="3.5" height="3.5"/><rect x="329.9" y="631.9" width="3.5" height="3.5"/><rect x="331.3" y="631.5" width="3.5" height="3.5"/><rect x="332.6" y="632.8" width="3.5" height="3.5"/><rect x="334.0" y="633.1" width="3.5" height="3.5"/><rect x="335.4" y="632.8" width="3.5" height="3.5"/><rect x="336.7" y="633.8" width="3.5" height="3.5"/><rect x="338.1" y="633.7" width="3.5" height="3.5"/><rect x="339.4" y="634.0" width="3.5" height="3.5"/><rect x="340.7" y="634.8" width="3.5" height="3.5"/><rect x="342.1" y="635.0" width="3.5" height="3.5"/><rect x="343.4" y="636.6" width="3.5" height="3.5"/><rect x="344.8" y="635.4" width="3.5" height="3.5"/><rect x="346.1" y="636.8" width="3.5" height="3.5"/><rect x="347.4" y="637.3" width="3.5" height="3.5"/><rect x="348.8" y="636.5" width="3.5" height="3.5"/><rect x="350.1" y="637.0" width="3.5" height="3.5"/><rect x="351.5" y="638.3" width="3.5" height="3.5"/><rect x="352.8" y="638.2" width="3.5" height="3.5"/><rect x="354.2" y="639.0" width="3.5" height="3.5"/><rect x="355.5" y="639.7" width="3.5" height="3.5"/><rect x="356.8" y="639.5" width="3.5" height="3.5"/><rect x="358.2" y="639.6" width="3.5" height="3.5"/><rect x="359.6" y="639.2" width="3.5" height="3.5"/><rect x="360.9" y="640.6" width="3.5" height="3.5"/><rect x="362.3" y="640.3" width="3.5" height="3.5"/><rect x="363.7" y="641.1" width="3.5" height="3.5"/><rect x="365.1" y="641.2" width="3.5" height="3.5"/><rect x="366.5" y="640.8" width="3.5" height="3.5"/><rect x="367.8" y="642.4" width="3.5" height="3.5"/><rect x="368.9" y="643.0" width="3.5" height="3.5"/><rect x="370.0" y="643.8" width="3.5" height="3.5"/><rect x="371.0" y="643.9" width="3.5" height="3.5"/><rect x="372.1" y="645.1" width="3.5" height="3.5"/><rect x="373.2" y="646.0" width="3.5" height="3.5"/><rect x="374.3" y="646.9" width="3.5" height="3.5"/><rect x="375.3" y="647.5" width="3.5" height="3.5"/><rect x="376.4" y="649.0" width="3.5" height="3.5"/><rect x="377.8" y="649.4" width="3.5" height="3.5"/><rect x="379.1" y="649.9" width="3.5" height="3.5"/><rect x="380.4" y="650.0" width="3.5" height="3.5"/><rect x="381.7" y="651.2" width="3.5" height="3.5"/><rect x="383.1" y="651.1" width="3.5" height="3.5"/><rect x="384.4" y="650.3" width="3.5" height="3.5"/><rect x="385.8" y="651.4" width="3.5" height="3.5"/><rect x="387.2" y="652.0" width="3.5" height="3.5"/><rect x="388.5" y="652.8" width="3.5" height="3.5"/><rect x="389.9" y="652.6" width="3.5" height="3.5"/><rect x="391.2" y="653.0" width="3.5" height="3.5"/><rect x="392.6" y="653.2" width="3.5" height="3.5"/><rect x="393.9" y="654.0" width="3.5" height="3.5"/><rect x="395.3" y="653.9" width="3.5" height="3.5"/><rect x="396.6" y="654.2" width="3.5" height="3.5"/><rect x="398.0" y="654.4" width="3.5" height="3.5"/><rect x="399.4" y="655.2" width="3.5" height="3.5"/><rect x="400.8" y="655.1" width="3.5" height="3.5"/><rect x="402.1" y="654.9" width="3.5" height="3.5"/><rect x="403.5" y="656.1" width="3.5" height="3.5"/><rect x="404.9" y="655.8" width="3.5" height="3.5"/><rect x="406.3" y="656.5" width="3.5" height="3.5"/><rect x="407.6" y="656.8" width="3.5" height="3.5"/><rect x="409.0" y="657.4" width="3.5" height="3.5"/><rect x="410.4" y="657.7" width="3.5" height="3.5"/><rect x="411.8" y="657.2" width="3.5" height="3.5"/><rect x="413.1" y="657.6" width="3.5" height="3.5"/><rect x="414.5" y="657.4" width="3.5" height="3.5"/><rect x="415.9" y="658.8" width="3.5" height="3.5"/><rect x="417.3" y="658.5" width="3.5" height="3.5"/><rect x="418.7" y="659.1" width="3.5" height="3.5"/><rect x="420.0" y="658.7" width="3.5" height="3.5"/><rect x="421.4" y="658.2" width="3.5" height="3.5"/><rect x="422.8" y="659.9" width="3.5" height="3.5"/><rect x="424.2" y="659.5" width="3.5" height="3.5"/><rect x="425.6" y="659.7" width="3.5" height="3.5"/><rect x="427.0" y="659.8" width="3.5" height="3.5"/><rect x="428.4" y="660.2" width="3.5" height="3.5"/><rect x="429.8" y="660.3" width="3.5" height="3.5"/><rect x="431.1" y="659.6" width="3.5" height="3.5"/><rect x="432.5" y="660.8" width="3.5" height="3.5"/><rect x="433.9" y="660.3" width="3.5" height="3.5"/><rect x="435.3" y="660.5" width="3.5" height="3.5"/><rect x="436.7" y="661.5" width="3.5" height="3.5"/><rect x="438.1" y="661.3" width="3.5" height="3.5"/><rect x="439.5" y="661.0" width="3.5" height="3.5"/><rect x="440.9" y="660.5" width="3.5" height="3.5"/><rect x="442.3" y="661.4" width="3.5" height="3.5"/><rect x="443.7" y="661.7" width="3.5" height="3.5"/><rect x="445.1" y="661.5" width="3.5" height="3.5"/><rect x="446.5" y="661.2" width="3.5" height="3.5"/><rect x="447.9" y="661.5" width="3.5" height="3.5"/><rect x="449.3" y="661.4" width="3.5" height="3.5"/><rect x="450.7" y="662.1" width="3.5" height="3.5"/><rect x="452.1" y="662.4" width="3.5" height="3.5"/><rect x="453.5" y="662.6" width="3.5" height="3.5"/><rect x="454.9" y="662.0" width="3.5" height="3.5"/><rect x="456.2" y="662.6" width="3.5" height="3.5"/><rect x="457.6" y="662.9" width="3.5" height="3.5"/><rect x="459.0" y="662.6" width="3.5" height="3.5"/><rect x="460.4" y="663.0" width="3.5" height="3.5"/><rect x="461.8" y="664.0" width="3.5" height="3.5"/><rect x="463.2" y="663.4" width="3.5" height="3.5"/><rect x="464.6" y="663.9" width="3.5" height="3.5"/><rect x="466.0" y="663.5" width="3.5" height="3.5"/><rect x="467.4" y="663.9" width="3.5" height="3.5"/><rect x="468.7" y="663.4" width="3.5" height="3.5"/><rect x="470.1" y="664.3" width="3.5" height="3.5"/><rect x="471.5" y="665.0" width="3.5" height="3.5"/><rect x="472.9" y="665.7" width="3.5" height="3.5"/><rect x="474.3" y="665.5" width="3.5" height="3.5"/><rect x="475.6" y="665.6" width="3.5" height="3.5"/><rect x="477.0" y="665.6" width="3.5" height="3.5"/><rect x="478.4" y="665.6" width="3.5" height="3.5"/><rect x="479.8" y="666.0" width="3.5" height="3.5"/><rect x="481.1" y="666.6" width="3.5" height="3.5"/><rect x="482.5" y="666.2" width="3.5" height="3.5"/><rect x="483.9" y="667.3" width="3.5" height="3.5"/><rect x="485.2" y="666.9" width="3.5" height="3.5"/><rect x="486.6" y="667.0" width="3.5" height="3.5"/><rect x="487.9" y="667.7" width="3.5" height="3.5"/><rect x="489.2" y="667.9" width="3.5" height="3.5"/><rect x="490.6" y="668.4" width="3.5" height="3.5"/><rect x="491.9" y="669.8" width="3.5" height="3.5"/><rect x="493.3" y="669.7" width="3.5" height="3.5"/><rect x="494.6" y="670.2" width="3.5" height="3.5"/><rect x="496.0" y="670.8" width="3.5" height="3.5"/><rect x="497.4" y="670.9" width="3.5" height="3.5"/></g>
<polygon points="87.5,741.6 89.2,739.8 90.9,738.6 92.7,736.6 94.4,735.7 96.1,734.0 97.8,732.4 99.5,730.7 101.3,729.8 103.0,728.5 104.7,726.6 106.4,726.1 108.1,725.3 109.9,724.2 111.6,723.7 113.3,722.7 115.0,721.6 116.7,721.5 118.5,720.8 120.2,721.0 121.9,720.1 123.6,721.1 125.3,721.3 127.1,721.8 128.8,721.8 130.5,721.7 132.2,723.4 133.9,723.3 135.7,724.5 137.4,724.8 139.1,725.5 140.8,726.7 142.5,726.9 144.3,728.1 146.0,727.9 147.7,729.5 149.4,729.9 151.1,730.7 152.9,731.5 154.6,732.4 156.3,733.6 158.0,733.0 159.7,734.4 161.5,734.8 163.2,736.1 164.9,736.2 166.6,736.9 168.3,737.0 170.1,737.7 171.8,738.2 173.5,738.0 175.2,738.5 176.9,738.3 178.7,739.3 180.4,739.9 182.1,739.7 183.8,740.7 185.5,740.0 187.3,740.6 189.0,741.2 190.7,741.9 192.4,742.5 194.1,743.0 195.9,743.4 197.6,744.1 199.3,744.1 201.0,744.1 202.7,744.3 204.5,745.8 206.2,744.4 207.9,745.4 209.6,746.2 211.3,746.1 213.1,745.8 214.8,746.4 216.5,746.9 218.2,747.2 219.9,746.6 221.7,747.3 223.4,747.3 225.1,747.7 226.8,748.0 228.5,747.5 230.3,747.2 232.0,748.0 233.7,748.7 235.4,748.4 237.1,748.4 238.9,749.3 240.6,748.2 242.3,749.0 244.0,748.6 245.7,748.9 247.5,749.1 249.2,749.7 250.9,748.9 252.6,749.2 254.3,748.9 256.1,749.8 257.8,749.6 259.5,750.0 261.2,749.6 262.9,749.9 264.7,750.6 266.4,750.2 268.1,750.6 269.8,750.7 271.5,750.5 273.3,750.1 275.0,751.1 276.7,750.9 278.4,751.3 280.1,750.3 281.9,750.5 283.6,750.4 285.3,750.9 287.0,751.7 288.7,751.6 290.5,751.5 292.2,751.6 293.9,751.9 295.6,751.6 297.3,752.0 299.1,752.0 300.8,751.2 302.5,751.9 304.2,752.6 305.9,751.9 307.7,751.9 309.4,751.7 311.1,751.7 312.8,752.2 314.5,751.7 316.3,751.3 318.0,750.5 319.7,751.4 321.4,750.9 323.1,751.1 324.9,752.1 326.6,752.2 328.3,751.4 330.0,752.5 331.7,752.5 333.5,752.2 335.2,752.9 336.9,752.1 338.6,752.4 340.3,752.5 342.1,752.8 343.8,753.7 345.5,753.0 347.2,753.3 348.9,753.4 350.7,753.8 352.4,753.7 354.1,754.1 355.8,753.6 357.5,753.4 359.3,753.7 361.0,753.9 362.7,753.6 364.4,754.1 366.1,754.7 367.9,753.9 369.6,754.2 371.3,754.8 373.0,754.1 374.7,754.1 376.5,754.1 378.2,754.7 379.9,754.8 381.6,754.6 383.3,754.8 385.1,755.3 386.8,755.2 388.5,754.5 390.2,755.0 391.9,755.1 393.7,755.4 395.4,755.2 397.1,755.1 398.8,755.2 400.5,754.8 402.3,755.4 404.0,755.3 405.7,755.7 407.4,755.2 409.1,755.4 410.9,755.2 412.6,755.2 414.3,755.9 416.0,755.5 417.7,755.8 419.5,755.3 421.2,755.7 422.9,755.1 424.6,755.5 426.3,755.5 428.1,755.9 429.8,755.8 431.5,755.6 433.2,756.0 434.9,755.8 436.7,756.0 438.4,756.1 440.1,755.9 441.8,755.9 443.5,756.2 445.3,756.0 447.0,756.4 448.7,756.7 450.4,756.7 452.1,756.2 453.9,755.9 455.6,756.4 457.3,756.3 459.0,756.8 460.7,756.2 462.5,756.3 464.2,756.6 465.9,756.2 467.6,756.3 469.3,756.9 471.1,756.6 472.8,756.1 474.5,755.7 476.2,755.1 477.9,755.4 479.7,755.0 481.4,754.9 483.1,754.6 484.8,754.9 486.5,755.0 488.3,755.4 490.0,755.9 491.7,755.7 493.4,754.9 495.1,754.9 496.9,754.3 498.6,754.4 498.6,757.2 496.9,757.3 495.1,758.5 493.4,758.5 491.7,758.6 490.0,759.0 488.3,758.3 486.5,758.0 484.8,757.9 483.1,757.2 481.4,757.6 479.7,758.0 477.9,758.2 476.2,758.9 474.5,758.8 472.8,758.2 471.1,759.2 469.3,759.0 467.6,759.0 465.9,758.8 464.2,759.0 462.5,759.3 460.7,758.6 459.0,759.6 457.3,759.5 455.6,759.0 453.9,759.4 452.1,758.9 450.4,759.3 448.7,758.8 447.0,758.9 445.3,759.4 443.5,759.6 441.8,759.2 440.1,758.1 438.4,758.9 436.7,758.7 434.9,758.8 433.2,758.5 431.5,758.4 429.8,758.5 428.1,758.8 426.3,758.5 424.6,758.7 422.9,758.7 421.2,758.8 419.5,759.0 417.7,758.5 416.0,758.1 414.3,758.5 412.6,758.4 410.9,758.2 409.1,759.1 407.4,758.2 405.7,758.2 404.0,758.4 402.3,758.4 400.5,757.9 398.8,758.0 397.1,758.2 395.4,758.1 393.7,758.0 391.9,758.1 390.2,757.8 388.5,757.8 386.8,757.8 385.1,757.7 383.3,757.4 381.6,757.2 379.9,757.1 378.2,757.3 376.5,757.4 374.7,757.6 373.0,757.4 371.3,757.2 369.6,757.1 367.9,756.8 366.1,756.4 364.4,756.3 362.7,756.8 361.0,756.7 359.3,756.6 357.5,756.4 355.8,756.7 354.1,756.2 352.4,756.6 350.7,756.5 348.9,756.7 347.2,756.4 345.5,756.4 343.8,756.2 342.1,755.6 340.3,755.9 338.6,755.4 336.9,755.5 335.2,755.9 333.5,755.1 331.7,755.6 330.0,755.4 328.3,755.1 326.6,754.8 324.9,754.9 323.1,754.4 321.4,755.0 319.7,754.7 318.0,755.1 316.3,755.1 314.5,755.0 312.8,754.5 311.1,754.7 309.4,755.0 307.7,755.5 305.9,755.1 304.2,754.9 302.5,756.0 300.8,755.1 299.1,754.9 297.3,755.2 295.6,755.2 293.9,755.0 292.2,755.0 290.5,755.0 288.7,754.5 287.0,754.8 285.3,754.3 283.6,754.1 281.9,754.4 280.1,754.7 278.4,754.8 276.7,754.1 275.0,754.1 273.3,754.1 271.5,754.4 269.8,754.0 268.1,753.7 266.4,753.4 264.7,753.9 262.9,753.2 261.2,752.9 259.5,753.1 257.8,753.5 256.1,753.4 254.3,752.3 252.6,752.9 250.9,753.1 249.2,753.2 247.5,752.7 245.7,752.6 244.0,752.3 242.3,752.4 240.6,752.3 238.9,752.4 237.1,752.0 235.4,751.6 233.7,752.0 232.0,751.6 230.3,751.4 228.5,752.0 226.8,751.3 225.1,750.5 223.4,751.3 221.7,750.7 219.9,750.8 218.2,750.6 216.5,751.1 214.8,749.7 213.1,749.8 211.3,749.4 209.6,749.9 207.9,749.0 206.2,749.5 204.5,749.0 202.7,748.5 201.0,748.5 199.3,748.2 197.6,748.4 195.9,748.1 194.1,747.1 192.4,747.2 190.7,746.4 189.0,746.5 187.3,745.8 185.5,745.2 183.8,745.3 182.1,744.3 180.4,744.3 178.7,744.7 176.9,743.9 175.2,743.6 173.5,743.7 171.8,743.2 170.1,743.4 168.3,742.4 166.6,742.4 164.9,741.9 163.2,741.7 161.5,741.0 159.7,741.3 158.0,739.6 156.3,739.5 154.6,738.2 152.9,738.1 151.1,737.5 149.4,736.9 147.7,735.9 146.0,735.0 144.3,735.1 142.5,733.6 140.8,733.8 139.1,732.5 137.4,731.8 135.7,731.3 133.9,730.8 132.2,730.8 130.5,730.0 128.8,730.2 127.1,729.5 125.3,728.8 123.6,728.8 121.9,729.1 120.2,728.7 118.5,729.0 116.7,729.5 115.0,729.5 113.3,729.7 111.6,731.0 109.9,731.8 108.1,732.8 106.4,733.5 104.7,734.1 103.0,735.1 101.3,736.6 99.5,737.6 97.8,738.6 96.1,739.6 94.4,741.6 92.7,743.0 90.9,744.7 89.2,746.6 87.5,747.6" fill="#f0cdc8" fill-opacity="0.75"/>
<path d="M87.5 741.6V747.6M92.7 736.6V743.0M97.8 732.4V738.6M103.0 728.5V735.1M108.1 725.3V732.8M113.3 722.7V729.7M118.5 720.8V729.0M123.6 721.1V728.8M128.8 721.8V730.2M133.9 723.3V730.8M139.1 725.5V732.5M144.3 728.1V735.1M149.4 729.9V736.9M154.6 732.4V738.2M159.7 734.4V741.3M164.9 736.2V741.9M170.1 737.7V743.4M175.2 738.5V743.6M180.4 739.9V744.3M185.5 740.0V745.2M190.7 741.9V746.4M195.9 743.4V748.1M201.0 744.1V748.5M206.2 744.4V749.5M211.3 746.1V749.4M216.5 746.9V751.1M221.7 747.3V750.7M226.8 748.0V751.3M232.0 748.0V751.6M237.1 748.4V752.0M242.3 749.0V752.4M247.5 749.1V752.7M252.6 749.2V752.9M257.8 749.6V753.5M262.9 749.9V753.2M268.1 750.6V753.7M273.3 750.1V754.1M278.4 751.3V754.8M283.6 750.4V754.1M288.7 751.6V754.5M293.9 751.9V755.0M299.1 752.0V754.9M304.2 752.6V754.9M309.4 751.7V755.0M314.5 751.7V755.0M319.7 751.4V754.7M324.9 752.1V754.9M330.0 752.5V755.4M335.2 752.9V755.9M340.3 752.5V755.9M345.5 753.0V756.4M350.7 753.8V756.5M355.8 753.6V756.7M361.0 753.9V756.7M366.1 754.7V756.4M371.3 754.8V757.2M376.5 754.1V757.4M381.6 754.6V757.2M386.8 755.2V757.8M391.9 755.1V758.1M397.1 755.1V758.2M402.3 755.4V758.4M407.4 755.2V758.2M412.6 755.2V758.4M417.7 755.8V758.5M422.9 755.1V758.7M428.1 755.9V758.8M433.2 756.0V758.5M438.4 756.1V758.9M443.5 756.2V759.6M448.7 756.7V758.8M453.9 755.9V759.4M459.0 756.8V759.6M464.2 756.6V759.0M469.3 756.9V759.0M474.5 755.7V758.8M479.7 755.0V758.0M484.8 754.9V757.9M490.0 755.9V759.0M495.1 754.9V758.5" stroke="#d0a09a" stroke-opacity="0.45" stroke-width="0.7" fill="none"/>
<path d="M84.5 741.6h6M86.2 739.8h6M87.9 738.6h6M89.7 736.6h6M91.4 735.7h6M93.1 734.0h6M94.8 732.4h6M96.5 730.7h6M98.3 729.8h6M100.0 728.5h6M101.7 726.6h6M103.4 726.1h6M105.1 725.3h6M106.9 724.2h6M108.6 723.7h6M110.3 722.7h6M112.0 721.6h6M113.7 721.5h6M115.5 720.8h6M117.2 721.0h6M118.9 720.1h6M120.6 721.1h6M122.3 721.3h6M124.1 721.8h6M125.8 721.8h6M127.5 721.7h6M129.2 723.4h6M130.9 723.3h6M132.7 724.5h6M134.4 724.8h6M136.1 725.5h6M137.8 726.7h6M139.5 726.9h6M141.3 728.1h6M143.0 727.9h6M144.7 729.5h6M146.4 729.9h6M148.1 730.7h6M149.9 731.5h6M151.6 732.4h6M153.3 733.6h6M155.0 733.0h6M156.7 734.4h6M158.5 734.8h6M160.2 736.1h6M161.9 736.2h6M163.6 736.9h6M165.3 737.0h6M167.1 737.7h6M168.8 738.2h6M170.5 738.0h6M172.2 738.5h6M173.9 738.3h6M175.7 739.3h6M177.4 739.9h6M179.1 739.7h6M180.8 740.7h6M182.5 740.0h6M184.3 740.6h6M186.0 741.2h6M187.7 741.9h6M189.4 742.5h6M191.1 743.0h6M192.9 743.4h6M194.6 744.1h6M196.3 744.1h6M198.0 744.1h6M199.7 744.3h6M201.5 745.8h6M203.2 744.4h6M204.9 745.4h6M206.6 746.2h6M208.3 746.1h6M210.1 745.8h6M211.8 746.4h6M213.5 746.9h6M215.2 747.2h6M216.9 746.6h6M218.7 747.3h6M220.4 747.3h6M222.1 747.7h6M223.8 748.0h6M225.5 747.5h6M227.3 747.2h6M229.0 748.0h6M230.7 748.7h6M232.4 748.4h6M234.1 748.4h6M235.9 749.3h6M237.6 748.2h6M239.3 749.0h6M241.0 748.6h6M242.7 748.9h6M244.5 749.1h6M246.2 749.7h6M247.9 748.9h6M249.6 749.2h6M251.3 748.9h6M253.1 749.8h6M254.8 749.6h6M256.5 750.0h6M258.2 749.6h6M259.9 749.9h6M261.7 750.6h6M263.4 750.2h6M265.1 750.6h6M266.8 750.7h6M268.5 750.5h6M270.3 750.1h6M272.0 751.1h6M273.7 750.9h6M275.4 751.3h6M277.1 750.3h6M278.9 750.5h6M280.6 750.4h6M282.3 750.9h6M284.0 751.7h6M285.7 751.6h6M287.5 751.5h6M289.2 751.6h6M290.9 751.9h6M292.6 751.6h6M294.3 752.0h6M296.1 752.0h6M297.8 751.2h6M299.5 751.9h6M301.2 752.6h6M302.9 751.9h6M304.7 751.9h6M306.4 751.7h6M308.1 751.7h6M309.8 752.2h6M311.5 751.7h6M313.3 751.3h6M315.0 750.5h6M316.7 751.4h6M318.4 750.9h6M320.1 751.1h6M321.9 752.1h6M323.6 752.2h6M325.3 751.4h6M327.0 752.5h6M328.7 752.5h6M330.5 752.2h6M332.2 752.9h6M333.9 752.1h6M335.6 752.4h6M337.3 752.5h6M339.1 752.8h6M340.8 753.7h6M342.5 753.0h6M344.2 753.3h6M345.9 753.4h6M347.7 753.8h6M349.4 753.7h6M351.1 754.1h6M352.8 753.6h6M354.5 753.4h6M356.3 753.7h6M358.0 753.9h6M359.7 753.6h6M361.4 754.1h6M363.1 754.7h6M364.9 753.9h6M366.6 754.2h6M368.3 754.8h6M370.0 754.1h6M371.7 754.1h6M373.5 754.1h6M375.2 754.7h6M376.9 754.8h6M378.6 754.6h6M380.3 754.8h6M382.1 755.3h6M383.8 755.2h6M385.5 754.5h6M387.2 755.0h6M388.9 755.1h6M390.7 755.4h6M392.4 755.2h6M394.1 755.1h6M395.8 755.2h6M397.5 754.8h6M399.3 755.4h6M401.0 755.3h6M402.7 755.7h6M404.4 755.2h6M406.1 755.4h6M407.9 755.2h6M409.6 755.2h6M411.3 755.9h6M413.0 755.5h6M414.7 755.8h6M416.5 755.3h6M418.2 755.7h6M419.9 755.1h6M421.6 755.5h6M423.3 755.5h6M425.1 755.9h6M426.8 755.8h6M428.5 755.6h6M430.2 756.0h6M431.9 755.8h6M433.7 756.0h6M435.4 756.1h6M437.1 755.9h6M438.8 755.9h6M440.5 756.2h6M442.3 756.0h6M444.0 756.4h6M445.7 756.7h6M447.4 756.7h6M449.1 756.2h6M450.9 755.9h6M452.6 756.4h6M454.3 756.3h6M456.0 756.8h6M457.7 756.2h6M459.5 756.3h6M461.2 756.6h6M462.9 756.2h6M464.6 756.3h6M466.3 756.9h6M468.1 756.6h6M469.8 756.1h6M471.5 755.7h6M473.2 755.1h6M474.9 755.4h6M476.7 755.0h6M478.4 754.9h6M480.1 754.6h6M481.8 754.9h6M483.5 755.0h6M485.3 755.4h6M487.0 755.9h6M488.7 755.7h6M490.4 754.9h6M492.1 754.9h6M493.9 754.3h6M495.6 754.4h6" stroke="#d0a09a" stroke-width="0.7" fill="none"/>
<polygon points="87.5,747.6 89.2,746.6 90.9,744.7 92.7,743.0 94.4,741.6 96.1,739.6 97.8,738.6 99.5,737.6 101.3,736.6 103.0,735.1 104.7,734.1 106.4,733.5 108.1,732.8 109.9,731.8 111.6,731.0 113.3,729.7 115.0,729.5 116.7,729.5 118.5,729.0 120.2,728.7 121.9,729.1 123.6,728.8 125.3,728.8 127.1,729.5 128.8,730.2 130.5,730.0 132.2,730.8 133.9,730.8 135.7,731.3 137.4,731.8 139.1,732.5 140.8,733.8 142.5,733.6 144.3,735.1 146.0,735.0 147.7,735.9 149.4,736.9 151.1,737.5 152.9,738.1 154.6,738.2 156.3,739.5 158.0,739.6 159.7,741.3 161.5,741.0 163.2,741.7 164.9,741.9 166.6,742.4 168.3,742.4 170.1,743.4 171.8,743.2 173.5,743.7 175.2,743.6 176.9,743.9 178.7,744.7 180.4,744.3 182.1,744.3 183.8,745.3 185.5,745.2 187.3,745.8 189.0,746.5 190.7,746.4 192.4,747.2 194.1,747.1 195.9,748.1 197.6,748.4 199.3,748.2 201.0,748.5 202.7,748.5 204.5,749.0 206.2,749.5 207.9,749.0 209.6,749.9 211.3,749.4 213.1,749.8 214.8,749.7 216.5,751.1 218.2,750.6 219.9,750.8 221.7,750.7 223.4,751.3 225.1,750.5 226.8,751.3 228.5,752.0 230.3,751.4 232.0,751.6 233.7,752.0 235.4,751.6 237.1,752.0 238.9,752.4 240.6,752.3 242.3,752.4 244.0,752.3 245.7,752.6 247.5,752.7 249.2,753.2 250.9,753.1 252.6,752.9 254.3,752.3 256.1,753.4 257.8,753.5 259.5,753.1 261.2,752.9 262.9,753.2 264.7,753.9 266.4,753.4 268.1,753.7 269.8,754.0 271.5,754.4 273.3,754.1 275.0,754.1 276.7,754.1 278.4,754.8 280.1,754.7 281.9,754.4 283.6,754.1 285.3,754.3 287.0,754.8 288.7,754.5 290.5,755.0 292.2,755.0 293.9,755.0 295.6,755.2 297.3,755.2 299.1,754.9 300.8,755.1 302.5,756.0 304.2,754.9 305.9,755.1 307.7,755.5 309.4,755.0 311.1,754.7 312.8,754.5 314.5,755.0 316.3,755.1 318.0,755.1 319.7,754.7 321.4,755.0 323.1,754.4 324.9,754.9 326.6,754.8 328.3,755.1 330.0,755.4 331.7,755.6 333.5,755.1 335.2,755.9 336.9,755.5 338.6,755.4 340.3,755.9 342.1,755.6 343.8,756.2 345.5,756.4 347.2,756.4 348.9,756.7 350.7,756.5 352.4,756.6 354.1,756.2 355.8,756.7 357.5,756.4 359.3,756.6 361.0,756.7 362.7,756.8 364.4,756.3 366.1,756.4 367.9,756.8 369.6,757.1 371.3,757.2 373.0,757.4 374.7,757.6 376.5,757.4 378.2,757.3 379.9,757.1 381.6,757.2 383.3,757.4 385.1,757.7 386.8,757.8 388.5,757.8 390.2,757.8 391.9,758.1 393.7,758.0 395.4,758.1 397.1,758.2 398.8,758.0 400.5,757.9 402.3,758.4 404.0,758.4 405.7,758.2 407.4,758.2 409.1,759.1 410.9,758.2 412.6,758.4 414.3,758.5 416.0,758.1 417.7,758.5 419.5,759.0 421.2,758.8 422.9,758.7 424.6,758.7 426.3,758.5 428.1,758.8 429.8,758.5 431.5,758.4 433.2,758.5 434.9,758.8 436.7,758.7 438.4,758.9 440.1,758.1 441.8,759.2 443.5,759.6 445.3,759.4 447.0,758.9 448.7,758.8 450.4,759.3 452.1,758.9 453.9,759.4 455.6,759.0 457.3,759.5 459.0,759.6 460.7,758.6 462.5,759.3 464.2,759.0 465.9,758.8 467.6,759.0 469.3,759.0 471.1,759.2 472.8,758.2 474.5,758.8 476.2,758.9 477.9,758.2 479.7,758.0 481.4,757.6 483.1,757.2 484.8,757.9 486.5,758.0 488.3,758.3 490.0,759.0 491.7,758.6 493.4,758.5 495.1,758.5 496.9,757.3 498.6,757.2 498.6,759.9 496.9,761.1 495.1,760.5 493.4,761.3 491.7,761.2 490.0,760.8 488.3,760.6 486.5,760.0 484.8,760.7 483.1,760.4 481.4,761.2 479.7,760.7 477.9,761.1 476.2,761.2 474.5,761.7 472.8,760.9 471.1,761.6 469.3,762.5 467.6,762.3 465.9,761.9 464.2,761.8 462.5,762.1 460.7,762.0 459.0,762.2 457.3,761.3 455.6,761.4 453.9,762.2 452.1,761.8 450.4,762.6 448.7,762.2 447.0,761.5 445.3,762.0 443.5,761.9 441.8,761.5 440.1,760.8 438.4,761.6 436.7,761.1 434.9,761.4 433.2,761.6 431.5,761.0 429.8,760.4 428.1,761.1 426.3,761.1 424.6,761.2 422.9,761.9 421.2,761.3 419.5,761.6 417.7,761.4 416.0,761.3 414.3,761.0 412.6,761.6 410.9,761.5 409.1,760.4 407.4,761.1 405.7,761.0 404.0,761.6 402.3,760.4 400.5,761.1 398.8,761.1 397.1,761.7 395.4,760.7 393.7,761.1 391.9,759.9 390.2,760.3 388.5,760.4 386.8,761.1 385.1,760.4 383.3,761.1 381.6,760.9 379.9,760.1 378.2,759.5 376.5,760.2 374.7,759.9 373.0,759.7 371.3,760.2 369.6,760.0 367.9,759.3 366.1,759.1 364.4,759.6 362.7,760.1 361.0,759.8 359.3,760.2 357.5,759.4 355.8,758.6 354.1,759.8 352.4,759.6 350.7,759.2 348.9,759.3 347.2,758.9 345.5,758.8 343.8,759.2 342.1,758.2 340.3,759.1 338.6,758.6 336.9,758.6 335.2,758.5 333.5,758.7 331.7,758.3 330.0,757.9 328.3,757.9 326.6,757.5 324.9,757.3 323.1,758.0 321.4,757.1 319.7,757.5 318.0,757.7 316.3,757.8 314.5,757.8 312.8,758.3 311.1,757.7 309.4,758.2 307.7,757.7 305.9,758.6 304.2,758.7 302.5,759.3 300.8,758.4 299.1,757.9 297.3,757.9 295.6,758.1 293.9,757.9 292.2,757.8 290.5,758.4 288.7,757.2 287.0,757.5 285.3,757.9 283.6,757.6 281.9,757.5 280.1,758.5 278.4,757.5 276.7,757.5 275.0,757.9 273.3,757.5 271.5,757.6 269.8,758.1 268.1,757.4 266.4,757.4 264.7,757.0 262.9,757.1 261.2,756.6 259.5,757.6 257.8,757.2 256.1,756.5 254.3,757.3 252.6,756.2 250.9,756.4 249.2,756.9 247.5,756.9 245.7,756.1 244.0,756.2 242.3,756.1 240.6,756.0 238.9,755.7 237.1,755.0 235.4,755.9 233.7,755.8 232.0,755.9 230.3,755.2 228.5,754.8 226.8,754.4 225.1,754.9 223.4,755.0 221.7,754.2 219.9,754.1 218.2,754.5 216.5,754.1 214.8,754.4 213.1,754.1 211.3,753.8 209.6,753.3 207.9,753.5 206.2,752.7 204.5,753.4 202.7,752.9 201.0,752.7 199.3,752.2 197.6,751.4 195.9,751.9 194.1,751.8 192.4,751.4 190.7,750.6 189.0,750.8 187.3,750.3 185.5,750.5 183.8,750.5 182.1,749.6 180.4,749.7 178.7,749.1 176.9,749.3 175.2,748.7 173.5,749.3 171.8,749.1 170.1,748.7 168.3,748.8 166.6,748.9 164.9,747.9 163.2,747.5 161.5,747.6 159.7,746.5 158.0,746.4 156.3,746.1 154.6,745.4 152.9,744.9 151.1,744.1 149.4,743.3 147.7,742.5 146.0,741.6 144.3,741.3 142.5,740.3 140.8,740.5 139.1,739.4 137.4,739.0 135.7,739.7 133.9,738.2 132.2,738.1 130.5,737.8 128.8,737.1 127.1,737.4 125.3,737.1 123.6,737.1 121.9,736.9 120.2,737.3 118.5,737.4 116.7,737.2 115.0,737.6 113.3,737.5 111.6,738.0 109.9,738.9 108.1,739.6 106.4,740.9 104.7,741.6 103.0,741.8 101.3,743.8 99.5,744.1 97.8,745.0 96.1,746.0 94.4,747.7 92.7,749.5 90.9,750.6 89.2,752.4 87.5,753.9" fill="#f0cdc8" fill-opacity="0.75"/>
<path d="M87.5 753.9V747.6M92.7 749.5V743.0M97.8 745.0V738.6M103.0 741.8V735.1M108.1 739.6V732.8M113.3 737.5V729.7M118.5 737.4V729.0M123.6 737.1V728.8M128.8 737.1V730.2M133.9 738.2V730.8M139.1 739.4V732.5M144.3 741.3V735.1M149.4 743.3V736.9M154.6 745.4V738.2M159.7 746.5V741.3M164.9 747.9V741.9M170.1 748.7V743.4M175.2 748.7V743.6M180.4 749.7V744.3M185.5 750.5V745.2M190.7 750.6V746.4M195.9 751.9V748.1M201.0 752.7V748.5M206.2 752.7V749.5M211.3 753.8V749.4M216.5 754.1V751.1M221.7 754.2V750.7M226.8 754.4V751.3M232.0 755.9V751.6M237.1 755.0V752.0M242.3 756.1V752.4M247.5 756.9V752.7M252.6 756.2V752.9M257.8 757.2V753.5M262.9 757.1V753.2M268.1 757.4V753.7M273.3 757.5V754.1M278.4 757.5V754.8M283.6 757.6V754.1M288.7 757.2V754.5M293.9 757.9V755.0M299.1 757.9V754.9M304.2 758.7V754.9M309.4 758.2V755.0M314.5 757.8V755.0M319.7 757.5V754.7M324.9 757.3V754.9M330.0 757.9V755.4M335.2 758.5V755.9M340.3 759.1V755.9M345.5 758.8V756.4M350.7 759.2V756.5M355.8 758.6V756.7M361.0 759.8V756.7M366.1 759.1V756.4M371.3 760.2V757.2M376.5 760.2V757.4M381.6 760.9V757.2M386.8 761.1V757.8M391.9 759.9V758.1M397.1 761.7V758.2M402.3 760.4V758.4M407.4 761.1V758.2M412.6 761.6V758.4M417.7 761.4V758.5M422.9 761.9V758.7M428.1 761.1V758.8M433.2 761.6V758.5M438.4 761.6V758.9M443.5 761.9V759.6M448.7 762.2V758.8M453.9 762.2V759.4M459.0 762.2V759.6M464.2 761.8V759.0M469.3 762.5V759.0M474.5 761.7V758.8M479.7 760.7V758.0M484.8 760.7V757.9M490.0 760.8V759.0M495.1 760.5V758.5" stroke="#d0a09a" stroke-opacity="0.45" stroke-width="0.7" fill="none"/>
<path d="M84.5 753.9h6M86.2 752.4h6M87.9 750.6h6M89.7 749.5h6M91.4 747.7h6M93.1 746.0h6M94.8 745.0h6M96.5 744.1h6M98.3 743.8h6M100.0 741.8h6M101.7 741.6h6M103.4 740.9h6M105.1 739.6h6M106.9 738.9h6M108.6 738.0h6M110.3 737.5h6M112.0 737.6h6M113.7 737.2h6M115.5 737.4h6M117.2 737.3h6M118.9 736.9h6M120.6 737.1h6M122.3 737.1h6M124.1 737.4h6M125.8 737.1h6M127.5 737.8h6M129.2 738.1h6M130.9 738.2h6M132.7 739.7h6M134.4 739.0h6M136.1 739.4h6M137.8 740.5h6M139.5 740.3h6M141.3 741.3h6M143.0 741.6h6M144.7 742.5h6M146.4 743.3h6M148.1 744.1h6M149.9 744.9h6M151.6 745.4h6M153.3 746.1h6M155.0 746.4h6M156.7 746.5h6M158.5 747.6h6M160.2 747.5h6M161.9 747.9h6M163.6 748.9h6M165.3 748.8h6M167.1 748.7h6M168.8 749.1h6M170.5 749.3h6M172.2 748.7h6M173.9 749.3h6M175.7 749.1h6M177.4 749.7h6M179.1 749.6h6M180.8 750.5h6M182.5 750.5h6M184.3 750.3h6M186.0 750.8h6M187.7 750.6h6M189.4 751.4h6M191.1 751.8h6M192.9 751.9h6M194.6 751.4h6M196.3 752.2h6M198.0 752.7h6M199.7 752.9h6M201.5 753.4h6M203.2 752.7h6M204.9 753.5h6M206.6 753.3h6M208.3 753.8h6M210.1 754.1h6M211.8 754.4h6M213.5 754.1h6M215.2 754.5h6M216.9 754.1h6M218.7 754.2h6M220.4 755.0h6M222.1 754.9h6M223.8 754.4h6M225.5 754.8h6M227.3 755.2h6M229.0 755.9h6M230.7 755.8h6M232.4 755.9h6M234.1 755.0h6M235.9 755.7h6M237.6 756.0h6M239.3 756.1h6M241.0 756.2h6M242.7 756.1h6M244.5 756.9h6M246.2 756.9h6M247.9 756.4h6M249.6 756.2h6M251.3 757.3h6M253.1 756.5h6M254.8 757.2h6M256.5 757.6h6M258.2 756.6h6M259.9 757.1h6M261.7 757.0h6M263.4 757.4h6M265.1 757.4h6M266.8 758.1h6M268.5 757.6h6M270.3 757.5h6M272.0 757.9h6M273.7 757.5h6M275.4 757.5h6M277.1 758.5h6M278.9 757.5h6M280.6 757.6h6M282.3 757.9h6M284.0 757.5h6M285.7 757.2h6M287.5 758.4h6M289.2 757.8h6M290.9 757.9h6M292.6 758.1h6M294.3 757.9h6M296.1 757.9h6M297.8 758.4h6M299.5 759.3h6M301.2 758.7h6M302.9 758.6h6M304.7 757.7h6M306.4 758.2h6M308.1 757.7h6M309.8 758.3h6M311.5 757.8h6M313.3 757.8h6M315.0 757.7h6M316.7 757.5h6M318.4 757.1h6M320.1 758.0h6M321.9 757.3h6M323.6 757.5h6M325.3 757.9h6M327.0 757.9h6M328.7 758.3h6M330.5 758.7h6M332.2 758.5h6M333.9 758.6h6M335.6 758.6h6M337.3 759.1h6M339.1 758.2h6M340.8 759.2h6M342.5 758.8h6M344.2 758.9h6M345.9 759.3h6M347.7 759.2h6M349.4 759.6h6M351.1 759.8h6M352.8 758.6h6M354.5 759.4h6M356.3 760.2h6M358.0 759.8h6M359.7 760.1h6M361.4 759.6h6M363.1 759.1h6M364.9 759.3h6M366.6 760.0h6M368.3 760.2h6M370.0 759.7h6M371.7 759.9h6M373.5 760.2h6M375.2 759.5h6M376.9 760.1h6M378.6 760.9h6M380.3 761.1h6M382.1 760.4h6M383.8 761.1h6M385.5 760.4h6M387.2 760.3h6M388.9 759.9h6M390.7 761.1h6M392.4 760.7h6M394.1 761.7h6M395.8 761.1h6M397.5 761.1h6M399.3 760.4h6M401.0 761.6h6M402.7 761.0h6M404.4 761.1h6M406.1 760.4h6M407.9 761.5h6M409.6 761.6h6M411.3 761.0h6M413.0 761.3h6M414.7 761.4h6M416.5 761.6h6M418.2 761.3h6M419.9 761.9h6M421.6 761.2h6M423.3 761.1h6M425.1 761.1h6M426.8 760.4h6M428.5 761.0h6M430.2 761.6h6M431.9 761.4h6M433.7 761.1h6M435.4 761.6h6M437.1 760.8h6M438.8 761.5h6M440.5 761.9h6M442.3 762.0h6M444.0 761.5h6M445.7 762.2h6M447.4 762.6h6M449.1 761.8h6M450.9 762.2h6M452.6 761.4h6M454.3 761.3h6M456.0 762.2h6M457.7 762.0h6M459.5 762.1h6M461.2 761.8h6M462.9 761.9h6M464.6 762.3h6M466.3 762.5h6M468.1 761.6h6M469.8 760.9h6M471.5 761.7h6M473.2 761.2h6M474.9 761.1h6M476.7 760.7h6M478.4 761.2h6M480.1 760.4h6M481.8 760.7h6M483.5 760.0h6M485.3 760.6h6M487.0 760.8h6M488.7 761.2h6M490.4 761.3h6M492.1 760.5h6M493.9 761.1h6M495.6 759.9h6" stroke="#d0a09a" stroke-width="0.7" fill="none"/>
<g fill="#d5222a" stroke="#c41c24" stroke-width="0.4"><rect x="85.4" y="745.5" width="4.2" height="4.2"/><rect x="86.6" y="744.6" width="4.2" height="4.2"/><rect x="87.8" y="743.1" width="4.2" height="4.2"/><rect x="89.0" y="742.6" width="4.2" height="4.2"/><rect x="90.1" y="741.5" width="4.2" height="4.2"/><rect x="91.3" y="740.2" width="4.2" height="4.2"/><rect x="92.5" y="739.7" width="4.2" height="4.2"/><rect x="93.7" y="738.1" width="4.2" height="4.2"/><rect x="95.0" y="737.3" width="4.2" height="4.2"/><rect x="96.3" y="736.0" width="4.2" height="4.2"/><rect x="97.6" y="734.9" width="4.2" height="4.2"/><rect x="99.0" y="734.3" width="4.2" height="4.2"/><rect x="100.3" y="733.4" width="4.2" height="4.2"/><rect x="101.6" y="732.5" width="4.2" height="4.2"/><rect x="103.0" y="732.0" width="4.2" height="4.2"/><rect x="104.4" y="730.4" width="4.2" height="4.2"/><rect x="105.8" y="730.0" width="4.2" height="4.2"/><rect x="107.3" y="729.1" width="4.2" height="4.2"/><rect x="108.7" y="729.3" width="4.2" height="4.2"/><rect x="110.1" y="728.1" width="4.2" height="4.2"/><rect x="111.6" y="727.5" width="4.2" height="4.2"/><rect x="113.2" y="727.1" width="4.2" height="4.2"/><rect x="114.8" y="727.5" width="4.2" height="4.2"/><rect x="116.4" y="726.9" width="4.2" height="4.2"/><rect x="117.9" y="726.8" width="4.2" height="4.2"/><rect x="119.5" y="725.9" width="4.2" height="4.2"/><rect x="121.1" y="727.0" width="4.2" height="4.2"/><rect x="122.7" y="727.1" width="4.2" height="4.2"/><rect x="124.3" y="727.3" width="4.2" height="4.2"/><rect x="125.8" y="727.8" width="4.2" height="4.2"/><rect x="127.4" y="727.6" width="4.2" height="4.2"/><rect x="129.0" y="727.9" width="4.2" height="4.2"/><rect x="130.5" y="728.7" width="4.2" height="4.2"/><rect x="132.1" y="729.0" width="4.2" height="4.2"/><rect x="133.6" y="729.3" width="4.2" height="4.2"/><rect x="135.1" y="729.8" width="4.2" height="4.2"/><rect x="136.7" y="730.1" width="4.2" height="4.2"/><rect x="138.1" y="731.1" width="4.2" height="4.2"/><rect x="139.6" y="731.7" width="4.2" height="4.2"/><rect x="141.1" y="732.1" width="4.2" height="4.2"/><rect x="142.6" y="733.2" width="4.2" height="4.2"/><rect x="144.1" y="732.8" width="4.2" height="4.2"/><rect x="145.6" y="733.8" width="4.2" height="4.2"/><rect x="147.0" y="735.0" width="4.2" height="4.2"/><rect x="148.5" y="734.9" width="4.2" height="4.2"/><rect x="150.0" y="735.1" width="4.2" height="4.2"/><rect x="151.5" y="736.6" width="4.2" height="4.2"/><rect x="153.0" y="736.9" width="4.2" height="4.2"/><rect x="154.5" y="737.0" width="4.2" height="4.2"/><rect x="156.0" y="738.1" width="4.2" height="4.2"/><rect x="157.5" y="738.1" width="4.2" height="4.2"/><rect x="159.1" y="738.5" width="4.2" height="4.2"/><rect x="160.6" y="739.4" width="4.2" height="4.2"/><rect x="162.1" y="739.8" width="4.2" height="4.2"/><rect x="163.6" y="740.0" width="4.2" height="4.2"/><rect x="165.2" y="740.4" width="4.2" height="4.2"/><rect x="166.8" y="740.5" width="4.2" height="4.2"/><rect x="168.4" y="741.0" width="4.2" height="4.2"/><rect x="170.0" y="741.2" width="4.2" height="4.2"/><rect x="171.5" y="741.7" width="4.2" height="4.2"/><rect x="173.1" y="741.6" width="4.2" height="4.2"/><rect x="174.7" y="741.6" width="4.2" height="4.2"/><rect x="176.3" y="741.8" width="4.2" height="4.2"/><rect x="177.9" y="742.4" width="4.2" height="4.2"/><rect x="179.5" y="743.1" width="4.2" height="4.2"/><rect x="181.0" y="743.2" width="4.2" height="4.2"/><rect x="182.6" y="743.1" width="4.2" height="4.2"/><rect x="184.2" y="743.9" width="4.2" height="4.2"/><rect x="185.7" y="743.6" width="4.2" height="4.2"/><rect x="187.3" y="744.5" width="4.2" height="4.2"/><rect x="188.9" y="744.4" width="4.2" height="4.2"/><rect x="190.4" y="745.1" width="4.2" height="4.2"/><rect x="192.0" y="745.4" width="4.2" height="4.2"/><rect x="193.6" y="745.4" width="4.2" height="4.2"/><rect x="195.1" y="745.9" width="4.2" height="4.2"/><rect x="196.7" y="745.8" width="4.2" height="4.2"/><rect x="198.3" y="746.4" width="4.2" height="4.2"/><rect x="199.9" y="746.9" width="4.2" height="4.2"/><rect x="201.5" y="748.0" width="4.2" height="4.2"/><rect x="203.1" y="747.2" width="4.2" height="4.2"/><rect x="204.6" y="747.2" width="4.2" height="4.2"/><rect x="206.2" y="747.0" width="4.2" height="4.2"/><rect x="207.8" y="747.9" width="4.2" height="4.2"/><rect x="209.4" y="747.2" width="4.2" height="4.2"/><rect x="211.0" y="747.7" width="4.2" height="4.2"/><rect x="212.6" y="748.2" width="4.2" height="4.2"/><rect x="214.2" y="747.9" width="4.2" height="4.2"/><rect x="215.8" y="748.9" width="4.2" height="4.2"/><rect x="217.4" y="748.9" width="4.2" height="4.2"/><rect x="219.0" y="748.5" width="4.2" height="4.2"/><rect x="220.6" y="748.7" width="4.2" height="4.2"/><rect x="222.1" y="748.5" width="4.2" height="4.2"/><rect x="223.7" y="748.6" width="4.2" height="4.2"/><rect x="225.3" y="749.3" width="4.2" height="4.2"/><rect x="226.9" y="749.5" width="4.2" height="4.2"/><rect x="228.5" y="749.5" width="4.2" height="4.2"/><rect x="230.1" y="749.6" width="4.2" height="4.2"/><rect x="231.7" y="749.5" width="4.2" height="4.2"/><rect x="233.3" y="749.9" width="4.2" height="4.2"/><rect x="234.9" y="749.4" width="4.2" height="4.2"/><rect x="236.5" y="750.0" width="4.2" height="4.2"/><rect x="238.1" y="750.5" width="4.2" height="4.2"/><rect x="239.7" y="750.6" width="4.2" height="4.2"/><rect x="241.3" y="750.1" width="4.2" height="4.2"/><rect x="242.9" y="750.3" width="4.2" height="4.2"/><rect x="244.5" y="750.9" width="4.2" height="4.2"/><rect x="246.1" y="751.1" width="4.2" height="4.2"/><rect x="247.7" y="750.2" width="4.2" height="4.2"/><rect x="249.3" y="750.7" width="4.2" height="4.2"/><rect x="250.9" y="750.9" width="4.2" height="4.2"/><rect x="252.5" y="751.3" width="4.2" height="4.2"/><rect x="254.1" y="750.8" width="4.2" height="4.2"/><rect x="255.7" y="751.3" width="4.2" height="4.2"/><rect x="257.3" y="751.2" width="4.2" height="4.2"/><rect x="258.9" y="752.0" width="4.2" height="4.2"/><rect x="260.5" y="751.6" width="4.2" height="4.2"/><rect x="262.1" y="751.5" width="4.2" height="4.2"/><rect x="263.7" y="751.5" width="4.2" height="4.2"/><rect x="265.3" y="752.0" width="4.2" height="4.2"/><rect x="266.9" y="752.0" width="4.2" height="4.2"/><rect x="268.5" y="751.5" width="4.2" height="4.2"/><rect x="270.1" y="752.0" width="4.2" height="4.2"/><rect x="271.7" y="751.6" width="4.2" height="4.2"/><rect x="273.2" y="751.8" width="4.2" height="4.2"/><rect x="274.8" y="751.7" width="4.2" height="4.2"/><rect x="276.4" y="751.8" width="4.2" height="4.2"/><rect x="278.0" y="752.0" width="4.2" height="4.2"/><rect x="279.6" y="752.0" width="4.2" height="4.2"/><rect x="281.2" y="752.5" width="4.2" height="4.2"/><rect x="282.8" y="752.7" width="4.2" height="4.2"/><rect x="284.4" y="752.4" width="4.2" height="4.2"/><rect x="286.0" y="752.2" width="4.2" height="4.2"/><rect x="287.6" y="752.9" width="4.2" height="4.2"/><rect x="289.2" y="752.1" width="4.2" height="4.2"/><rect x="290.8" y="752.2" width="4.2" height="4.2"/><rect x="292.4" y="753.0" width="4.2" height="4.2"/><rect x="294.0" y="753.1" width="4.2" height="4.2"/><rect x="295.6" y="753.2" width="4.2" height="4.2"/><rect x="297.2" y="753.0" width="4.2" height="4.2"/><rect x="298.8" y="752.7" width="4.2" height="4.2"/><rect x="300.4" y="753.0" width="4.2" height="4.2"/><rect x="302.0" y="753.3" width="4.2" height="4.2"/><rect x="303.6" y="752.9" width="4.2" height="4.2"/><rect x="305.2" y="752.8" width="4.2" height="4.2"/><rect x="306.8" y="752.5" width="4.2" height="4.2"/><rect x="308.4" y="752.6" width="4.2" height="4.2"/><rect x="310.0" y="753.1" width="4.2" height="4.2"/><rect x="311.6" y="752.9" width="4.2" height="4.2"/><rect x="313.2" y="752.4" width="4.2" height="4.2"/><rect x="314.8" y="752.3" width="4.2" height="4.2"/><rect x="316.4" y="752.4" width="4.2" height="4.2"/><rect x="318.0" y="752.7" width="4.2" height="4.2"/><rect x="319.6" y="752.2" width="4.2" height="4.2"/><rect x="321.2" y="752.6" width="4.2" height="4.2"/><rect x="322.8" y="752.1" width="4.2" height="4.2"/><rect x="324.4" y="752.5" width="4.2" height="4.2"/><rect x="326.0" y="753.1" width="4.2" height="4.2"/><rect x="327.6" y="753.3" width="4.2" height="4.2"/><rect x="329.2" y="752.8" width="4.2" height="4.2"/><rect x="330.8" y="753.0" width="4.2" height="4.2"/><rect x="332.4" y="753.6" width="4.2" height="4.2"/><rect x="334.0" y="753.3" width="4.2" height="4.2"/><rect x="335.6" y="753.4" width="4.2" height="4.2"/><rect x="337.2" y="753.9" width="4.2" height="4.2"/><rect x="338.8" y="753.9" width="4.2" height="4.2"/><rect x="340.4" y="754.3" width="4.2" height="4.2"/><rect x="342.0" y="754.3" width="4.2" height="4.2"/><rect x="343.5" y="754.1" width="4.2" height="4.2"/><rect x="345.1" y="754.3" width="4.2" height="4.2"/><rect x="346.7" y="754.4" width="4.2" height="4.2"/><rect x="348.3" y="754.0" width="4.2" height="4.2"/><rect x="349.9" y="754.2" width="4.2" height="4.2"/><rect x="351.5" y="754.8" width="4.2" height="4.2"/><rect x="353.1" y="754.0" width="4.2" height="4.2"/><rect x="354.7" y="754.9" width="4.2" height="4.2"/><rect x="356.3" y="754.7" width="4.2" height="4.2"/><rect x="357.9" y="754.6" width="4.2" height="4.2"/><rect x="359.5" y="754.8" width="4.2" height="4.2"/><rect x="361.1" y="754.8" width="4.2" height="4.2"/><rect x="362.7" y="755.1" width="4.2" height="4.2"/><rect x="364.3" y="754.6" width="4.2" height="4.2"/><rect x="365.9" y="754.8" width="4.2" height="4.2"/><rect x="367.5" y="754.8" width="4.2" height="4.2"/><rect x="369.1" y="755.5" width="4.2" height="4.2"/><rect x="370.7" y="755.3" width="4.2" height="4.2"/><rect x="372.3" y="754.8" width="4.2" height="4.2"/><rect x="373.9" y="755.0" width="4.2" height="4.2"/><rect x="375.5" y="755.0" width="4.2" height="4.2"/><rect x="377.1" y="755.3" width="4.2" height="4.2"/><rect x="378.7" y="755.4" width="4.2" height="4.2"/><rect x="380.3" y="756.1" width="4.2" height="4.2"/><rect x="381.9" y="754.9" width="4.2" height="4.2"/><rect x="383.5" y="755.8" width="4.2" height="4.2"/><rect x="385.1" y="755.7" width="4.2" height="4.2"/><rect x="386.7" y="755.5" width="4.2" height="4.2"/><rect x="388.3" y="755.7" width="4.2" height="4.2"/><rect x="389.9" y="755.6" width="4.2" height="4.2"/><rect x="391.5" y="755.9" width="4.2" height="4.2"/><rect x="393.1" y="756.2" width="4.2" height="4.2"/><rect x="394.7" y="755.5" width="4.2" height="4.2"/><rect x="396.3" y="756.5" width="4.2" height="4.2"/><rect x="397.9" y="756.0" width="4.2" height="4.2"/><rect x="399.5" y="756.6" width="4.2" height="4.2"/><rect x="401.1" y="756.3" width="4.2" height="4.2"/><rect x="402.7" y="756.6" width="4.2" height="4.2"/><rect x="404.3" y="756.4" width="4.2" height="4.2"/><rect x="405.9" y="756.6" width="4.2" height="4.2"/><rect x="407.5" y="756.3" width="4.2" height="4.2"/><rect x="409.1" y="756.0" width="4.2" height="4.2"/><rect x="410.7" y="756.5" width="4.2" height="4.2"/><rect x="412.3" y="756.6" width="4.2" height="4.2"/><rect x="413.9" y="757.0" width="4.2" height="4.2"/><rect x="415.5" y="755.8" width="4.2" height="4.2"/><rect x="417.1" y="756.3" width="4.2" height="4.2"/><rect x="418.7" y="756.7" width="4.2" height="4.2"/><rect x="420.3" y="756.0" width="4.2" height="4.2"/><rect x="421.9" y="756.3" width="4.2" height="4.2"/><rect x="423.5" y="757.0" width="4.2" height="4.2"/><rect x="425.1" y="756.8" width="4.2" height="4.2"/><rect x="426.7" y="756.1" width="4.2" height="4.2"/><rect x="428.3" y="756.8" width="4.2" height="4.2"/><rect x="429.9" y="756.7" width="4.2" height="4.2"/><rect x="431.5" y="756.6" width="4.2" height="4.2"/><rect x="433.1" y="756.6" width="4.2" height="4.2"/><rect x="434.7" y="756.6" width="4.2" height="4.2"/><rect x="436.3" y="756.3" width="4.2" height="4.2"/><rect x="437.9" y="756.5" width="4.2" height="4.2"/><rect x="439.5" y="756.9" width="4.2" height="4.2"/><rect x="441.1" y="756.8" width="4.2" height="4.2"/><rect x="442.7" y="757.4" width="4.2" height="4.2"/><rect x="444.3" y="756.8" width="4.2" height="4.2"/><rect x="445.9" y="756.2" width="4.2" height="4.2"/><rect x="447.5" y="756.9" width="4.2" height="4.2"/><rect x="449.1" y="757.2" width="4.2" height="4.2"/><rect x="450.7" y="757.2" width="4.2" height="4.2"/><rect x="452.3" y="757.1" width="4.2" height="4.2"/><rect x="453.9" y="756.8" width="4.2" height="4.2"/><rect x="455.5" y="757.5" width="4.2" height="4.2"/><rect x="457.1" y="756.9" width="4.2" height="4.2"/><rect x="458.7" y="757.3" width="4.2" height="4.2"/><rect x="460.3" y="757.0" width="4.2" height="4.2"/><rect x="461.9" y="756.7" width="4.2" height="4.2"/><rect x="463.5" y="757.5" width="4.2" height="4.2"/><rect x="465.1" y="756.3" width="4.2" height="4.2"/><rect x="466.7" y="756.8" width="4.2" height="4.2"/><rect x="468.3" y="757.0" width="4.2" height="4.2"/><rect x="469.9" y="756.6" width="4.2" height="4.2"/><rect x="471.5" y="756.7" width="4.2" height="4.2"/><rect x="473.0" y="756.2" width="4.2" height="4.2"/><rect x="474.6" y="755.9" width="4.2" height="4.2"/><rect x="476.2" y="756.5" width="4.2" height="4.2"/><rect x="477.8" y="755.6" width="4.2" height="4.2"/><rect x="479.4" y="755.4" width="4.2" height="4.2"/><rect x="481.0" y="755.1" width="4.2" height="4.2"/><rect x="482.6" y="755.4" width="4.2" height="4.2"/><rect x="484.2" y="756.0" width="4.2" height="4.2"/><rect x="485.8" y="756.1" width="4.2" height="4.2"/><rect x="487.4" y="756.1" width="4.2" height="4.2"/><rect x="489.0" y="756.0" width="4.2" height="4.2"/><rect x="490.5" y="756.6" width="4.2" height="4.2"/><rect x="492.1" y="755.6" width="4.2" height="4.2"/><rect x="493.7" y="755.7" width="4.2" height="4.2"/><rect x="495.3" y="755.4" width="4.2" height="4.2"/><rect x="496.8" y="755.1" width="4.2" height="4.2"/></g>
<rect x="81.2" y="47.5" width="424.0" height="300.0" fill="none" stroke="#000" stroke-width="2"/>
<path d="M75.2 347.5H81.2M78.2 319.2H81.2M75.2 290.9H81.2M78.2 262.5H81.2M75.2 234.2H81.2M78.2 205.9H81.2M75.2 177.6H81.2M78.2 149.2H81.2M75.2 120.9H81.2M78.2 92.6H81.2M75.2 64.2H81.2M81.2 347.5v6M95.0 347.5v3M108.7 347.5v3M122.5 347.5v3M136.2 347.5v3M150.0 347.5v6M163.8 347.5v3M177.5 347.5v3M191.3 347.5v3M205.0 347.5v3M218.8 347.5v6M232.6 347.5v3M246.3 347.5v3M260.1 347.5v3M273.8 347.5v3M287.6 347.5v6M301.4 347.5v3M315.1 347.5v3M328.9 347.5v3M342.6 347.5v3M356.4 347.5v6M370.2 347.5v3M383.9 347.5v3M397.7 347.5v3M411.4 347.5v3M425.2 347.5v6M439.0 347.5v3M452.7 347.5v3M466.5 347.5v3M480.2 347.5v3M494.0 347.5v6" stroke="#000" stroke-width="1.8" fill="none"/>
<text x="67.5" y="353.6" text-anchor="end" class="tl">0</text>
<text x="67.5" y="297.0" text-anchor="end" class="tl">0.5</text>
<text x="67.5" y="240.3" text-anchor="end" class="tl">1.0</text>
<text x="67.5" y="183.7" text-anchor="end" class="tl">1.5</text>
<text x="67.5" y="127.0" text-anchor="end" class="tl">2.0</text>
<text x="67.5" y="70.3" text-anchor="end" class="tl">2.5</text>
<text x="81.2" y="375.6" text-anchor="middle" class="tl">0</text>
<text x="150.0" y="375.6" text-anchor="middle" class="tl">10</text>
<text x="218.8" y="375.6" text-anchor="middle" class="tl">20</text>
<text x="287.6" y="375.6" text-anchor="middle" class="tl">30</text>
<text x="356.4" y="375.6" text-anchor="middle" class="tl">40</text>
<text x="425.2" y="375.6" text-anchor="middle" class="tl">50</text>
<text x="494.0" y="375.6" text-anchor="middle" class="tl">60</text>
<rect x="81.2" y="475.0" width="424.0" height="300.0" fill="none" stroke="#000" stroke-width="2"/>
<path d="M75.2 774.8H81.2M78.2 746.5H81.2M75.2 718.3H81.2M78.2 690.0H81.2M75.2 661.8H81.2M78.2 633.5H81.2M75.2 605.3H81.2M78.2 577.0H81.2M75.2 548.8H81.2M78.2 520.5H81.2M75.2 492.3H81.2M81.2 775.0v6M95.0 775.0v3M108.7 775.0v3M122.5 775.0v3M136.2 775.0v3M150.0 775.0v6M163.8 775.0v3M177.5 775.0v3M191.3 775.0v3M205.0 775.0v3M218.8 775.0v6M232.6 775.0v3M246.3 775.0v3M260.1 775.0v3M273.8 775.0v3M287.6 775.0v6M301.4 775.0v3M315.1 775.0v3M328.9 775.0v3M342.6 775.0v3M356.4 775.0v6M370.2 775.0v3M383.9 775.0v3M397.7 775.0v3M411.4 775.0v3M425.2 775.0v6M439.0 775.0v3M452.7 775.0v3M466.5 775.0v3M480.2 775.0v3M494.0 775.0v6" stroke="#000" stroke-width="1.8" fill="none"/>
<text x="67.5" y="780.9" text-anchor="end" class="tl">0</text>
<text x="67.5" y="724.4" text-anchor="end" class="tl">0.5</text>
<text x="67.5" y="667.9" text-anchor="end" class="tl">1.0</text>
<text x="67.5" y="611.4" text-anchor="end" class="tl">1.5</text>
<text x="67.5" y="554.9" text-anchor="end" class="tl">2.0</text>
<text x="67.5" y="498.4" text-anchor="end" class="tl">2.5</text>
<text x="81.2" y="803.5" text-anchor="middle" class="tl">0</text>
<text x="150.0" y="803.5" text-anchor="middle" class="tl">10</text>
<text x="218.8" y="803.5" text-anchor="middle" class="tl">20</text>
<text x="287.6" y="803.5" text-anchor="middle" class="tl">30</text>
<text x="356.4" y="803.5" text-anchor="middle" class="tl">40</text>
<text x="425.2" y="803.5" text-anchor="middle" class="tl">50</text>
<text x="494.0" y="803.5" text-anchor="middle" class="tl">60</text>
<text x="17.5" y="34.8" class="pl" transform="translate(17.5 0) scale(0.93 1) translate(-17.5 0)">A</text>
<text x="17.5" y="462.5" class="pl" transform="translate(17.5 0) scale(0.93 1) translate(-17.5 0)">B</text>
<text x="293" y="402.8" text-anchor="middle" class="ti" textLength="129" lengthAdjust="spacingAndGlyphs">Time (minutes)</text>
<text transform="translate(32.2 197.6) rotate(-90)" x="0" y="0" text-anchor="middle" class="ti" textLength="143" lengthAdjust="spacingAndGlyphs">Relative intensity</text>
<text x="293" y="830.0" text-anchor="middle" class="ti" textLength="129" lengthAdjust="spacingAndGlyphs">Time (minutes)</text>
<text transform="translate(32.2 624.8) rotate(-90)" x="0" y="0" text-anchor="middle" class="ti" textLength="143" lengthAdjust="spacingAndGlyphs">Relative intensity</text>
<path d="M264.6 58.7H295.8" stroke="#9c9cac" stroke-width="1.2"/>
<circle cx="280.5" cy="58.7" r="3.3" fill="#35428e"/>
<text x="303" y="64.9" class="lg">WT controls</text>
<path d="M264.6 76.3H295.8" stroke="#bcc4bc" stroke-width="1.2"/>
<rect x="278.1" y="73.89999999999999" width="4.8" height="4.8" fill="#3f6e3f"/>
<text x="303" y="82.8" class="lg">HemB mice w/BeneFIX</text>
<path d="M264.6 95.3H295.8" stroke="#c4b4b4" stroke-width="1.2"/>
<rect x="278.1" y="92.89999999999999" width="4.8" height="4.8" fill="#a82430"/>
<text x="303" y="101.5" class="lg">HemB mice - no treatment</text>
<path d="M264.6 490.4H295.8" stroke="#9c9cac" stroke-width="1.2"/>
<circle cx="280.5" cy="490.4" r="3.3" fill="#35428e"/>
<text x="303" y="495.6" class="lg">WT controls</text>
<path d="M264.6 507.9H295.8" stroke="#bcc4bc" stroke-width="1.2"/>
<rect x="278.1" y="505.5" width="4.8" height="4.8" fill="#3f6e3f"/>
<text x="303" y="514.0" class="lg">HemB mice w/BeneFIX</text>
<path d="M264.6 527.3H295.8" stroke="#c4b4b4" stroke-width="1.2"/>
<rect x="278.1" y="524.9" width="4.8" height="4.8" fill="#a82430"/>
<text x="303" y="532.5" class="lg">HemB mice - no treatment</text>
</svg>
</body></html>
